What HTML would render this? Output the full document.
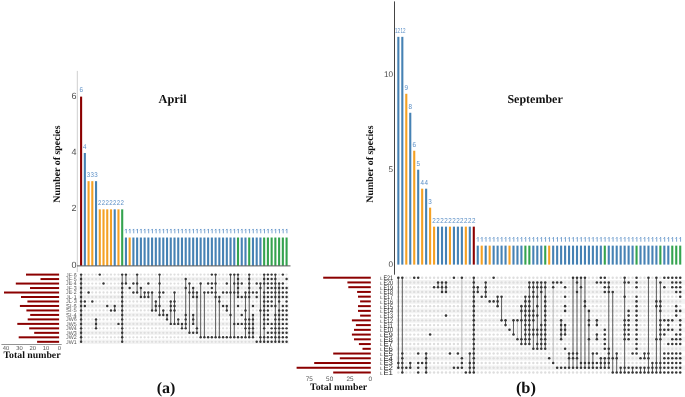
<!DOCTYPE html><html><head><meta charset="utf-8"><style>html,body{margin:0;padding:0;background:#fff;}svg{display:block;will-change:transform;} text{font-family:"Liberation Sans", sans-serif;text-rendering:geometricPrecision;} .sf{font-family:"Liberation Serif", serif;font-weight:bold;}</style></head><body>
<svg width="685" height="397" viewBox="0 0 685 397">
<rect width="685" height="397" fill="#fff"/>
<line x1="77.3" y1="70.9" x2="77.3" y2="272" stroke="#cfcfcf" stroke-width="1"/>
<text x="76.4" y="267.8" text-anchor="end" font-size="9" fill="#4d4d4d">0</text>
<text x="76.4" y="211.44" text-anchor="end" font-size="9" fill="#4d4d4d">2</text>
<text x="76.4" y="155.08" text-anchor="end" font-size="9" fill="#4d4d4d">4</text>
<text x="76.4" y="98.72" text-anchor="end" font-size="9" fill="#4d4d4d">6</text>
<rect x="80.05" y="96.62" width="2.1" height="169.08" fill="#8b0000"/>
<rect x="83.79" y="152.98" width="2.1" height="112.72" fill="#4682b4"/>
<rect x="87.52" y="181.16" width="2.1" height="84.54" fill="#f4a124"/>
<rect x="91.26" y="181.16" width="2.1" height="84.54" fill="#f4a124"/>
<rect x="94.99" y="181.16" width="2.1" height="84.54" fill="#4682b4"/>
<rect x="98.73" y="209.34" width="2.1" height="56.36" fill="#f4a124"/>
<rect x="102.47" y="209.34" width="2.1" height="56.36" fill="#f4a124"/>
<rect x="106.2" y="209.34" width="2.1" height="56.36" fill="#f4a124"/>
<rect x="109.94" y="209.34" width="2.1" height="56.36" fill="#f4a124"/>
<rect x="113.67" y="209.34" width="2.1" height="56.36" fill="#4682b4"/>
<rect x="117.41" y="209.34" width="2.1" height="56.36" fill="#f4a124"/>
<rect x="121.15" y="209.34" width="2.1" height="56.36" fill="#34a34f"/>
<rect x="124.88" y="237.52" width="2.1" height="28.18" fill="#4682b4"/>
<rect x="128.62" y="237.52" width="2.1" height="28.18" fill="#f4a124"/>
<rect x="132.35" y="237.52" width="2.1" height="28.18" fill="#4682b4"/>
<rect x="136.09" y="237.52" width="2.1" height="28.18" fill="#4682b4"/>
<rect x="139.83" y="237.52" width="2.1" height="28.18" fill="#4682b4"/>
<rect x="143.56" y="237.52" width="2.1" height="28.18" fill="#4682b4"/>
<rect x="147.3" y="237.52" width="2.1" height="28.18" fill="#4682b4"/>
<rect x="151.03" y="237.52" width="2.1" height="28.18" fill="#4682b4"/>
<rect x="154.77" y="237.52" width="2.1" height="28.18" fill="#4682b4"/>
<rect x="158.51" y="237.52" width="2.1" height="28.18" fill="#4682b4"/>
<rect x="162.24" y="237.52" width="2.1" height="28.18" fill="#4682b4"/>
<rect x="165.98" y="237.52" width="2.1" height="28.18" fill="#4682b4"/>
<rect x="169.71" y="237.52" width="2.1" height="28.18" fill="#4682b4"/>
<rect x="173.45" y="237.52" width="2.1" height="28.18" fill="#4682b4"/>
<rect x="177.19" y="237.52" width="2.1" height="28.18" fill="#4682b4"/>
<rect x="180.92" y="237.52" width="2.1" height="28.18" fill="#4682b4"/>
<rect x="184.66" y="237.52" width="2.1" height="28.18" fill="#4682b4"/>
<rect x="188.39" y="237.52" width="2.1" height="28.18" fill="#4682b4"/>
<rect x="192.13" y="237.52" width="2.1" height="28.18" fill="#4682b4"/>
<rect x="195.87" y="237.52" width="2.1" height="28.18" fill="#4682b4"/>
<rect x="199.6" y="237.52" width="2.1" height="28.18" fill="#4682b4"/>
<rect x="203.34" y="237.52" width="2.1" height="28.18" fill="#4682b4"/>
<rect x="207.07" y="237.52" width="2.1" height="28.18" fill="#4682b4"/>
<rect x="210.81" y="237.52" width="2.1" height="28.18" fill="#4682b4"/>
<rect x="214.55" y="237.52" width="2.1" height="28.18" fill="#4682b4"/>
<rect x="218.28" y="237.52" width="2.1" height="28.18" fill="#4682b4"/>
<rect x="222.02" y="237.52" width="2.1" height="28.18" fill="#4682b4"/>
<rect x="225.75" y="237.52" width="2.1" height="28.18" fill="#4682b4"/>
<rect x="229.49" y="237.52" width="2.1" height="28.18" fill="#4682b4"/>
<rect x="233.23" y="237.52" width="2.1" height="28.18" fill="#4682b4"/>
<rect x="236.96" y="237.52" width="2.1" height="28.18" fill="#34a34f"/>
<rect x="240.7" y="237.52" width="2.1" height="28.18" fill="#4682b4"/>
<rect x="244.43" y="237.52" width="2.1" height="28.18" fill="#4682b4"/>
<rect x="248.17" y="237.52" width="2.1" height="28.18" fill="#34a34f"/>
<rect x="251.91" y="237.52" width="2.1" height="28.18" fill="#4682b4"/>
<rect x="255.64" y="237.52" width="2.1" height="28.18" fill="#4682b4"/>
<rect x="259.38" y="237.52" width="2.1" height="28.18" fill="#4682b4"/>
<rect x="263.11" y="237.52" width="2.1" height="28.18" fill="#34a34f"/>
<rect x="266.85" y="237.52" width="2.1" height="28.18" fill="#34a34f"/>
<rect x="270.59" y="237.52" width="2.1" height="28.18" fill="#34a34f"/>
<rect x="274.32" y="237.52" width="2.1" height="28.18" fill="#34a34f"/>
<rect x="278.06" y="237.52" width="2.1" height="28.18" fill="#34a34f"/>
<rect x="281.79" y="237.52" width="2.1" height="28.18" fill="#34a34f"/>
<rect x="285.53" y="237.52" width="2.1" height="28.18" fill="#34a34f"/>
<text x="81.1" y="92.42" text-anchor="middle" font-size="7" fill="#5b8fc6" textLength="3.45" lengthAdjust="spacingAndGlyphs">6</text>
<text x="84.84" y="148.78" text-anchor="middle" font-size="7" fill="#5b8fc6" textLength="3.45" lengthAdjust="spacingAndGlyphs">4</text>
<text x="88.57" y="176.96" text-anchor="middle" font-size="7" fill="#5b8fc6" textLength="3.45" lengthAdjust="spacingAndGlyphs">3</text>
<text x="92.31" y="176.96" text-anchor="middle" font-size="7" fill="#5b8fc6" textLength="3.45" lengthAdjust="spacingAndGlyphs">3</text>
<text x="96.04" y="176.96" text-anchor="middle" font-size="7" fill="#5b8fc6" textLength="3.45" lengthAdjust="spacingAndGlyphs">3</text>
<text x="99.78" y="205.14" text-anchor="middle" font-size="7" fill="#5b8fc6" textLength="3.45" lengthAdjust="spacingAndGlyphs">2</text>
<text x="103.52" y="205.14" text-anchor="middle" font-size="7" fill="#5b8fc6" textLength="3.45" lengthAdjust="spacingAndGlyphs">2</text>
<text x="107.25" y="205.14" text-anchor="middle" font-size="7" fill="#5b8fc6" textLength="3.45" lengthAdjust="spacingAndGlyphs">2</text>
<text x="110.99" y="205.14" text-anchor="middle" font-size="7" fill="#5b8fc6" textLength="3.45" lengthAdjust="spacingAndGlyphs">2</text>
<text x="114.72" y="205.14" text-anchor="middle" font-size="7" fill="#5b8fc6" textLength="3.45" lengthAdjust="spacingAndGlyphs">2</text>
<text x="118.46" y="205.14" text-anchor="middle" font-size="7" fill="#5b8fc6" textLength="3.45" lengthAdjust="spacingAndGlyphs">2</text>
<text x="122.2" y="205.14" text-anchor="middle" font-size="7" fill="#5b8fc6" textLength="3.45" lengthAdjust="spacingAndGlyphs">2</text>
<path d="M125.08 230.28L126.28 228.98L126.28 233.32" fill="none" stroke="#5b8fc6" stroke-width="0.8"/>
<path d="M128.82 230.28L130.02 228.98L130.02 233.32" fill="none" stroke="#5b8fc6" stroke-width="0.8"/>
<path d="M132.55 230.28L133.75 228.98L133.75 233.32" fill="none" stroke="#5b8fc6" stroke-width="0.8"/>
<path d="M136.29 230.28L137.49 228.98L137.49 233.32" fill="none" stroke="#5b8fc6" stroke-width="0.8"/>
<path d="M140.03 230.28L141.23 228.98L141.23 233.32" fill="none" stroke="#5b8fc6" stroke-width="0.8"/>
<path d="M143.76 230.28L144.96 228.98L144.96 233.32" fill="none" stroke="#5b8fc6" stroke-width="0.8"/>
<path d="M147.5 230.28L148.7 228.98L148.7 233.32" fill="none" stroke="#5b8fc6" stroke-width="0.8"/>
<path d="M151.23 230.28L152.43 228.98L152.43 233.32" fill="none" stroke="#5b8fc6" stroke-width="0.8"/>
<path d="M154.97 230.28L156.17 228.98L156.17 233.32" fill="none" stroke="#5b8fc6" stroke-width="0.8"/>
<path d="M158.71 230.28L159.91 228.98L159.91 233.32" fill="none" stroke="#5b8fc6" stroke-width="0.8"/>
<path d="M162.44 230.28L163.64 228.98L163.64 233.32" fill="none" stroke="#5b8fc6" stroke-width="0.8"/>
<path d="M166.18 230.28L167.38 228.98L167.38 233.32" fill="none" stroke="#5b8fc6" stroke-width="0.8"/>
<path d="M169.91 230.28L171.11 228.98L171.11 233.32" fill="none" stroke="#5b8fc6" stroke-width="0.8"/>
<path d="M173.65 230.28L174.85 228.98L174.85 233.32" fill="none" stroke="#5b8fc6" stroke-width="0.8"/>
<path d="M177.39 230.28L178.59 228.98L178.59 233.32" fill="none" stroke="#5b8fc6" stroke-width="0.8"/>
<path d="M181.12 230.28L182.32 228.98L182.32 233.32" fill="none" stroke="#5b8fc6" stroke-width="0.8"/>
<path d="M184.86 230.28L186.06 228.98L186.06 233.32" fill="none" stroke="#5b8fc6" stroke-width="0.8"/>
<path d="M188.59 230.28L189.79 228.98L189.79 233.32" fill="none" stroke="#5b8fc6" stroke-width="0.8"/>
<path d="M192.33 230.28L193.53 228.98L193.53 233.32" fill="none" stroke="#5b8fc6" stroke-width="0.8"/>
<path d="M196.07 230.28L197.27 228.98L197.27 233.32" fill="none" stroke="#5b8fc6" stroke-width="0.8"/>
<path d="M199.8 230.28L201 228.98L201 233.32" fill="none" stroke="#5b8fc6" stroke-width="0.8"/>
<path d="M203.54 230.28L204.74 228.98L204.74 233.32" fill="none" stroke="#5b8fc6" stroke-width="0.8"/>
<path d="M207.27 230.28L208.47 228.98L208.47 233.32" fill="none" stroke="#5b8fc6" stroke-width="0.8"/>
<path d="M211.01 230.28L212.21 228.98L212.21 233.32" fill="none" stroke="#5b8fc6" stroke-width="0.8"/>
<path d="M214.75 230.28L215.95 228.98L215.95 233.32" fill="none" stroke="#5b8fc6" stroke-width="0.8"/>
<path d="M218.48 230.28L219.68 228.98L219.68 233.32" fill="none" stroke="#5b8fc6" stroke-width="0.8"/>
<path d="M222.22 230.28L223.42 228.98L223.42 233.32" fill="none" stroke="#5b8fc6" stroke-width="0.8"/>
<path d="M225.95 230.28L227.15 228.98L227.15 233.32" fill="none" stroke="#5b8fc6" stroke-width="0.8"/>
<path d="M229.69 230.28L230.89 228.98L230.89 233.32" fill="none" stroke="#5b8fc6" stroke-width="0.8"/>
<path d="M233.43 230.28L234.63 228.98L234.63 233.32" fill="none" stroke="#5b8fc6" stroke-width="0.8"/>
<path d="M237.16 230.28L238.36 228.98L238.36 233.32" fill="none" stroke="#5b8fc6" stroke-width="0.8"/>
<path d="M240.9 230.28L242.1 228.98L242.1 233.32" fill="none" stroke="#5b8fc6" stroke-width="0.8"/>
<path d="M244.63 230.28L245.83 228.98L245.83 233.32" fill="none" stroke="#5b8fc6" stroke-width="0.8"/>
<path d="M248.37 230.28L249.57 228.98L249.57 233.32" fill="none" stroke="#5b8fc6" stroke-width="0.8"/>
<path d="M252.11 230.28L253.31 228.98L253.31 233.32" fill="none" stroke="#5b8fc6" stroke-width="0.8"/>
<path d="M255.84 230.28L257.04 228.98L257.04 233.32" fill="none" stroke="#5b8fc6" stroke-width="0.8"/>
<path d="M259.58 230.28L260.78 228.98L260.78 233.32" fill="none" stroke="#5b8fc6" stroke-width="0.8"/>
<path d="M263.31 230.28L264.51 228.98L264.51 233.32" fill="none" stroke="#5b8fc6" stroke-width="0.8"/>
<path d="M267.05 230.28L268.25 228.98L268.25 233.32" fill="none" stroke="#5b8fc6" stroke-width="0.8"/>
<path d="M270.79 230.28L271.99 228.98L271.99 233.32" fill="none" stroke="#5b8fc6" stroke-width="0.8"/>
<path d="M274.52 230.28L275.72 228.98L275.72 233.32" fill="none" stroke="#5b8fc6" stroke-width="0.8"/>
<path d="M278.26 230.28L279.46 228.98L279.46 233.32" fill="none" stroke="#5b8fc6" stroke-width="0.8"/>
<path d="M281.99 230.28L283.19 228.98L283.19 233.32" fill="none" stroke="#5b8fc6" stroke-width="0.8"/>
<path d="M285.73 230.28L286.93 228.98L286.93 233.32" fill="none" stroke="#5b8fc6" stroke-width="0.8"/>
<line x1="77" y1="265.9" x2="290.5" y2="265.9" stroke="#444" stroke-width="0.9"/>
<rect x="78.5" y="276.84" width="210.5" height="4.48" fill="#f3f3f3"/>
<rect x="78.5" y="285.8" width="210.5" height="4.48" fill="#f3f3f3"/>
<rect x="78.5" y="294.76" width="210.5" height="4.48" fill="#f3f3f3"/>
<rect x="78.5" y="303.72" width="210.5" height="4.48" fill="#f3f3f3"/>
<rect x="78.5" y="312.68" width="210.5" height="4.48" fill="#f3f3f3"/>
<rect x="78.5" y="321.64" width="210.5" height="4.48" fill="#f3f3f3"/>
<rect x="78.5" y="330.6" width="210.5" height="4.48" fill="#f3f3f3"/>
<rect x="78.5" y="339.56" width="210.5" height="4.48" fill="#f3f3f3"/>
<circle cx="84.84" cy="274.6" r="1.15" fill="#dedede"/>
<circle cx="84.84" cy="279.08" r="1.15" fill="#dedede"/>
<circle cx="84.84" cy="283.56" r="1.15" fill="#dedede"/>
<circle cx="84.84" cy="288.04" r="1.15" fill="#dedede"/>
<circle cx="84.84" cy="292.52" r="1.15" fill="#dedede"/>
<circle cx="84.84" cy="297" r="1.15" fill="#dedede"/>
<circle cx="84.84" cy="310.44" r="1.15" fill="#dedede"/>
<circle cx="84.84" cy="314.92" r="1.15" fill="#dedede"/>
<circle cx="84.84" cy="319.4" r="1.15" fill="#dedede"/>
<circle cx="84.84" cy="323.88" r="1.15" fill="#dedede"/>
<circle cx="84.84" cy="328.36" r="1.15" fill="#dedede"/>
<circle cx="84.84" cy="332.84" r="1.15" fill="#dedede"/>
<circle cx="84.84" cy="337.32" r="1.15" fill="#dedede"/>
<circle cx="84.84" cy="341.8" r="1.15" fill="#dedede"/>
<circle cx="88.57" cy="274.6" r="1.15" fill="#dedede"/>
<circle cx="88.57" cy="279.08" r="1.15" fill="#dedede"/>
<circle cx="88.57" cy="283.56" r="1.15" fill="#dedede"/>
<circle cx="88.57" cy="288.04" r="1.15" fill="#dedede"/>
<circle cx="88.57" cy="297" r="1.15" fill="#dedede"/>
<circle cx="88.57" cy="301.48" r="1.15" fill="#dedede"/>
<circle cx="88.57" cy="305.96" r="1.15" fill="#dedede"/>
<circle cx="88.57" cy="310.44" r="1.15" fill="#dedede"/>
<circle cx="88.57" cy="314.92" r="1.15" fill="#dedede"/>
<circle cx="88.57" cy="319.4" r="1.15" fill="#dedede"/>
<circle cx="88.57" cy="323.88" r="1.15" fill="#dedede"/>
<circle cx="88.57" cy="328.36" r="1.15" fill="#dedede"/>
<circle cx="88.57" cy="332.84" r="1.15" fill="#dedede"/>
<circle cx="88.57" cy="337.32" r="1.15" fill="#dedede"/>
<circle cx="88.57" cy="341.8" r="1.15" fill="#dedede"/>
<circle cx="92.31" cy="274.6" r="1.15" fill="#dedede"/>
<circle cx="92.31" cy="279.08" r="1.15" fill="#dedede"/>
<circle cx="92.31" cy="283.56" r="1.15" fill="#dedede"/>
<circle cx="92.31" cy="288.04" r="1.15" fill="#dedede"/>
<circle cx="92.31" cy="292.52" r="1.15" fill="#dedede"/>
<circle cx="92.31" cy="297" r="1.15" fill="#dedede"/>
<circle cx="92.31" cy="305.96" r="1.15" fill="#dedede"/>
<circle cx="92.31" cy="310.44" r="1.15" fill="#dedede"/>
<circle cx="92.31" cy="314.92" r="1.15" fill="#dedede"/>
<circle cx="92.31" cy="319.4" r="1.15" fill="#dedede"/>
<circle cx="92.31" cy="323.88" r="1.15" fill="#dedede"/>
<circle cx="92.31" cy="328.36" r="1.15" fill="#dedede"/>
<circle cx="92.31" cy="332.84" r="1.15" fill="#dedede"/>
<circle cx="92.31" cy="337.32" r="1.15" fill="#dedede"/>
<circle cx="92.31" cy="341.8" r="1.15" fill="#dedede"/>
<circle cx="96.04" cy="274.6" r="1.15" fill="#dedede"/>
<circle cx="96.04" cy="279.08" r="1.15" fill="#dedede"/>
<circle cx="96.04" cy="283.56" r="1.15" fill="#dedede"/>
<circle cx="96.04" cy="288.04" r="1.15" fill="#dedede"/>
<circle cx="96.04" cy="292.52" r="1.15" fill="#dedede"/>
<circle cx="96.04" cy="297" r="1.15" fill="#dedede"/>
<circle cx="96.04" cy="301.48" r="1.15" fill="#dedede"/>
<circle cx="96.04" cy="305.96" r="1.15" fill="#dedede"/>
<circle cx="96.04" cy="310.44" r="1.15" fill="#dedede"/>
<circle cx="96.04" cy="314.92" r="1.15" fill="#dedede"/>
<circle cx="96.04" cy="332.84" r="1.15" fill="#dedede"/>
<circle cx="96.04" cy="337.32" r="1.15" fill="#dedede"/>
<circle cx="96.04" cy="341.8" r="1.15" fill="#dedede"/>
<circle cx="99.78" cy="279.08" r="1.15" fill="#dedede"/>
<circle cx="99.78" cy="283.56" r="1.15" fill="#dedede"/>
<circle cx="99.78" cy="288.04" r="1.15" fill="#dedede"/>
<circle cx="99.78" cy="292.52" r="1.15" fill="#dedede"/>
<circle cx="99.78" cy="297" r="1.15" fill="#dedede"/>
<circle cx="99.78" cy="301.48" r="1.15" fill="#dedede"/>
<circle cx="99.78" cy="305.96" r="1.15" fill="#dedede"/>
<circle cx="99.78" cy="310.44" r="1.15" fill="#dedede"/>
<circle cx="99.78" cy="314.92" r="1.15" fill="#dedede"/>
<circle cx="99.78" cy="319.4" r="1.15" fill="#dedede"/>
<circle cx="99.78" cy="323.88" r="1.15" fill="#dedede"/>
<circle cx="99.78" cy="328.36" r="1.15" fill="#dedede"/>
<circle cx="99.78" cy="332.84" r="1.15" fill="#dedede"/>
<circle cx="99.78" cy="337.32" r="1.15" fill="#dedede"/>
<circle cx="99.78" cy="341.8" r="1.15" fill="#dedede"/>
<circle cx="103.52" cy="274.6" r="1.15" fill="#dedede"/>
<circle cx="103.52" cy="279.08" r="1.15" fill="#dedede"/>
<circle cx="103.52" cy="288.04" r="1.15" fill="#dedede"/>
<circle cx="103.52" cy="292.52" r="1.15" fill="#dedede"/>
<circle cx="103.52" cy="297" r="1.15" fill="#dedede"/>
<circle cx="103.52" cy="301.48" r="1.15" fill="#dedede"/>
<circle cx="103.52" cy="305.96" r="1.15" fill="#dedede"/>
<circle cx="103.52" cy="310.44" r="1.15" fill="#dedede"/>
<circle cx="103.52" cy="314.92" r="1.15" fill="#dedede"/>
<circle cx="103.52" cy="319.4" r="1.15" fill="#dedede"/>
<circle cx="103.52" cy="323.88" r="1.15" fill="#dedede"/>
<circle cx="103.52" cy="328.36" r="1.15" fill="#dedede"/>
<circle cx="103.52" cy="332.84" r="1.15" fill="#dedede"/>
<circle cx="103.52" cy="337.32" r="1.15" fill="#dedede"/>
<circle cx="103.52" cy="341.8" r="1.15" fill="#dedede"/>
<circle cx="107.25" cy="274.6" r="1.15" fill="#dedede"/>
<circle cx="107.25" cy="279.08" r="1.15" fill="#dedede"/>
<circle cx="107.25" cy="283.56" r="1.15" fill="#dedede"/>
<circle cx="107.25" cy="288.04" r="1.15" fill="#dedede"/>
<circle cx="107.25" cy="292.52" r="1.15" fill="#dedede"/>
<circle cx="107.25" cy="297" r="1.15" fill="#dedede"/>
<circle cx="107.25" cy="301.48" r="1.15" fill="#dedede"/>
<circle cx="107.25" cy="310.44" r="1.15" fill="#dedede"/>
<circle cx="107.25" cy="314.92" r="1.15" fill="#dedede"/>
<circle cx="107.25" cy="319.4" r="1.15" fill="#dedede"/>
<circle cx="107.25" cy="323.88" r="1.15" fill="#dedede"/>
<circle cx="107.25" cy="328.36" r="1.15" fill="#dedede"/>
<circle cx="107.25" cy="332.84" r="1.15" fill="#dedede"/>
<circle cx="107.25" cy="337.32" r="1.15" fill="#dedede"/>
<circle cx="107.25" cy="341.8" r="1.15" fill="#dedede"/>
<circle cx="110.99" cy="274.6" r="1.15" fill="#dedede"/>
<circle cx="110.99" cy="279.08" r="1.15" fill="#dedede"/>
<circle cx="110.99" cy="283.56" r="1.15" fill="#dedede"/>
<circle cx="110.99" cy="288.04" r="1.15" fill="#dedede"/>
<circle cx="110.99" cy="292.52" r="1.15" fill="#dedede"/>
<circle cx="110.99" cy="297" r="1.15" fill="#dedede"/>
<circle cx="110.99" cy="301.48" r="1.15" fill="#dedede"/>
<circle cx="110.99" cy="305.96" r="1.15" fill="#dedede"/>
<circle cx="110.99" cy="314.92" r="1.15" fill="#dedede"/>
<circle cx="110.99" cy="319.4" r="1.15" fill="#dedede"/>
<circle cx="110.99" cy="323.88" r="1.15" fill="#dedede"/>
<circle cx="110.99" cy="328.36" r="1.15" fill="#dedede"/>
<circle cx="110.99" cy="332.84" r="1.15" fill="#dedede"/>
<circle cx="110.99" cy="337.32" r="1.15" fill="#dedede"/>
<circle cx="110.99" cy="341.8" r="1.15" fill="#dedede"/>
<circle cx="114.72" cy="274.6" r="1.15" fill="#dedede"/>
<circle cx="114.72" cy="279.08" r="1.15" fill="#dedede"/>
<circle cx="114.72" cy="283.56" r="1.15" fill="#dedede"/>
<circle cx="114.72" cy="288.04" r="1.15" fill="#dedede"/>
<circle cx="114.72" cy="292.52" r="1.15" fill="#dedede"/>
<circle cx="114.72" cy="297" r="1.15" fill="#dedede"/>
<circle cx="114.72" cy="301.48" r="1.15" fill="#dedede"/>
<circle cx="114.72" cy="314.92" r="1.15" fill="#dedede"/>
<circle cx="114.72" cy="319.4" r="1.15" fill="#dedede"/>
<circle cx="114.72" cy="323.88" r="1.15" fill="#dedede"/>
<circle cx="114.72" cy="328.36" r="1.15" fill="#dedede"/>
<circle cx="114.72" cy="332.84" r="1.15" fill="#dedede"/>
<circle cx="114.72" cy="337.32" r="1.15" fill="#dedede"/>
<circle cx="114.72" cy="341.8" r="1.15" fill="#dedede"/>
<circle cx="118.46" cy="274.6" r="1.15" fill="#dedede"/>
<circle cx="118.46" cy="279.08" r="1.15" fill="#dedede"/>
<circle cx="118.46" cy="283.56" r="1.15" fill="#dedede"/>
<circle cx="118.46" cy="288.04" r="1.15" fill="#dedede"/>
<circle cx="118.46" cy="292.52" r="1.15" fill="#dedede"/>
<circle cx="118.46" cy="297" r="1.15" fill="#dedede"/>
<circle cx="118.46" cy="301.48" r="1.15" fill="#dedede"/>
<circle cx="118.46" cy="305.96" r="1.15" fill="#dedede"/>
<circle cx="118.46" cy="310.44" r="1.15" fill="#dedede"/>
<circle cx="118.46" cy="314.92" r="1.15" fill="#dedede"/>
<circle cx="118.46" cy="319.4" r="1.15" fill="#dedede"/>
<circle cx="118.46" cy="328.36" r="1.15" fill="#dedede"/>
<circle cx="118.46" cy="332.84" r="1.15" fill="#dedede"/>
<circle cx="118.46" cy="337.32" r="1.15" fill="#dedede"/>
<circle cx="118.46" cy="341.8" r="1.15" fill="#dedede"/>
<circle cx="122.2" cy="279.08" r="1.15" fill="#dedede"/>
<circle cx="125.93" cy="279.08" r="1.15" fill="#dedede"/>
<circle cx="125.93" cy="288.04" r="1.15" fill="#dedede"/>
<circle cx="125.93" cy="292.52" r="1.15" fill="#dedede"/>
<circle cx="125.93" cy="297" r="1.15" fill="#dedede"/>
<circle cx="125.93" cy="301.48" r="1.15" fill="#dedede"/>
<circle cx="125.93" cy="305.96" r="1.15" fill="#dedede"/>
<circle cx="125.93" cy="310.44" r="1.15" fill="#dedede"/>
<circle cx="125.93" cy="314.92" r="1.15" fill="#dedede"/>
<circle cx="125.93" cy="319.4" r="1.15" fill="#dedede"/>
<circle cx="125.93" cy="323.88" r="1.15" fill="#dedede"/>
<circle cx="125.93" cy="328.36" r="1.15" fill="#dedede"/>
<circle cx="125.93" cy="332.84" r="1.15" fill="#dedede"/>
<circle cx="125.93" cy="337.32" r="1.15" fill="#dedede"/>
<circle cx="125.93" cy="341.8" r="1.15" fill="#dedede"/>
<circle cx="129.67" cy="274.6" r="1.15" fill="#dedede"/>
<circle cx="129.67" cy="279.08" r="1.15" fill="#dedede"/>
<circle cx="129.67" cy="283.56" r="1.15" fill="#dedede"/>
<circle cx="129.67" cy="292.52" r="1.15" fill="#dedede"/>
<circle cx="129.67" cy="297" r="1.15" fill="#dedede"/>
<circle cx="129.67" cy="301.48" r="1.15" fill="#dedede"/>
<circle cx="129.67" cy="305.96" r="1.15" fill="#dedede"/>
<circle cx="129.67" cy="310.44" r="1.15" fill="#dedede"/>
<circle cx="129.67" cy="314.92" r="1.15" fill="#dedede"/>
<circle cx="129.67" cy="319.4" r="1.15" fill="#dedede"/>
<circle cx="129.67" cy="323.88" r="1.15" fill="#dedede"/>
<circle cx="129.67" cy="328.36" r="1.15" fill="#dedede"/>
<circle cx="129.67" cy="332.84" r="1.15" fill="#dedede"/>
<circle cx="129.67" cy="337.32" r="1.15" fill="#dedede"/>
<circle cx="129.67" cy="341.8" r="1.15" fill="#dedede"/>
<circle cx="133.4" cy="274.6" r="1.15" fill="#dedede"/>
<circle cx="133.4" cy="279.08" r="1.15" fill="#dedede"/>
<circle cx="133.4" cy="288.04" r="1.15" fill="#dedede"/>
<circle cx="133.4" cy="297" r="1.15" fill="#dedede"/>
<circle cx="133.4" cy="301.48" r="1.15" fill="#dedede"/>
<circle cx="133.4" cy="305.96" r="1.15" fill="#dedede"/>
<circle cx="133.4" cy="310.44" r="1.15" fill="#dedede"/>
<circle cx="133.4" cy="314.92" r="1.15" fill="#dedede"/>
<circle cx="133.4" cy="319.4" r="1.15" fill="#dedede"/>
<circle cx="133.4" cy="323.88" r="1.15" fill="#dedede"/>
<circle cx="133.4" cy="328.36" r="1.15" fill="#dedede"/>
<circle cx="133.4" cy="332.84" r="1.15" fill="#dedede"/>
<circle cx="133.4" cy="337.32" r="1.15" fill="#dedede"/>
<circle cx="133.4" cy="341.8" r="1.15" fill="#dedede"/>
<circle cx="137.14" cy="279.08" r="1.15" fill="#dedede"/>
<circle cx="137.14" cy="288.04" r="1.15" fill="#dedede"/>
<circle cx="137.14" cy="297" r="1.15" fill="#dedede"/>
<circle cx="137.14" cy="301.48" r="1.15" fill="#dedede"/>
<circle cx="137.14" cy="305.96" r="1.15" fill="#dedede"/>
<circle cx="137.14" cy="310.44" r="1.15" fill="#dedede"/>
<circle cx="137.14" cy="314.92" r="1.15" fill="#dedede"/>
<circle cx="137.14" cy="319.4" r="1.15" fill="#dedede"/>
<circle cx="137.14" cy="323.88" r="1.15" fill="#dedede"/>
<circle cx="137.14" cy="328.36" r="1.15" fill="#dedede"/>
<circle cx="137.14" cy="332.84" r="1.15" fill="#dedede"/>
<circle cx="137.14" cy="337.32" r="1.15" fill="#dedede"/>
<circle cx="137.14" cy="341.8" r="1.15" fill="#dedede"/>
<circle cx="140.88" cy="274.6" r="1.15" fill="#dedede"/>
<circle cx="140.88" cy="279.08" r="1.15" fill="#dedede"/>
<circle cx="140.88" cy="283.56" r="1.15" fill="#dedede"/>
<circle cx="140.88" cy="292.52" r="1.15" fill="#dedede"/>
<circle cx="140.88" cy="301.48" r="1.15" fill="#dedede"/>
<circle cx="140.88" cy="305.96" r="1.15" fill="#dedede"/>
<circle cx="140.88" cy="310.44" r="1.15" fill="#dedede"/>
<circle cx="140.88" cy="314.92" r="1.15" fill="#dedede"/>
<circle cx="140.88" cy="319.4" r="1.15" fill="#dedede"/>
<circle cx="140.88" cy="323.88" r="1.15" fill="#dedede"/>
<circle cx="140.88" cy="328.36" r="1.15" fill="#dedede"/>
<circle cx="140.88" cy="332.84" r="1.15" fill="#dedede"/>
<circle cx="140.88" cy="337.32" r="1.15" fill="#dedede"/>
<circle cx="140.88" cy="341.8" r="1.15" fill="#dedede"/>
<circle cx="144.61" cy="274.6" r="1.15" fill="#dedede"/>
<circle cx="144.61" cy="279.08" r="1.15" fill="#dedede"/>
<circle cx="144.61" cy="283.56" r="1.15" fill="#dedede"/>
<circle cx="144.61" cy="288.04" r="1.15" fill="#dedede"/>
<circle cx="144.61" cy="301.48" r="1.15" fill="#dedede"/>
<circle cx="144.61" cy="305.96" r="1.15" fill="#dedede"/>
<circle cx="144.61" cy="310.44" r="1.15" fill="#dedede"/>
<circle cx="144.61" cy="314.92" r="1.15" fill="#dedede"/>
<circle cx="144.61" cy="319.4" r="1.15" fill="#dedede"/>
<circle cx="144.61" cy="323.88" r="1.15" fill="#dedede"/>
<circle cx="144.61" cy="328.36" r="1.15" fill="#dedede"/>
<circle cx="144.61" cy="332.84" r="1.15" fill="#dedede"/>
<circle cx="144.61" cy="337.32" r="1.15" fill="#dedede"/>
<circle cx="144.61" cy="341.8" r="1.15" fill="#dedede"/>
<circle cx="148.35" cy="274.6" r="1.15" fill="#dedede"/>
<circle cx="148.35" cy="279.08" r="1.15" fill="#dedede"/>
<circle cx="148.35" cy="288.04" r="1.15" fill="#dedede"/>
<circle cx="148.35" cy="301.48" r="1.15" fill="#dedede"/>
<circle cx="148.35" cy="305.96" r="1.15" fill="#dedede"/>
<circle cx="148.35" cy="310.44" r="1.15" fill="#dedede"/>
<circle cx="148.35" cy="314.92" r="1.15" fill="#dedede"/>
<circle cx="148.35" cy="319.4" r="1.15" fill="#dedede"/>
<circle cx="148.35" cy="323.88" r="1.15" fill="#dedede"/>
<circle cx="148.35" cy="328.36" r="1.15" fill="#dedede"/>
<circle cx="148.35" cy="332.84" r="1.15" fill="#dedede"/>
<circle cx="148.35" cy="337.32" r="1.15" fill="#dedede"/>
<circle cx="148.35" cy="341.8" r="1.15" fill="#dedede"/>
<circle cx="152.08" cy="274.6" r="1.15" fill="#dedede"/>
<circle cx="152.08" cy="279.08" r="1.15" fill="#dedede"/>
<circle cx="152.08" cy="283.56" r="1.15" fill="#dedede"/>
<circle cx="152.08" cy="288.04" r="1.15" fill="#dedede"/>
<circle cx="152.08" cy="297" r="1.15" fill="#dedede"/>
<circle cx="152.08" cy="301.48" r="1.15" fill="#dedede"/>
<circle cx="152.08" cy="305.96" r="1.15" fill="#dedede"/>
<circle cx="152.08" cy="314.92" r="1.15" fill="#dedede"/>
<circle cx="152.08" cy="319.4" r="1.15" fill="#dedede"/>
<circle cx="152.08" cy="323.88" r="1.15" fill="#dedede"/>
<circle cx="152.08" cy="328.36" r="1.15" fill="#dedede"/>
<circle cx="152.08" cy="332.84" r="1.15" fill="#dedede"/>
<circle cx="152.08" cy="337.32" r="1.15" fill="#dedede"/>
<circle cx="152.08" cy="341.8" r="1.15" fill="#dedede"/>
<circle cx="155.82" cy="274.6" r="1.15" fill="#dedede"/>
<circle cx="155.82" cy="279.08" r="1.15" fill="#dedede"/>
<circle cx="155.82" cy="283.56" r="1.15" fill="#dedede"/>
<circle cx="155.82" cy="288.04" r="1.15" fill="#dedede"/>
<circle cx="155.82" cy="292.52" r="1.15" fill="#dedede"/>
<circle cx="155.82" cy="297" r="1.15" fill="#dedede"/>
<circle cx="155.82" cy="314.92" r="1.15" fill="#dedede"/>
<circle cx="155.82" cy="319.4" r="1.15" fill="#dedede"/>
<circle cx="155.82" cy="323.88" r="1.15" fill="#dedede"/>
<circle cx="155.82" cy="328.36" r="1.15" fill="#dedede"/>
<circle cx="155.82" cy="332.84" r="1.15" fill="#dedede"/>
<circle cx="155.82" cy="337.32" r="1.15" fill="#dedede"/>
<circle cx="155.82" cy="341.8" r="1.15" fill="#dedede"/>
<circle cx="159.56" cy="279.08" r="1.15" fill="#dedede"/>
<circle cx="159.56" cy="288.04" r="1.15" fill="#dedede"/>
<circle cx="159.56" cy="301.48" r="1.15" fill="#dedede"/>
<circle cx="159.56" cy="310.44" r="1.15" fill="#dedede"/>
<circle cx="159.56" cy="319.4" r="1.15" fill="#dedede"/>
<circle cx="159.56" cy="323.88" r="1.15" fill="#dedede"/>
<circle cx="159.56" cy="328.36" r="1.15" fill="#dedede"/>
<circle cx="159.56" cy="332.84" r="1.15" fill="#dedede"/>
<circle cx="159.56" cy="337.32" r="1.15" fill="#dedede"/>
<circle cx="159.56" cy="341.8" r="1.15" fill="#dedede"/>
<circle cx="163.29" cy="274.6" r="1.15" fill="#dedede"/>
<circle cx="163.29" cy="279.08" r="1.15" fill="#dedede"/>
<circle cx="163.29" cy="283.56" r="1.15" fill="#dedede"/>
<circle cx="163.29" cy="288.04" r="1.15" fill="#dedede"/>
<circle cx="163.29" cy="297" r="1.15" fill="#dedede"/>
<circle cx="163.29" cy="301.48" r="1.15" fill="#dedede"/>
<circle cx="163.29" cy="305.96" r="1.15" fill="#dedede"/>
<circle cx="163.29" cy="319.4" r="1.15" fill="#dedede"/>
<circle cx="163.29" cy="323.88" r="1.15" fill="#dedede"/>
<circle cx="163.29" cy="328.36" r="1.15" fill="#dedede"/>
<circle cx="163.29" cy="332.84" r="1.15" fill="#dedede"/>
<circle cx="163.29" cy="337.32" r="1.15" fill="#dedede"/>
<circle cx="163.29" cy="341.8" r="1.15" fill="#dedede"/>
<circle cx="167.03" cy="274.6" r="1.15" fill="#dedede"/>
<circle cx="167.03" cy="279.08" r="1.15" fill="#dedede"/>
<circle cx="167.03" cy="283.56" r="1.15" fill="#dedede"/>
<circle cx="167.03" cy="288.04" r="1.15" fill="#dedede"/>
<circle cx="167.03" cy="292.52" r="1.15" fill="#dedede"/>
<circle cx="167.03" cy="297" r="1.15" fill="#dedede"/>
<circle cx="167.03" cy="301.48" r="1.15" fill="#dedede"/>
<circle cx="167.03" cy="305.96" r="1.15" fill="#dedede"/>
<circle cx="167.03" cy="310.44" r="1.15" fill="#dedede"/>
<circle cx="167.03" cy="323.88" r="1.15" fill="#dedede"/>
<circle cx="167.03" cy="328.36" r="1.15" fill="#dedede"/>
<circle cx="167.03" cy="332.84" r="1.15" fill="#dedede"/>
<circle cx="167.03" cy="337.32" r="1.15" fill="#dedede"/>
<circle cx="167.03" cy="341.8" r="1.15" fill="#dedede"/>
<circle cx="170.76" cy="274.6" r="1.15" fill="#dedede"/>
<circle cx="170.76" cy="279.08" r="1.15" fill="#dedede"/>
<circle cx="170.76" cy="283.56" r="1.15" fill="#dedede"/>
<circle cx="170.76" cy="288.04" r="1.15" fill="#dedede"/>
<circle cx="170.76" cy="292.52" r="1.15" fill="#dedede"/>
<circle cx="170.76" cy="297" r="1.15" fill="#dedede"/>
<circle cx="170.76" cy="314.92" r="1.15" fill="#dedede"/>
<circle cx="170.76" cy="319.4" r="1.15" fill="#dedede"/>
<circle cx="170.76" cy="328.36" r="1.15" fill="#dedede"/>
<circle cx="170.76" cy="332.84" r="1.15" fill="#dedede"/>
<circle cx="170.76" cy="337.32" r="1.15" fill="#dedede"/>
<circle cx="170.76" cy="341.8" r="1.15" fill="#dedede"/>
<circle cx="174.5" cy="274.6" r="1.15" fill="#dedede"/>
<circle cx="174.5" cy="279.08" r="1.15" fill="#dedede"/>
<circle cx="174.5" cy="283.56" r="1.15" fill="#dedede"/>
<circle cx="174.5" cy="288.04" r="1.15" fill="#dedede"/>
<circle cx="174.5" cy="297" r="1.15" fill="#dedede"/>
<circle cx="174.5" cy="314.92" r="1.15" fill="#dedede"/>
<circle cx="174.5" cy="319.4" r="1.15" fill="#dedede"/>
<circle cx="174.5" cy="328.36" r="1.15" fill="#dedede"/>
<circle cx="174.5" cy="332.84" r="1.15" fill="#dedede"/>
<circle cx="174.5" cy="337.32" r="1.15" fill="#dedede"/>
<circle cx="174.5" cy="341.8" r="1.15" fill="#dedede"/>
<circle cx="178.24" cy="274.6" r="1.15" fill="#dedede"/>
<circle cx="178.24" cy="279.08" r="1.15" fill="#dedede"/>
<circle cx="178.24" cy="283.56" r="1.15" fill="#dedede"/>
<circle cx="178.24" cy="288.04" r="1.15" fill="#dedede"/>
<circle cx="178.24" cy="292.52" r="1.15" fill="#dedede"/>
<circle cx="178.24" cy="297" r="1.15" fill="#dedede"/>
<circle cx="178.24" cy="301.48" r="1.15" fill="#dedede"/>
<circle cx="178.24" cy="305.96" r="1.15" fill="#dedede"/>
<circle cx="178.24" cy="310.44" r="1.15" fill="#dedede"/>
<circle cx="178.24" cy="314.92" r="1.15" fill="#dedede"/>
<circle cx="178.24" cy="328.36" r="1.15" fill="#dedede"/>
<circle cx="178.24" cy="332.84" r="1.15" fill="#dedede"/>
<circle cx="178.24" cy="337.32" r="1.15" fill="#dedede"/>
<circle cx="178.24" cy="341.8" r="1.15" fill="#dedede"/>
<circle cx="181.97" cy="274.6" r="1.15" fill="#dedede"/>
<circle cx="181.97" cy="279.08" r="1.15" fill="#dedede"/>
<circle cx="181.97" cy="283.56" r="1.15" fill="#dedede"/>
<circle cx="181.97" cy="288.04" r="1.15" fill="#dedede"/>
<circle cx="181.97" cy="292.52" r="1.15" fill="#dedede"/>
<circle cx="181.97" cy="297" r="1.15" fill="#dedede"/>
<circle cx="181.97" cy="301.48" r="1.15" fill="#dedede"/>
<circle cx="181.97" cy="305.96" r="1.15" fill="#dedede"/>
<circle cx="181.97" cy="310.44" r="1.15" fill="#dedede"/>
<circle cx="181.97" cy="314.92" r="1.15" fill="#dedede"/>
<circle cx="181.97" cy="319.4" r="1.15" fill="#dedede"/>
<circle cx="181.97" cy="332.84" r="1.15" fill="#dedede"/>
<circle cx="181.97" cy="337.32" r="1.15" fill="#dedede"/>
<circle cx="181.97" cy="341.8" r="1.15" fill="#dedede"/>
<circle cx="185.71" cy="274.6" r="1.15" fill="#dedede"/>
<circle cx="185.71" cy="283.56" r="1.15" fill="#dedede"/>
<circle cx="185.71" cy="292.52" r="1.15" fill="#dedede"/>
<circle cx="185.71" cy="297" r="1.15" fill="#dedede"/>
<circle cx="185.71" cy="301.48" r="1.15" fill="#dedede"/>
<circle cx="185.71" cy="305.96" r="1.15" fill="#dedede"/>
<circle cx="185.71" cy="310.44" r="1.15" fill="#dedede"/>
<circle cx="185.71" cy="332.84" r="1.15" fill="#dedede"/>
<circle cx="185.71" cy="337.32" r="1.15" fill="#dedede"/>
<circle cx="185.71" cy="341.8" r="1.15" fill="#dedede"/>
<circle cx="189.44" cy="274.6" r="1.15" fill="#dedede"/>
<circle cx="189.44" cy="279.08" r="1.15" fill="#dedede"/>
<circle cx="189.44" cy="288.04" r="1.15" fill="#dedede"/>
<circle cx="189.44" cy="297" r="1.15" fill="#dedede"/>
<circle cx="189.44" cy="301.48" r="1.15" fill="#dedede"/>
<circle cx="189.44" cy="305.96" r="1.15" fill="#dedede"/>
<circle cx="189.44" cy="310.44" r="1.15" fill="#dedede"/>
<circle cx="189.44" cy="314.92" r="1.15" fill="#dedede"/>
<circle cx="189.44" cy="319.4" r="1.15" fill="#dedede"/>
<circle cx="189.44" cy="323.88" r="1.15" fill="#dedede"/>
<circle cx="189.44" cy="328.36" r="1.15" fill="#dedede"/>
<circle cx="189.44" cy="337.32" r="1.15" fill="#dedede"/>
<circle cx="189.44" cy="341.8" r="1.15" fill="#dedede"/>
<circle cx="193.18" cy="274.6" r="1.15" fill="#dedede"/>
<circle cx="193.18" cy="279.08" r="1.15" fill="#dedede"/>
<circle cx="193.18" cy="283.56" r="1.15" fill="#dedede"/>
<circle cx="193.18" cy="301.48" r="1.15" fill="#dedede"/>
<circle cx="193.18" cy="305.96" r="1.15" fill="#dedede"/>
<circle cx="193.18" cy="310.44" r="1.15" fill="#dedede"/>
<circle cx="193.18" cy="328.36" r="1.15" fill="#dedede"/>
<circle cx="193.18" cy="337.32" r="1.15" fill="#dedede"/>
<circle cx="193.18" cy="341.8" r="1.15" fill="#dedede"/>
<circle cx="196.92" cy="274.6" r="1.15" fill="#dedede"/>
<circle cx="196.92" cy="279.08" r="1.15" fill="#dedede"/>
<circle cx="196.92" cy="283.56" r="1.15" fill="#dedede"/>
<circle cx="196.92" cy="288.04" r="1.15" fill="#dedede"/>
<circle cx="196.92" cy="301.48" r="1.15" fill="#dedede"/>
<circle cx="196.92" cy="305.96" r="1.15" fill="#dedede"/>
<circle cx="196.92" cy="310.44" r="1.15" fill="#dedede"/>
<circle cx="196.92" cy="314.92" r="1.15" fill="#dedede"/>
<circle cx="196.92" cy="319.4" r="1.15" fill="#dedede"/>
<circle cx="196.92" cy="323.88" r="1.15" fill="#dedede"/>
<circle cx="196.92" cy="337.32" r="1.15" fill="#dedede"/>
<circle cx="196.92" cy="341.8" r="1.15" fill="#dedede"/>
<circle cx="200.65" cy="274.6" r="1.15" fill="#dedede"/>
<circle cx="200.65" cy="279.08" r="1.15" fill="#dedede"/>
<circle cx="200.65" cy="288.04" r="1.15" fill="#dedede"/>
<circle cx="200.65" cy="292.52" r="1.15" fill="#dedede"/>
<circle cx="200.65" cy="297" r="1.15" fill="#dedede"/>
<circle cx="200.65" cy="301.48" r="1.15" fill="#dedede"/>
<circle cx="200.65" cy="305.96" r="1.15" fill="#dedede"/>
<circle cx="200.65" cy="310.44" r="1.15" fill="#dedede"/>
<circle cx="200.65" cy="314.92" r="1.15" fill="#dedede"/>
<circle cx="200.65" cy="319.4" r="1.15" fill="#dedede"/>
<circle cx="200.65" cy="323.88" r="1.15" fill="#dedede"/>
<circle cx="200.65" cy="328.36" r="1.15" fill="#dedede"/>
<circle cx="200.65" cy="332.84" r="1.15" fill="#dedede"/>
<circle cx="200.65" cy="341.8" r="1.15" fill="#dedede"/>
<circle cx="204.39" cy="274.6" r="1.15" fill="#dedede"/>
<circle cx="204.39" cy="279.08" r="1.15" fill="#dedede"/>
<circle cx="204.39" cy="283.56" r="1.15" fill="#dedede"/>
<circle cx="204.39" cy="288.04" r="1.15" fill="#dedede"/>
<circle cx="204.39" cy="297" r="1.15" fill="#dedede"/>
<circle cx="204.39" cy="301.48" r="1.15" fill="#dedede"/>
<circle cx="204.39" cy="305.96" r="1.15" fill="#dedede"/>
<circle cx="204.39" cy="310.44" r="1.15" fill="#dedede"/>
<circle cx="204.39" cy="314.92" r="1.15" fill="#dedede"/>
<circle cx="204.39" cy="319.4" r="1.15" fill="#dedede"/>
<circle cx="204.39" cy="323.88" r="1.15" fill="#dedede"/>
<circle cx="204.39" cy="328.36" r="1.15" fill="#dedede"/>
<circle cx="204.39" cy="332.84" r="1.15" fill="#dedede"/>
<circle cx="204.39" cy="341.8" r="1.15" fill="#dedede"/>
<circle cx="208.12" cy="274.6" r="1.15" fill="#dedede"/>
<circle cx="208.12" cy="279.08" r="1.15" fill="#dedede"/>
<circle cx="208.12" cy="288.04" r="1.15" fill="#dedede"/>
<circle cx="208.12" cy="297" r="1.15" fill="#dedede"/>
<circle cx="208.12" cy="301.48" r="1.15" fill="#dedede"/>
<circle cx="208.12" cy="305.96" r="1.15" fill="#dedede"/>
<circle cx="208.12" cy="310.44" r="1.15" fill="#dedede"/>
<circle cx="208.12" cy="314.92" r="1.15" fill="#dedede"/>
<circle cx="208.12" cy="319.4" r="1.15" fill="#dedede"/>
<circle cx="208.12" cy="323.88" r="1.15" fill="#dedede"/>
<circle cx="208.12" cy="328.36" r="1.15" fill="#dedede"/>
<circle cx="208.12" cy="332.84" r="1.15" fill="#dedede"/>
<circle cx="208.12" cy="341.8" r="1.15" fill="#dedede"/>
<circle cx="211.86" cy="279.08" r="1.15" fill="#dedede"/>
<circle cx="211.86" cy="297" r="1.15" fill="#dedede"/>
<circle cx="211.86" cy="301.48" r="1.15" fill="#dedede"/>
<circle cx="211.86" cy="305.96" r="1.15" fill="#dedede"/>
<circle cx="211.86" cy="310.44" r="1.15" fill="#dedede"/>
<circle cx="211.86" cy="314.92" r="1.15" fill="#dedede"/>
<circle cx="211.86" cy="319.4" r="1.15" fill="#dedede"/>
<circle cx="211.86" cy="323.88" r="1.15" fill="#dedede"/>
<circle cx="211.86" cy="328.36" r="1.15" fill="#dedede"/>
<circle cx="211.86" cy="332.84" r="1.15" fill="#dedede"/>
<circle cx="211.86" cy="341.8" r="1.15" fill="#dedede"/>
<circle cx="215.6" cy="279.08" r="1.15" fill="#dedede"/>
<circle cx="215.6" cy="288.04" r="1.15" fill="#dedede"/>
<circle cx="215.6" cy="301.48" r="1.15" fill="#dedede"/>
<circle cx="215.6" cy="305.96" r="1.15" fill="#dedede"/>
<circle cx="215.6" cy="310.44" r="1.15" fill="#dedede"/>
<circle cx="215.6" cy="314.92" r="1.15" fill="#dedede"/>
<circle cx="215.6" cy="319.4" r="1.15" fill="#dedede"/>
<circle cx="215.6" cy="323.88" r="1.15" fill="#dedede"/>
<circle cx="215.6" cy="328.36" r="1.15" fill="#dedede"/>
<circle cx="215.6" cy="332.84" r="1.15" fill="#dedede"/>
<circle cx="215.6" cy="341.8" r="1.15" fill="#dedede"/>
<circle cx="219.33" cy="274.6" r="1.15" fill="#dedede"/>
<circle cx="219.33" cy="279.08" r="1.15" fill="#dedede"/>
<circle cx="219.33" cy="283.56" r="1.15" fill="#dedede"/>
<circle cx="219.33" cy="288.04" r="1.15" fill="#dedede"/>
<circle cx="219.33" cy="292.52" r="1.15" fill="#dedede"/>
<circle cx="219.33" cy="305.96" r="1.15" fill="#dedede"/>
<circle cx="219.33" cy="310.44" r="1.15" fill="#dedede"/>
<circle cx="219.33" cy="314.92" r="1.15" fill="#dedede"/>
<circle cx="219.33" cy="319.4" r="1.15" fill="#dedede"/>
<circle cx="219.33" cy="323.88" r="1.15" fill="#dedede"/>
<circle cx="219.33" cy="328.36" r="1.15" fill="#dedede"/>
<circle cx="219.33" cy="332.84" r="1.15" fill="#dedede"/>
<circle cx="219.33" cy="341.8" r="1.15" fill="#dedede"/>
<circle cx="223.07" cy="274.6" r="1.15" fill="#dedede"/>
<circle cx="223.07" cy="279.08" r="1.15" fill="#dedede"/>
<circle cx="223.07" cy="283.56" r="1.15" fill="#dedede"/>
<circle cx="223.07" cy="288.04" r="1.15" fill="#dedede"/>
<circle cx="223.07" cy="297" r="1.15" fill="#dedede"/>
<circle cx="223.07" cy="301.48" r="1.15" fill="#dedede"/>
<circle cx="223.07" cy="310.44" r="1.15" fill="#dedede"/>
<circle cx="223.07" cy="314.92" r="1.15" fill="#dedede"/>
<circle cx="223.07" cy="319.4" r="1.15" fill="#dedede"/>
<circle cx="223.07" cy="323.88" r="1.15" fill="#dedede"/>
<circle cx="223.07" cy="328.36" r="1.15" fill="#dedede"/>
<circle cx="223.07" cy="332.84" r="1.15" fill="#dedede"/>
<circle cx="223.07" cy="341.8" r="1.15" fill="#dedede"/>
<circle cx="226.8" cy="274.6" r="1.15" fill="#dedede"/>
<circle cx="226.8" cy="279.08" r="1.15" fill="#dedede"/>
<circle cx="226.8" cy="288.04" r="1.15" fill="#dedede"/>
<circle cx="226.8" cy="297" r="1.15" fill="#dedede"/>
<circle cx="226.8" cy="301.48" r="1.15" fill="#dedede"/>
<circle cx="226.8" cy="314.92" r="1.15" fill="#dedede"/>
<circle cx="226.8" cy="319.4" r="1.15" fill="#dedede"/>
<circle cx="226.8" cy="323.88" r="1.15" fill="#dedede"/>
<circle cx="226.8" cy="328.36" r="1.15" fill="#dedede"/>
<circle cx="226.8" cy="332.84" r="1.15" fill="#dedede"/>
<circle cx="226.8" cy="341.8" r="1.15" fill="#dedede"/>
<circle cx="230.54" cy="279.08" r="1.15" fill="#dedede"/>
<circle cx="230.54" cy="283.56" r="1.15" fill="#dedede"/>
<circle cx="230.54" cy="288.04" r="1.15" fill="#dedede"/>
<circle cx="230.54" cy="297" r="1.15" fill="#dedede"/>
<circle cx="230.54" cy="301.48" r="1.15" fill="#dedede"/>
<circle cx="230.54" cy="305.96" r="1.15" fill="#dedede"/>
<circle cx="230.54" cy="310.44" r="1.15" fill="#dedede"/>
<circle cx="230.54" cy="319.4" r="1.15" fill="#dedede"/>
<circle cx="230.54" cy="323.88" r="1.15" fill="#dedede"/>
<circle cx="230.54" cy="328.36" r="1.15" fill="#dedede"/>
<circle cx="230.54" cy="332.84" r="1.15" fill="#dedede"/>
<circle cx="230.54" cy="341.8" r="1.15" fill="#dedede"/>
<circle cx="234.28" cy="279.08" r="1.15" fill="#dedede"/>
<circle cx="234.28" cy="288.04" r="1.15" fill="#dedede"/>
<circle cx="234.28" cy="297" r="1.15" fill="#dedede"/>
<circle cx="234.28" cy="301.48" r="1.15" fill="#dedede"/>
<circle cx="234.28" cy="305.96" r="1.15" fill="#dedede"/>
<circle cx="234.28" cy="310.44" r="1.15" fill="#dedede"/>
<circle cx="234.28" cy="314.92" r="1.15" fill="#dedede"/>
<circle cx="234.28" cy="319.4" r="1.15" fill="#dedede"/>
<circle cx="234.28" cy="328.36" r="1.15" fill="#dedede"/>
<circle cx="234.28" cy="332.84" r="1.15" fill="#dedede"/>
<circle cx="234.28" cy="341.8" r="1.15" fill="#dedede"/>
<circle cx="238.01" cy="301.48" r="1.15" fill="#dedede"/>
<circle cx="238.01" cy="310.44" r="1.15" fill="#dedede"/>
<circle cx="238.01" cy="314.92" r="1.15" fill="#dedede"/>
<circle cx="238.01" cy="319.4" r="1.15" fill="#dedede"/>
<circle cx="238.01" cy="328.36" r="1.15" fill="#dedede"/>
<circle cx="238.01" cy="332.84" r="1.15" fill="#dedede"/>
<circle cx="238.01" cy="341.8" r="1.15" fill="#dedede"/>
<circle cx="241.75" cy="274.6" r="1.15" fill="#dedede"/>
<circle cx="241.75" cy="279.08" r="1.15" fill="#dedede"/>
<circle cx="241.75" cy="288.04" r="1.15" fill="#dedede"/>
<circle cx="241.75" cy="292.52" r="1.15" fill="#dedede"/>
<circle cx="241.75" cy="301.48" r="1.15" fill="#dedede"/>
<circle cx="241.75" cy="305.96" r="1.15" fill="#dedede"/>
<circle cx="241.75" cy="310.44" r="1.15" fill="#dedede"/>
<circle cx="241.75" cy="319.4" r="1.15" fill="#dedede"/>
<circle cx="241.75" cy="328.36" r="1.15" fill="#dedede"/>
<circle cx="241.75" cy="332.84" r="1.15" fill="#dedede"/>
<circle cx="241.75" cy="341.8" r="1.15" fill="#dedede"/>
<circle cx="245.48" cy="274.6" r="1.15" fill="#dedede"/>
<circle cx="245.48" cy="279.08" r="1.15" fill="#dedede"/>
<circle cx="245.48" cy="283.56" r="1.15" fill="#dedede"/>
<circle cx="245.48" cy="288.04" r="1.15" fill="#dedede"/>
<circle cx="245.48" cy="301.48" r="1.15" fill="#dedede"/>
<circle cx="245.48" cy="305.96" r="1.15" fill="#dedede"/>
<circle cx="245.48" cy="314.92" r="1.15" fill="#dedede"/>
<circle cx="245.48" cy="332.84" r="1.15" fill="#dedede"/>
<circle cx="245.48" cy="341.8" r="1.15" fill="#dedede"/>
<circle cx="249.22" cy="301.48" r="1.15" fill="#dedede"/>
<circle cx="249.22" cy="305.96" r="1.15" fill="#dedede"/>
<circle cx="249.22" cy="310.44" r="1.15" fill="#dedede"/>
<circle cx="249.22" cy="314.92" r="1.15" fill="#dedede"/>
<circle cx="249.22" cy="341.8" r="1.15" fill="#dedede"/>
<circle cx="252.96" cy="274.6" r="1.15" fill="#dedede"/>
<circle cx="252.96" cy="279.08" r="1.15" fill="#dedede"/>
<circle cx="252.96" cy="283.56" r="1.15" fill="#dedede"/>
<circle cx="252.96" cy="288.04" r="1.15" fill="#dedede"/>
<circle cx="252.96" cy="297" r="1.15" fill="#dedede"/>
<circle cx="252.96" cy="301.48" r="1.15" fill="#dedede"/>
<circle cx="252.96" cy="310.44" r="1.15" fill="#dedede"/>
<circle cx="252.96" cy="341.8" r="1.15" fill="#dedede"/>
<circle cx="256.69" cy="274.6" r="1.15" fill="#dedede"/>
<circle cx="256.69" cy="279.08" r="1.15" fill="#dedede"/>
<circle cx="256.69" cy="288.04" r="1.15" fill="#dedede"/>
<circle cx="256.69" cy="301.48" r="1.15" fill="#dedede"/>
<circle cx="256.69" cy="305.96" r="1.15" fill="#dedede"/>
<circle cx="256.69" cy="310.44" r="1.15" fill="#dedede"/>
<circle cx="256.69" cy="314.92" r="1.15" fill="#dedede"/>
<circle cx="256.69" cy="319.4" r="1.15" fill="#dedede"/>
<circle cx="256.69" cy="323.88" r="1.15" fill="#dedede"/>
<circle cx="256.69" cy="328.36" r="1.15" fill="#dedede"/>
<circle cx="256.69" cy="332.84" r="1.15" fill="#dedede"/>
<circle cx="256.69" cy="337.32" r="1.15" fill="#dedede"/>
<circle cx="260.43" cy="274.6" r="1.15" fill="#dedede"/>
<circle cx="260.43" cy="279.08" r="1.15" fill="#dedede"/>
<circle cx="260.43" cy="292.52" r="1.15" fill="#dedede"/>
<circle cx="260.43" cy="297" r="1.15" fill="#dedede"/>
<circle cx="260.43" cy="301.48" r="1.15" fill="#dedede"/>
<circle cx="260.43" cy="305.96" r="1.15" fill="#dedede"/>
<circle cx="260.43" cy="314.92" r="1.15" fill="#dedede"/>
<circle cx="260.43" cy="319.4" r="1.15" fill="#dedede"/>
<circle cx="260.43" cy="323.88" r="1.15" fill="#dedede"/>
<circle cx="260.43" cy="328.36" r="1.15" fill="#dedede"/>
<circle cx="260.43" cy="332.84" r="1.15" fill="#dedede"/>
<circle cx="264.16" cy="288.04" r="1.15" fill="#dedede"/>
<circle cx="264.16" cy="332.84" r="1.15" fill="#dedede"/>
<circle cx="267.9" cy="328.36" r="1.15" fill="#dedede"/>
<circle cx="271.64" cy="310.44" r="1.15" fill="#dedede"/>
<circle cx="271.64" cy="314.92" r="1.15" fill="#dedede"/>
<circle cx="271.64" cy="319.4" r="1.15" fill="#dedede"/>
<circle cx="275.37" cy="301.48" r="1.15" fill="#dedede"/>
<circle cx="275.37" cy="310.44" r="1.15" fill="#dedede"/>
<circle cx="279.11" cy="274.6" r="1.15" fill="#dedede"/>
<circle cx="279.11" cy="279.08" r="1.15" fill="#dedede"/>
<circle cx="279.11" cy="305.96" r="1.15" fill="#dedede"/>
<circle cx="282.84" cy="279.08" r="1.15" fill="#dedede"/>
<circle cx="282.84" cy="301.48" r="1.15" fill="#dedede"/>
<circle cx="286.58" cy="274.6" r="1.15" fill="#dedede"/>
<circle cx="286.58" cy="283.56" r="1.15" fill="#dedede"/>
<line x1="81.1" y1="274.6" x2="81.1" y2="341.8" stroke="#555555" stroke-width="0.95"/>
<circle cx="81.1" cy="274.6" r="1.22" fill="#353535"/>
<circle cx="81.1" cy="279.08" r="1.22" fill="#353535"/>
<circle cx="81.1" cy="283.56" r="1.22" fill="#353535"/>
<circle cx="81.1" cy="288.04" r="1.22" fill="#353535"/>
<circle cx="81.1" cy="292.52" r="1.22" fill="#353535"/>
<circle cx="81.1" cy="297" r="1.22" fill="#353535"/>
<circle cx="81.1" cy="301.48" r="1.22" fill="#353535"/>
<circle cx="81.1" cy="305.96" r="1.22" fill="#353535"/>
<circle cx="81.1" cy="310.44" r="1.22" fill="#353535"/>
<circle cx="81.1" cy="314.92" r="1.22" fill="#353535"/>
<circle cx="81.1" cy="319.4" r="1.22" fill="#353535"/>
<circle cx="81.1" cy="323.88" r="1.22" fill="#353535"/>
<circle cx="81.1" cy="328.36" r="1.22" fill="#353535"/>
<circle cx="81.1" cy="332.84" r="1.22" fill="#353535"/>
<circle cx="81.1" cy="337.32" r="1.22" fill="#353535"/>
<circle cx="81.1" cy="341.8" r="1.22" fill="#353535"/>
<circle cx="84.84" cy="301.48" r="1.22" fill="#353535"/>
<circle cx="84.84" cy="305.96" r="1.22" fill="#353535"/>
<circle cx="88.57" cy="292.52" r="1.22" fill="#353535"/>
<circle cx="92.31" cy="301.48" r="1.22" fill="#353535"/>
<line x1="96.04" y1="319.4" x2="96.04" y2="328.36" stroke="#555555" stroke-width="0.95"/>
<circle cx="96.04" cy="319.4" r="1.22" fill="#353535"/>
<circle cx="96.04" cy="323.88" r="1.22" fill="#353535"/>
<circle cx="96.04" cy="328.36" r="1.22" fill="#353535"/>
<circle cx="99.78" cy="274.6" r="1.22" fill="#353535"/>
<circle cx="103.52" cy="283.56" r="1.22" fill="#353535"/>
<circle cx="107.25" cy="305.96" r="1.22" fill="#353535"/>
<circle cx="110.99" cy="310.44" r="1.22" fill="#353535"/>
<line x1="114.72" y1="305.96" x2="114.72" y2="310.44" stroke="#555555" stroke-width="0.95"/>
<circle cx="114.72" cy="305.96" r="1.22" fill="#353535"/>
<circle cx="114.72" cy="310.44" r="1.22" fill="#353535"/>
<circle cx="118.46" cy="323.88" r="1.22" fill="#353535"/>
<line x1="122.2" y1="274.6" x2="122.2" y2="341.8" stroke="#555555" stroke-width="0.95"/>
<circle cx="122.2" cy="274.6" r="1.22" fill="#353535"/>
<circle cx="122.2" cy="283.56" r="1.22" fill="#353535"/>
<circle cx="122.2" cy="288.04" r="1.22" fill="#353535"/>
<circle cx="122.2" cy="292.52" r="1.22" fill="#353535"/>
<circle cx="122.2" cy="297" r="1.22" fill="#353535"/>
<circle cx="122.2" cy="301.48" r="1.22" fill="#353535"/>
<circle cx="122.2" cy="305.96" r="1.22" fill="#353535"/>
<circle cx="122.2" cy="310.44" r="1.22" fill="#353535"/>
<circle cx="122.2" cy="314.92" r="1.22" fill="#353535"/>
<circle cx="122.2" cy="319.4" r="1.22" fill="#353535"/>
<circle cx="122.2" cy="323.88" r="1.22" fill="#353535"/>
<circle cx="122.2" cy="328.36" r="1.22" fill="#353535"/>
<circle cx="122.2" cy="332.84" r="1.22" fill="#353535"/>
<circle cx="122.2" cy="337.32" r="1.22" fill="#353535"/>
<circle cx="122.2" cy="341.8" r="1.22" fill="#353535"/>
<line x1="125.93" y1="274.6" x2="125.93" y2="283.56" stroke="#555555" stroke-width="0.95"/>
<circle cx="125.93" cy="274.6" r="1.22" fill="#353535"/>
<circle cx="125.93" cy="283.56" r="1.22" fill="#353535"/>
<circle cx="129.67" cy="288.04" r="1.22" fill="#353535"/>
<circle cx="133.4" cy="283.56" r="1.22" fill="#353535"/>
<circle cx="133.4" cy="292.52" r="1.22" fill="#353535"/>
<line x1="137.14" y1="274.6" x2="137.14" y2="292.52" stroke="#555555" stroke-width="0.95"/>
<circle cx="137.14" cy="274.6" r="1.22" fill="#353535"/>
<circle cx="137.14" cy="283.56" r="1.22" fill="#353535"/>
<circle cx="137.14" cy="292.52" r="1.22" fill="#353535"/>
<line x1="140.88" y1="288.04" x2="140.88" y2="297" stroke="#555555" stroke-width="0.95"/>
<circle cx="140.88" cy="288.04" r="1.22" fill="#353535"/>
<circle cx="140.88" cy="297" r="1.22" fill="#353535"/>
<line x1="144.61" y1="292.52" x2="144.61" y2="297" stroke="#555555" stroke-width="0.95"/>
<circle cx="144.61" cy="292.52" r="1.22" fill="#353535"/>
<circle cx="144.61" cy="297" r="1.22" fill="#353535"/>
<line x1="148.35" y1="292.52" x2="148.35" y2="297" stroke="#555555" stroke-width="0.95"/>
<circle cx="148.35" cy="283.56" r="1.22" fill="#353535"/>
<circle cx="148.35" cy="292.52" r="1.22" fill="#353535"/>
<circle cx="148.35" cy="297" r="1.22" fill="#353535"/>
<line x1="152.08" y1="292.52" x2="152.08" y2="310.44" stroke="#555555" stroke-width="0.95"/>
<circle cx="152.08" cy="292.52" r="1.22" fill="#353535"/>
<circle cx="152.08" cy="310.44" r="1.22" fill="#353535"/>
<line x1="155.82" y1="301.48" x2="155.82" y2="310.44" stroke="#555555" stroke-width="0.95"/>
<circle cx="155.82" cy="301.48" r="1.22" fill="#353535"/>
<circle cx="155.82" cy="305.96" r="1.22" fill="#353535"/>
<circle cx="155.82" cy="310.44" r="1.22" fill="#353535"/>
<line x1="159.56" y1="274.6" x2="159.56" y2="314.92" stroke="#555555" stroke-width="0.95"/>
<circle cx="159.56" cy="274.6" r="1.22" fill="#353535"/>
<circle cx="159.56" cy="283.56" r="1.22" fill="#353535"/>
<circle cx="159.56" cy="292.52" r="1.22" fill="#353535"/>
<circle cx="159.56" cy="297" r="1.22" fill="#353535"/>
<circle cx="159.56" cy="305.96" r="1.22" fill="#353535"/>
<circle cx="159.56" cy="314.92" r="1.22" fill="#353535"/>
<line x1="163.29" y1="310.44" x2="163.29" y2="314.92" stroke="#555555" stroke-width="0.95"/>
<circle cx="163.29" cy="292.52" r="1.22" fill="#353535"/>
<circle cx="163.29" cy="310.44" r="1.22" fill="#353535"/>
<circle cx="163.29" cy="314.92" r="1.22" fill="#353535"/>
<line x1="167.03" y1="314.92" x2="167.03" y2="319.4" stroke="#555555" stroke-width="0.95"/>
<circle cx="167.03" cy="314.92" r="1.22" fill="#353535"/>
<circle cx="167.03" cy="319.4" r="1.22" fill="#353535"/>
<line x1="170.76" y1="301.48" x2="170.76" y2="323.88" stroke="#555555" stroke-width="0.95"/>
<circle cx="170.76" cy="301.48" r="1.22" fill="#353535"/>
<circle cx="170.76" cy="305.96" r="1.22" fill="#353535"/>
<circle cx="170.76" cy="310.44" r="1.22" fill="#353535"/>
<circle cx="170.76" cy="323.88" r="1.22" fill="#353535"/>
<line x1="174.5" y1="292.52" x2="174.5" y2="323.88" stroke="#555555" stroke-width="0.95"/>
<circle cx="174.5" cy="292.52" r="1.22" fill="#353535"/>
<circle cx="174.5" cy="301.48" r="1.22" fill="#353535"/>
<circle cx="174.5" cy="305.96" r="1.22" fill="#353535"/>
<circle cx="174.5" cy="310.44" r="1.22" fill="#353535"/>
<circle cx="174.5" cy="323.88" r="1.22" fill="#353535"/>
<line x1="178.24" y1="319.4" x2="178.24" y2="323.88" stroke="#555555" stroke-width="0.95"/>
<circle cx="178.24" cy="319.4" r="1.22" fill="#353535"/>
<circle cx="178.24" cy="323.88" r="1.22" fill="#353535"/>
<line x1="181.97" y1="323.88" x2="181.97" y2="328.36" stroke="#555555" stroke-width="0.95"/>
<circle cx="181.97" cy="323.88" r="1.22" fill="#353535"/>
<circle cx="181.97" cy="328.36" r="1.22" fill="#353535"/>
<line x1="185.71" y1="279.08" x2="185.71" y2="328.36" stroke="#555555" stroke-width="0.95"/>
<circle cx="185.71" cy="279.08" r="1.22" fill="#353535"/>
<circle cx="185.71" cy="288.04" r="1.22" fill="#353535"/>
<circle cx="185.71" cy="314.92" r="1.22" fill="#353535"/>
<circle cx="185.71" cy="319.4" r="1.22" fill="#353535"/>
<circle cx="185.71" cy="323.88" r="1.22" fill="#353535"/>
<circle cx="185.71" cy="328.36" r="1.22" fill="#353535"/>
<line x1="189.44" y1="283.56" x2="189.44" y2="332.84" stroke="#555555" stroke-width="0.95"/>
<circle cx="189.44" cy="283.56" r="1.22" fill="#353535"/>
<circle cx="189.44" cy="292.52" r="1.22" fill="#353535"/>
<circle cx="189.44" cy="332.84" r="1.22" fill="#353535"/>
<line x1="193.18" y1="288.04" x2="193.18" y2="297" stroke="#555555" stroke-width="0.95"/>
<line x1="193.18" y1="314.92" x2="193.18" y2="323.88" stroke="#555555" stroke-width="0.95"/>
<circle cx="193.18" cy="288.04" r="1.22" fill="#353535"/>
<circle cx="193.18" cy="292.52" r="1.22" fill="#353535"/>
<circle cx="193.18" cy="297" r="1.22" fill="#353535"/>
<circle cx="193.18" cy="314.92" r="1.22" fill="#353535"/>
<circle cx="193.18" cy="319.4" r="1.22" fill="#353535"/>
<circle cx="193.18" cy="323.88" r="1.22" fill="#353535"/>
<circle cx="193.18" cy="332.84" r="1.22" fill="#353535"/>
<line x1="196.92" y1="292.52" x2="196.92" y2="332.84" stroke="#555555" stroke-width="0.95"/>
<circle cx="196.92" cy="292.52" r="1.22" fill="#353535"/>
<circle cx="196.92" cy="297" r="1.22" fill="#353535"/>
<circle cx="196.92" cy="328.36" r="1.22" fill="#353535"/>
<circle cx="196.92" cy="332.84" r="1.22" fill="#353535"/>
<line x1="200.65" y1="283.56" x2="200.65" y2="337.32" stroke="#555555" stroke-width="0.95"/>
<circle cx="200.65" cy="283.56" r="1.22" fill="#353535"/>
<circle cx="200.65" cy="337.32" r="1.22" fill="#353535"/>
<line x1="204.39" y1="292.52" x2="204.39" y2="337.32" stroke="#555555" stroke-width="0.95"/>
<circle cx="204.39" cy="292.52" r="1.22" fill="#353535"/>
<circle cx="204.39" cy="337.32" r="1.22" fill="#353535"/>
<circle cx="208.12" cy="283.56" r="1.22" fill="#353535"/>
<circle cx="208.12" cy="292.52" r="1.22" fill="#353535"/>
<circle cx="208.12" cy="337.32" r="1.22" fill="#353535"/>
<circle cx="211.86" cy="274.6" r="1.22" fill="#353535"/>
<circle cx="211.86" cy="283.56" r="1.22" fill="#353535"/>
<circle cx="211.86" cy="288.04" r="1.22" fill="#353535"/>
<circle cx="211.86" cy="292.52" r="1.22" fill="#353535"/>
<circle cx="211.86" cy="337.32" r="1.22" fill="#353535"/>
<line x1="215.6" y1="274.6" x2="215.6" y2="337.32" stroke="#555555" stroke-width="0.95"/>
<circle cx="215.6" cy="274.6" r="1.22" fill="#353535"/>
<circle cx="215.6" cy="283.56" r="1.22" fill="#353535"/>
<circle cx="215.6" cy="292.52" r="1.22" fill="#353535"/>
<circle cx="215.6" cy="297" r="1.22" fill="#353535"/>
<circle cx="215.6" cy="337.32" r="1.22" fill="#353535"/>
<line x1="219.33" y1="297" x2="219.33" y2="337.32" stroke="#555555" stroke-width="0.95"/>
<circle cx="219.33" cy="297" r="1.22" fill="#353535"/>
<circle cx="219.33" cy="301.48" r="1.22" fill="#353535"/>
<circle cx="219.33" cy="337.32" r="1.22" fill="#353535"/>
<circle cx="223.07" cy="292.52" r="1.22" fill="#353535"/>
<circle cx="223.07" cy="305.96" r="1.22" fill="#353535"/>
<circle cx="223.07" cy="337.32" r="1.22" fill="#353535"/>
<line x1="226.8" y1="305.96" x2="226.8" y2="310.44" stroke="#555555" stroke-width="0.95"/>
<circle cx="226.8" cy="283.56" r="1.22" fill="#353535"/>
<circle cx="226.8" cy="292.52" r="1.22" fill="#353535"/>
<circle cx="226.8" cy="305.96" r="1.22" fill="#353535"/>
<circle cx="226.8" cy="310.44" r="1.22" fill="#353535"/>
<circle cx="226.8" cy="337.32" r="1.22" fill="#353535"/>
<line x1="230.54" y1="274.6" x2="230.54" y2="337.32" stroke="#555555" stroke-width="0.95"/>
<circle cx="230.54" cy="274.6" r="1.22" fill="#353535"/>
<circle cx="230.54" cy="292.52" r="1.22" fill="#353535"/>
<circle cx="230.54" cy="314.92" r="1.22" fill="#353535"/>
<circle cx="230.54" cy="337.32" r="1.22" fill="#353535"/>
<line x1="234.28" y1="274.6" x2="234.28" y2="337.32" stroke="#555555" stroke-width="0.95"/>
<circle cx="234.28" cy="274.6" r="1.22" fill="#353535"/>
<circle cx="234.28" cy="283.56" r="1.22" fill="#353535"/>
<circle cx="234.28" cy="292.52" r="1.22" fill="#353535"/>
<circle cx="234.28" cy="323.88" r="1.22" fill="#353535"/>
<circle cx="234.28" cy="337.32" r="1.22" fill="#353535"/>
<line x1="238.01" y1="274.6" x2="238.01" y2="297" stroke="#555555" stroke-width="0.95"/>
<circle cx="238.01" cy="274.6" r="1.22" fill="#353535"/>
<circle cx="238.01" cy="279.08" r="1.22" fill="#353535"/>
<circle cx="238.01" cy="283.56" r="1.22" fill="#353535"/>
<circle cx="238.01" cy="288.04" r="1.22" fill="#353535"/>
<circle cx="238.01" cy="292.52" r="1.22" fill="#353535"/>
<circle cx="238.01" cy="297" r="1.22" fill="#353535"/>
<circle cx="238.01" cy="305.96" r="1.22" fill="#353535"/>
<circle cx="238.01" cy="323.88" r="1.22" fill="#353535"/>
<circle cx="238.01" cy="337.32" r="1.22" fill="#353535"/>
<circle cx="241.75" cy="283.56" r="1.22" fill="#353535"/>
<circle cx="241.75" cy="297" r="1.22" fill="#353535"/>
<circle cx="241.75" cy="314.92" r="1.22" fill="#353535"/>
<circle cx="241.75" cy="323.88" r="1.22" fill="#353535"/>
<circle cx="241.75" cy="337.32" r="1.22" fill="#353535"/>
<line x1="245.48" y1="292.52" x2="245.48" y2="337.32" stroke="#555555" stroke-width="0.95"/>
<circle cx="245.48" cy="292.52" r="1.22" fill="#353535"/>
<circle cx="245.48" cy="297" r="1.22" fill="#353535"/>
<circle cx="245.48" cy="310.44" r="1.22" fill="#353535"/>
<circle cx="245.48" cy="319.4" r="1.22" fill="#353535"/>
<circle cx="245.48" cy="323.88" r="1.22" fill="#353535"/>
<circle cx="245.48" cy="328.36" r="1.22" fill="#353535"/>
<circle cx="245.48" cy="337.32" r="1.22" fill="#353535"/>
<line x1="249.22" y1="274.6" x2="249.22" y2="337.32" stroke="#555555" stroke-width="0.95"/>
<circle cx="249.22" cy="274.6" r="1.22" fill="#353535"/>
<circle cx="249.22" cy="279.08" r="1.22" fill="#353535"/>
<circle cx="249.22" cy="283.56" r="1.22" fill="#353535"/>
<circle cx="249.22" cy="288.04" r="1.22" fill="#353535"/>
<circle cx="249.22" cy="292.52" r="1.22" fill="#353535"/>
<circle cx="249.22" cy="297" r="1.22" fill="#353535"/>
<circle cx="249.22" cy="319.4" r="1.22" fill="#353535"/>
<circle cx="249.22" cy="323.88" r="1.22" fill="#353535"/>
<circle cx="249.22" cy="328.36" r="1.22" fill="#353535"/>
<circle cx="249.22" cy="332.84" r="1.22" fill="#353535"/>
<circle cx="249.22" cy="337.32" r="1.22" fill="#353535"/>
<line x1="252.96" y1="314.92" x2="252.96" y2="337.32" stroke="#555555" stroke-width="0.95"/>
<circle cx="252.96" cy="292.52" r="1.22" fill="#353535"/>
<circle cx="252.96" cy="305.96" r="1.22" fill="#353535"/>
<circle cx="252.96" cy="314.92" r="1.22" fill="#353535"/>
<circle cx="252.96" cy="319.4" r="1.22" fill="#353535"/>
<circle cx="252.96" cy="323.88" r="1.22" fill="#353535"/>
<circle cx="252.96" cy="328.36" r="1.22" fill="#353535"/>
<circle cx="252.96" cy="332.84" r="1.22" fill="#353535"/>
<circle cx="252.96" cy="337.32" r="1.22" fill="#353535"/>
<circle cx="256.69" cy="283.56" r="1.22" fill="#353535"/>
<circle cx="256.69" cy="292.52" r="1.22" fill="#353535"/>
<circle cx="256.69" cy="297" r="1.22" fill="#353535"/>
<circle cx="256.69" cy="341.8" r="1.22" fill="#353535"/>
<line x1="260.43" y1="283.56" x2="260.43" y2="341.8" stroke="#555555" stroke-width="0.95"/>
<circle cx="260.43" cy="283.56" r="1.22" fill="#353535"/>
<circle cx="260.43" cy="288.04" r="1.22" fill="#353535"/>
<circle cx="260.43" cy="310.44" r="1.22" fill="#353535"/>
<circle cx="260.43" cy="337.32" r="1.22" fill="#353535"/>
<circle cx="260.43" cy="341.8" r="1.22" fill="#353535"/>
<line x1="264.16" y1="274.6" x2="264.16" y2="341.8" stroke="#555555" stroke-width="0.95"/>
<circle cx="264.16" cy="274.6" r="1.22" fill="#353535"/>
<circle cx="264.16" cy="279.08" r="1.22" fill="#353535"/>
<circle cx="264.16" cy="283.56" r="1.22" fill="#353535"/>
<circle cx="264.16" cy="292.52" r="1.22" fill="#353535"/>
<circle cx="264.16" cy="297" r="1.22" fill="#353535"/>
<circle cx="264.16" cy="301.48" r="1.22" fill="#353535"/>
<circle cx="264.16" cy="305.96" r="1.22" fill="#353535"/>
<circle cx="264.16" cy="310.44" r="1.22" fill="#353535"/>
<circle cx="264.16" cy="314.92" r="1.22" fill="#353535"/>
<circle cx="264.16" cy="319.4" r="1.22" fill="#353535"/>
<circle cx="264.16" cy="323.88" r="1.22" fill="#353535"/>
<circle cx="264.16" cy="328.36" r="1.22" fill="#353535"/>
<circle cx="264.16" cy="337.32" r="1.22" fill="#353535"/>
<circle cx="264.16" cy="341.8" r="1.22" fill="#353535"/>
<circle cx="267.9" cy="274.6" r="1.22" fill="#353535"/>
<circle cx="267.9" cy="279.08" r="1.22" fill="#353535"/>
<circle cx="267.9" cy="283.56" r="1.22" fill="#353535"/>
<circle cx="267.9" cy="288.04" r="1.22" fill="#353535"/>
<circle cx="267.9" cy="292.52" r="1.22" fill="#353535"/>
<circle cx="267.9" cy="297" r="1.22" fill="#353535"/>
<circle cx="267.9" cy="301.48" r="1.22" fill="#353535"/>
<circle cx="267.9" cy="305.96" r="1.22" fill="#353535"/>
<circle cx="267.9" cy="310.44" r="1.22" fill="#353535"/>
<circle cx="267.9" cy="314.92" r="1.22" fill="#353535"/>
<circle cx="267.9" cy="319.4" r="1.22" fill="#353535"/>
<circle cx="267.9" cy="323.88" r="1.22" fill="#353535"/>
<circle cx="267.9" cy="332.84" r="1.22" fill="#353535"/>
<circle cx="267.9" cy="337.32" r="1.22" fill="#353535"/>
<circle cx="267.9" cy="341.8" r="1.22" fill="#353535"/>
<circle cx="271.64" cy="274.6" r="1.22" fill="#353535"/>
<circle cx="271.64" cy="279.08" r="1.22" fill="#353535"/>
<circle cx="271.64" cy="283.56" r="1.22" fill="#353535"/>
<circle cx="271.64" cy="288.04" r="1.22" fill="#353535"/>
<circle cx="271.64" cy="292.52" r="1.22" fill="#353535"/>
<circle cx="271.64" cy="297" r="1.22" fill="#353535"/>
<circle cx="271.64" cy="301.48" r="1.22" fill="#353535"/>
<circle cx="271.64" cy="305.96" r="1.22" fill="#353535"/>
<circle cx="271.64" cy="323.88" r="1.22" fill="#353535"/>
<circle cx="271.64" cy="328.36" r="1.22" fill="#353535"/>
<circle cx="271.64" cy="332.84" r="1.22" fill="#353535"/>
<circle cx="271.64" cy="337.32" r="1.22" fill="#353535"/>
<circle cx="271.64" cy="341.8" r="1.22" fill="#353535"/>
<line x1="275.37" y1="274.6" x2="275.37" y2="341.8" stroke="#555555" stroke-width="0.95"/>
<circle cx="275.37" cy="274.6" r="1.22" fill="#353535"/>
<circle cx="275.37" cy="279.08" r="1.22" fill="#353535"/>
<circle cx="275.37" cy="283.56" r="1.22" fill="#353535"/>
<circle cx="275.37" cy="288.04" r="1.22" fill="#353535"/>
<circle cx="275.37" cy="292.52" r="1.22" fill="#353535"/>
<circle cx="275.37" cy="297" r="1.22" fill="#353535"/>
<circle cx="275.37" cy="305.96" r="1.22" fill="#353535"/>
<circle cx="275.37" cy="314.92" r="1.22" fill="#353535"/>
<circle cx="275.37" cy="319.4" r="1.22" fill="#353535"/>
<circle cx="275.37" cy="323.88" r="1.22" fill="#353535"/>
<circle cx="275.37" cy="328.36" r="1.22" fill="#353535"/>
<circle cx="275.37" cy="332.84" r="1.22" fill="#353535"/>
<circle cx="275.37" cy="337.32" r="1.22" fill="#353535"/>
<circle cx="275.37" cy="341.8" r="1.22" fill="#353535"/>
<line x1="279.11" y1="283.56" x2="279.11" y2="341.8" stroke="#555555" stroke-width="0.95"/>
<circle cx="279.11" cy="283.56" r="1.22" fill="#353535"/>
<circle cx="279.11" cy="288.04" r="1.22" fill="#353535"/>
<circle cx="279.11" cy="292.52" r="1.22" fill="#353535"/>
<circle cx="279.11" cy="297" r="1.22" fill="#353535"/>
<circle cx="279.11" cy="301.48" r="1.22" fill="#353535"/>
<circle cx="279.11" cy="310.44" r="1.22" fill="#353535"/>
<circle cx="279.11" cy="314.92" r="1.22" fill="#353535"/>
<circle cx="279.11" cy="319.4" r="1.22" fill="#353535"/>
<circle cx="279.11" cy="323.88" r="1.22" fill="#353535"/>
<circle cx="279.11" cy="328.36" r="1.22" fill="#353535"/>
<circle cx="279.11" cy="332.84" r="1.22" fill="#353535"/>
<circle cx="279.11" cy="337.32" r="1.22" fill="#353535"/>
<circle cx="279.11" cy="341.8" r="1.22" fill="#353535"/>
<circle cx="282.84" cy="274.6" r="1.22" fill="#353535"/>
<circle cx="282.84" cy="283.56" r="1.22" fill="#353535"/>
<circle cx="282.84" cy="288.04" r="1.22" fill="#353535"/>
<circle cx="282.84" cy="292.52" r="1.22" fill="#353535"/>
<circle cx="282.84" cy="297" r="1.22" fill="#353535"/>
<circle cx="282.84" cy="305.96" r="1.22" fill="#353535"/>
<circle cx="282.84" cy="310.44" r="1.22" fill="#353535"/>
<circle cx="282.84" cy="314.92" r="1.22" fill="#353535"/>
<circle cx="282.84" cy="319.4" r="1.22" fill="#353535"/>
<circle cx="282.84" cy="323.88" r="1.22" fill="#353535"/>
<circle cx="282.84" cy="328.36" r="1.22" fill="#353535"/>
<circle cx="282.84" cy="332.84" r="1.22" fill="#353535"/>
<circle cx="282.84" cy="337.32" r="1.22" fill="#353535"/>
<circle cx="282.84" cy="341.8" r="1.22" fill="#353535"/>
<circle cx="286.58" cy="279.08" r="1.22" fill="#353535"/>
<circle cx="286.58" cy="288.04" r="1.22" fill="#353535"/>
<circle cx="286.58" cy="292.52" r="1.22" fill="#353535"/>
<circle cx="286.58" cy="297" r="1.22" fill="#353535"/>
<circle cx="286.58" cy="301.48" r="1.22" fill="#353535"/>
<circle cx="286.58" cy="305.96" r="1.22" fill="#353535"/>
<circle cx="286.58" cy="310.44" r="1.22" fill="#353535"/>
<circle cx="286.58" cy="314.92" r="1.22" fill="#353535"/>
<circle cx="286.58" cy="319.4" r="1.22" fill="#353535"/>
<circle cx="286.58" cy="323.88" r="1.22" fill="#353535"/>
<circle cx="286.58" cy="328.36" r="1.22" fill="#353535"/>
<circle cx="286.58" cy="332.84" r="1.22" fill="#353535"/>
<circle cx="286.58" cy="337.32" r="1.22" fill="#353535"/>
<circle cx="286.58" cy="341.8" r="1.22" fill="#353535"/>
<rect x="26" y="273.6" width="33.1" height="2" fill="#8b0000"/>
<rect x="40.5" y="278.08" width="18.6" height="2" fill="#8b0000"/>
<rect x="15.8" y="282.56" width="43.3" height="2" fill="#8b0000"/>
<rect x="30" y="287.04" width="29.1" height="2" fill="#8b0000"/>
<rect x="4" y="291.52" width="55.1" height="2" fill="#8b0000"/>
<rect x="21" y="296" width="38.1" height="2" fill="#8b0000"/>
<rect x="27.4" y="300.48" width="31.7" height="2" fill="#8b0000"/>
<rect x="19.9" y="304.96" width="39.2" height="2" fill="#8b0000"/>
<rect x="26.4" y="309.44" width="32.7" height="2" fill="#8b0000"/>
<rect x="30.2" y="313.92" width="28.9" height="2" fill="#8b0000"/>
<rect x="27.7" y="318.4" width="31.4" height="2" fill="#8b0000"/>
<rect x="17.3" y="322.88" width="41.8" height="2" fill="#8b0000"/>
<rect x="29.2" y="327.36" width="29.9" height="2" fill="#8b0000"/>
<rect x="34.2" y="331.84" width="24.9" height="2" fill="#8b0000"/>
<rect x="18.7" y="336.32" width="40.4" height="2" fill="#8b0000"/>
<rect x="37.1" y="340.8" width="22" height="2" fill="#8b0000"/>
<line x1="1.4" y1="344.5" x2="61.7" y2="344.5" stroke="#777" stroke-width="0.8"/>
<text x="6.1" y="349.6" text-anchor="middle" font-size="5.8" fill="#555">40</text>
<text x="19.4" y="349.6" text-anchor="middle" font-size="5.8" fill="#555">30</text>
<text x="32.7" y="349.6" text-anchor="middle" font-size="5.8" fill="#555">20</text>
<text x="46" y="349.6" text-anchor="middle" font-size="5.8" fill="#555">10</text>
<text x="59.3" y="349.6" text-anchor="middle" font-size="5.8" fill="#555">0</text>
<text x="76.7" y="276.5" text-anchor="end" font-size="5.6" fill="#555" textLength="10.6" lengthAdjust="spacingAndGlyphs">JF·6</text>
<text x="76.7" y="280.98" text-anchor="end" font-size="5.6" fill="#555" textLength="10.6" lengthAdjust="spacingAndGlyphs">JF·5</text>
<text x="76.7" y="285.46" text-anchor="end" font-size="5.6" fill="#555" textLength="10.6" lengthAdjust="spacingAndGlyphs">JE·4</text>
<text x="76.7" y="289.94" text-anchor="end" font-size="5.6" fill="#555" textLength="10.6" lengthAdjust="spacingAndGlyphs">JF·3</text>
<text x="76.7" y="294.42" text-anchor="end" font-size="5.6" fill="#555" textLength="10.6" lengthAdjust="spacingAndGlyphs">JE·2</text>
<text x="76.7" y="298.9" text-anchor="end" font-size="5.6" fill="#555" textLength="10.6" lengthAdjust="spacingAndGlyphs">JL·1</text>
<text x="76.7" y="303.38" text-anchor="end" font-size="5.6" fill="#555" textLength="10.6" lengthAdjust="spacingAndGlyphs">JL·3</text>
<text x="76.7" y="307.86" text-anchor="end" font-size="5.6" fill="#555" textLength="10.6" lengthAdjust="spacingAndGlyphs">SI·6</text>
<text x="76.7" y="312.34" text-anchor="end" font-size="5.6" fill="#555" textLength="10.6" lengthAdjust="spacingAndGlyphs">SI·5</text>
<text x="76.7" y="316.82" text-anchor="end" font-size="5.6" fill="#555" textLength="10.6" lengthAdjust="spacingAndGlyphs">SI·4</text>
<text x="76.7" y="321.3" text-anchor="end" font-size="5.6" fill="#555" textLength="10.6" lengthAdjust="spacingAndGlyphs">JW6</text>
<text x="76.7" y="325.78" text-anchor="end" font-size="5.6" fill="#555" textLength="10.6" lengthAdjust="spacingAndGlyphs">JW5</text>
<text x="76.7" y="330.26" text-anchor="end" font-size="5.6" fill="#555" textLength="10.6" lengthAdjust="spacingAndGlyphs">JW4</text>
<text x="76.7" y="334.74" text-anchor="end" font-size="5.6" fill="#555" textLength="10.6" lengthAdjust="spacingAndGlyphs">JW3</text>
<text x="76.7" y="339.22" text-anchor="end" font-size="5.6" fill="#555" textLength="10.6" lengthAdjust="spacingAndGlyphs">JW2</text>
<text x="76.7" y="343.7" text-anchor="end" font-size="5.6" fill="#555" textLength="10.6" lengthAdjust="spacingAndGlyphs">JW1</text>
<text x="32" y="357.9" text-anchor="middle" class="sf" font-size="9.8" fill="#111">Total number</text>
<text x="172.6" y="103.4" text-anchor="middle" class="sf" font-size="12.3" fill="#111">April</text>
<text transform="translate(60.1,164.1) rotate(-90)" text-anchor="middle" class="sf" font-size="9.9" fill="#111">Number of species</text>
<text x="166" y="392.6" text-anchor="middle" class="sf" font-size="16" fill="#111">(a)</text>
<line x1="394.5" y1="1.4" x2="394.5" y2="274.7" stroke="#444" stroke-width="1"/>
<text x="393" y="266.6" text-anchor="end" font-size="8.2" fill="#4d4d4d">0</text>
<text x="393" y="171.7" text-anchor="end" font-size="8.2" fill="#4d4d4d">5</text>
<text x="393" y="76.8" text-anchor="end" font-size="8.2" fill="#4d4d4d">10</text>
<rect x="397.3" y="36.84" width="2.1" height="227.76" fill="#4682b4"/>
<rect x="401.27" y="36.84" width="2.1" height="227.76" fill="#4682b4"/>
<rect x="405.24" y="93.78" width="2.1" height="170.82" fill="#f4a124"/>
<rect x="409.21" y="112.76" width="2.1" height="151.84" fill="#4682b4"/>
<rect x="413.18" y="150.72" width="2.1" height="113.88" fill="#f4a124"/>
<rect x="417.15" y="169.7" width="2.1" height="94.9" fill="#4682b4"/>
<rect x="421.12" y="188.68" width="2.1" height="75.92" fill="#f4a124"/>
<rect x="425.09" y="188.68" width="2.1" height="75.92" fill="#4682b4"/>
<rect x="429.06" y="207.66" width="2.1" height="56.94" fill="#f4a124"/>
<rect x="433.03" y="226.64" width="2.1" height="37.96" fill="#f4a124"/>
<rect x="437" y="226.64" width="2.1" height="37.96" fill="#4682b4"/>
<rect x="440.97" y="226.64" width="2.1" height="37.96" fill="#4682b4"/>
<rect x="444.94" y="226.64" width="2.1" height="37.96" fill="#4682b4"/>
<rect x="448.91" y="226.64" width="2.1" height="37.96" fill="#f4a124"/>
<rect x="452.88" y="226.64" width="2.1" height="37.96" fill="#4682b4"/>
<rect x="456.85" y="226.64" width="2.1" height="37.96" fill="#4682b4"/>
<rect x="460.82" y="226.64" width="2.1" height="37.96" fill="#4682b4"/>
<rect x="464.79" y="226.64" width="2.1" height="37.96" fill="#f4a124"/>
<rect x="468.76" y="226.64" width="2.1" height="37.96" fill="#4682b4"/>
<rect x="472.73" y="226.64" width="2.1" height="37.96" fill="#8b0000"/>
<rect x="476.7" y="245.62" width="2.1" height="18.98" fill="#4682b4"/>
<rect x="480.67" y="245.62" width="2.1" height="18.98" fill="#f4a124"/>
<rect x="484.64" y="245.62" width="2.1" height="18.98" fill="#4682b4"/>
<rect x="488.61" y="245.62" width="2.1" height="18.98" fill="#f4a124"/>
<rect x="492.58" y="245.62" width="2.1" height="18.98" fill="#4682b4"/>
<rect x="496.55" y="245.62" width="2.1" height="18.98" fill="#4682b4"/>
<rect x="500.52" y="245.62" width="2.1" height="18.98" fill="#4682b4"/>
<rect x="504.49" y="245.62" width="2.1" height="18.98" fill="#4682b4"/>
<rect x="508.46" y="245.62" width="2.1" height="18.98" fill="#f4a124"/>
<rect x="512.43" y="245.62" width="2.1" height="18.98" fill="#4682b4"/>
<rect x="516.4" y="245.62" width="2.1" height="18.98" fill="#4682b4"/>
<rect x="520.37" y="245.62" width="2.1" height="18.98" fill="#4682b4"/>
<rect x="524.34" y="245.62" width="2.1" height="18.98" fill="#34a34f"/>
<rect x="528.31" y="245.62" width="2.1" height="18.98" fill="#34a34f"/>
<rect x="532.28" y="245.62" width="2.1" height="18.98" fill="#4682b4"/>
<rect x="536.25" y="245.62" width="2.1" height="18.98" fill="#4682b4"/>
<rect x="540.22" y="245.62" width="2.1" height="18.98" fill="#4682b4"/>
<rect x="544.19" y="245.62" width="2.1" height="18.98" fill="#34a34f"/>
<rect x="548.16" y="245.62" width="2.1" height="18.98" fill="#f4a124"/>
<rect x="552.13" y="245.62" width="2.1" height="18.98" fill="#4682b4"/>
<rect x="556.1" y="245.62" width="2.1" height="18.98" fill="#4682b4"/>
<rect x="560.07" y="245.62" width="2.1" height="18.98" fill="#4682b4"/>
<rect x="564.04" y="245.62" width="2.1" height="18.98" fill="#4682b4"/>
<rect x="568.01" y="245.62" width="2.1" height="18.98" fill="#4682b4"/>
<rect x="571.98" y="245.62" width="2.1" height="18.98" fill="#4682b4"/>
<rect x="575.95" y="245.62" width="2.1" height="18.98" fill="#4682b4"/>
<rect x="579.92" y="245.62" width="2.1" height="18.98" fill="#4682b4"/>
<rect x="583.89" y="245.62" width="2.1" height="18.98" fill="#4682b4"/>
<rect x="587.86" y="245.62" width="2.1" height="18.98" fill="#4682b4"/>
<rect x="591.83" y="245.62" width="2.1" height="18.98" fill="#4682b4"/>
<rect x="595.8" y="245.62" width="2.1" height="18.98" fill="#4682b4"/>
<rect x="599.77" y="245.62" width="2.1" height="18.98" fill="#4682b4"/>
<rect x="603.74" y="245.62" width="2.1" height="18.98" fill="#34a34f"/>
<rect x="607.71" y="245.62" width="2.1" height="18.98" fill="#4682b4"/>
<rect x="611.68" y="245.62" width="2.1" height="18.98" fill="#4682b4"/>
<rect x="615.65" y="245.62" width="2.1" height="18.98" fill="#4682b4"/>
<rect x="619.62" y="245.62" width="2.1" height="18.98" fill="#4682b4"/>
<rect x="623.59" y="245.62" width="2.1" height="18.98" fill="#4682b4"/>
<rect x="627.56" y="245.62" width="2.1" height="18.98" fill="#4682b4"/>
<rect x="631.53" y="245.62" width="2.1" height="18.98" fill="#4682b4"/>
<rect x="635.5" y="245.62" width="2.1" height="18.98" fill="#34a34f"/>
<rect x="639.47" y="245.62" width="2.1" height="18.98" fill="#4682b4"/>
<rect x="643.44" y="245.62" width="2.1" height="18.98" fill="#4682b4"/>
<rect x="647.41" y="245.62" width="2.1" height="18.98" fill="#4682b4"/>
<rect x="651.38" y="245.62" width="2.1" height="18.98" fill="#4682b4"/>
<rect x="655.35" y="245.62" width="2.1" height="18.98" fill="#4682b4"/>
<rect x="659.32" y="245.62" width="2.1" height="18.98" fill="#34a34f"/>
<rect x="663.29" y="245.62" width="2.1" height="18.98" fill="#4682b4"/>
<rect x="667.26" y="245.62" width="2.1" height="18.98" fill="#4682b4"/>
<rect x="671.23" y="245.62" width="2.1" height="18.98" fill="#34a34f"/>
<rect x="675.2" y="245.62" width="2.1" height="18.98" fill="#34a34f"/>
<rect x="679.17" y="245.62" width="2.1" height="18.98" fill="#34a34f"/>
<text x="397.6" y="32.94" text-anchor="middle" font-size="7.2" fill="#5b8fc6" textLength="5" lengthAdjust="spacingAndGlyphs">12</text>
<text x="403" y="32.94" text-anchor="middle" font-size="7.2" fill="#5b8fc6" textLength="5" lengthAdjust="spacingAndGlyphs">12</text>
<text x="406.29" y="89.88" text-anchor="middle" font-size="7.2" fill="#5b8fc6" textLength="3.5" lengthAdjust="spacingAndGlyphs">9</text>
<text x="410.26" y="108.86" text-anchor="middle" font-size="7.2" fill="#5b8fc6" textLength="3.5" lengthAdjust="spacingAndGlyphs">8</text>
<text x="414.23" y="146.82" text-anchor="middle" font-size="7.2" fill="#5b8fc6" textLength="3.5" lengthAdjust="spacingAndGlyphs">6</text>
<text x="418.2" y="165.8" text-anchor="middle" font-size="7.2" fill="#5b8fc6" textLength="3.5" lengthAdjust="spacingAndGlyphs">5</text>
<text x="422.17" y="184.78" text-anchor="middle" font-size="7.2" fill="#5b8fc6" textLength="3.5" lengthAdjust="spacingAndGlyphs">4</text>
<text x="426.14" y="184.78" text-anchor="middle" font-size="7.2" fill="#5b8fc6" textLength="3.5" lengthAdjust="spacingAndGlyphs">4</text>
<text x="430.11" y="203.76" text-anchor="middle" font-size="7.2" fill="#5b8fc6" textLength="3.5" lengthAdjust="spacingAndGlyphs">3</text>
<text x="434.08" y="222.74" text-anchor="middle" font-size="7.2" fill="#5b8fc6" textLength="3.5" lengthAdjust="spacingAndGlyphs">2</text>
<text x="438.05" y="222.74" text-anchor="middle" font-size="7.2" fill="#5b8fc6" textLength="3.5" lengthAdjust="spacingAndGlyphs">2</text>
<text x="442.02" y="222.74" text-anchor="middle" font-size="7.2" fill="#5b8fc6" textLength="3.5" lengthAdjust="spacingAndGlyphs">2</text>
<text x="445.99" y="222.74" text-anchor="middle" font-size="7.2" fill="#5b8fc6" textLength="3.5" lengthAdjust="spacingAndGlyphs">2</text>
<text x="449.96" y="222.74" text-anchor="middle" font-size="7.2" fill="#5b8fc6" textLength="3.5" lengthAdjust="spacingAndGlyphs">2</text>
<text x="453.93" y="222.74" text-anchor="middle" font-size="7.2" fill="#5b8fc6" textLength="3.5" lengthAdjust="spacingAndGlyphs">2</text>
<text x="457.9" y="222.74" text-anchor="middle" font-size="7.2" fill="#5b8fc6" textLength="3.5" lengthAdjust="spacingAndGlyphs">2</text>
<text x="461.87" y="222.74" text-anchor="middle" font-size="7.2" fill="#5b8fc6" textLength="3.5" lengthAdjust="spacingAndGlyphs">2</text>
<text x="465.84" y="222.74" text-anchor="middle" font-size="7.2" fill="#5b8fc6" textLength="3.5" lengthAdjust="spacingAndGlyphs">2</text>
<text x="469.81" y="222.74" text-anchor="middle" font-size="7.2" fill="#5b8fc6" textLength="3.5" lengthAdjust="spacingAndGlyphs">2</text>
<text x="473.78" y="222.74" text-anchor="middle" font-size="7.2" fill="#5b8fc6" textLength="3.5" lengthAdjust="spacingAndGlyphs">2</text>
<path d="M476.9 238.56L478.1 237.26L478.1 241.72" fill="none" stroke="#5b8fc6" stroke-width="0.8"/>
<path d="M480.87 238.56L482.07 237.26L482.07 241.72" fill="none" stroke="#5b8fc6" stroke-width="0.8"/>
<path d="M484.84 238.56L486.04 237.26L486.04 241.72" fill="none" stroke="#5b8fc6" stroke-width="0.8"/>
<path d="M488.81 238.56L490.01 237.26L490.01 241.72" fill="none" stroke="#5b8fc6" stroke-width="0.8"/>
<path d="M492.78 238.56L493.98 237.26L493.98 241.72" fill="none" stroke="#5b8fc6" stroke-width="0.8"/>
<path d="M496.75 238.56L497.95 237.26L497.95 241.72" fill="none" stroke="#5b8fc6" stroke-width="0.8"/>
<path d="M500.72 238.56L501.92 237.26L501.92 241.72" fill="none" stroke="#5b8fc6" stroke-width="0.8"/>
<path d="M504.69 238.56L505.89 237.26L505.89 241.72" fill="none" stroke="#5b8fc6" stroke-width="0.8"/>
<path d="M508.66 238.56L509.86 237.26L509.86 241.72" fill="none" stroke="#5b8fc6" stroke-width="0.8"/>
<path d="M512.63 238.56L513.83 237.26L513.83 241.72" fill="none" stroke="#5b8fc6" stroke-width="0.8"/>
<path d="M516.6 238.56L517.8 237.26L517.8 241.72" fill="none" stroke="#5b8fc6" stroke-width="0.8"/>
<path d="M520.57 238.56L521.77 237.26L521.77 241.72" fill="none" stroke="#5b8fc6" stroke-width="0.8"/>
<path d="M524.54 238.56L525.74 237.26L525.74 241.72" fill="none" stroke="#5b8fc6" stroke-width="0.8"/>
<path d="M528.51 238.56L529.71 237.26L529.71 241.72" fill="none" stroke="#5b8fc6" stroke-width="0.8"/>
<path d="M532.48 238.56L533.68 237.26L533.68 241.72" fill="none" stroke="#5b8fc6" stroke-width="0.8"/>
<path d="M536.45 238.56L537.65 237.26L537.65 241.72" fill="none" stroke="#5b8fc6" stroke-width="0.8"/>
<path d="M540.42 238.56L541.62 237.26L541.62 241.72" fill="none" stroke="#5b8fc6" stroke-width="0.8"/>
<path d="M544.39 238.56L545.59 237.26L545.59 241.72" fill="none" stroke="#5b8fc6" stroke-width="0.8"/>
<path d="M548.36 238.56L549.56 237.26L549.56 241.72" fill="none" stroke="#5b8fc6" stroke-width="0.8"/>
<path d="M552.33 238.56L553.53 237.26L553.53 241.72" fill="none" stroke="#5b8fc6" stroke-width="0.8"/>
<path d="M556.3 238.56L557.5 237.26L557.5 241.72" fill="none" stroke="#5b8fc6" stroke-width="0.8"/>
<path d="M560.27 238.56L561.47 237.26L561.47 241.72" fill="none" stroke="#5b8fc6" stroke-width="0.8"/>
<path d="M564.24 238.56L565.44 237.26L565.44 241.72" fill="none" stroke="#5b8fc6" stroke-width="0.8"/>
<path d="M568.21 238.56L569.41 237.26L569.41 241.72" fill="none" stroke="#5b8fc6" stroke-width="0.8"/>
<path d="M572.18 238.56L573.38 237.26L573.38 241.72" fill="none" stroke="#5b8fc6" stroke-width="0.8"/>
<path d="M576.15 238.56L577.35 237.26L577.35 241.72" fill="none" stroke="#5b8fc6" stroke-width="0.8"/>
<path d="M580.12 238.56L581.32 237.26L581.32 241.72" fill="none" stroke="#5b8fc6" stroke-width="0.8"/>
<path d="M584.09 238.56L585.29 237.26L585.29 241.72" fill="none" stroke="#5b8fc6" stroke-width="0.8"/>
<path d="M588.06 238.56L589.26 237.26L589.26 241.72" fill="none" stroke="#5b8fc6" stroke-width="0.8"/>
<path d="M592.03 238.56L593.23 237.26L593.23 241.72" fill="none" stroke="#5b8fc6" stroke-width="0.8"/>
<path d="M596 238.56L597.2 237.26L597.2 241.72" fill="none" stroke="#5b8fc6" stroke-width="0.8"/>
<path d="M599.97 238.56L601.17 237.26L601.17 241.72" fill="none" stroke="#5b8fc6" stroke-width="0.8"/>
<path d="M603.94 238.56L605.14 237.26L605.14 241.72" fill="none" stroke="#5b8fc6" stroke-width="0.8"/>
<path d="M607.91 238.56L609.11 237.26L609.11 241.72" fill="none" stroke="#5b8fc6" stroke-width="0.8"/>
<path d="M611.88 238.56L613.08 237.26L613.08 241.72" fill="none" stroke="#5b8fc6" stroke-width="0.8"/>
<path d="M615.85 238.56L617.05 237.26L617.05 241.72" fill="none" stroke="#5b8fc6" stroke-width="0.8"/>
<path d="M619.82 238.56L621.02 237.26L621.02 241.72" fill="none" stroke="#5b8fc6" stroke-width="0.8"/>
<path d="M623.79 238.56L624.99 237.26L624.99 241.72" fill="none" stroke="#5b8fc6" stroke-width="0.8"/>
<path d="M627.76 238.56L628.96 237.26L628.96 241.72" fill="none" stroke="#5b8fc6" stroke-width="0.8"/>
<path d="M631.73 238.56L632.93 237.26L632.93 241.72" fill="none" stroke="#5b8fc6" stroke-width="0.8"/>
<path d="M635.7 238.56L636.9 237.26L636.9 241.72" fill="none" stroke="#5b8fc6" stroke-width="0.8"/>
<path d="M639.67 238.56L640.87 237.26L640.87 241.72" fill="none" stroke="#5b8fc6" stroke-width="0.8"/>
<path d="M643.64 238.56L644.84 237.26L644.84 241.72" fill="none" stroke="#5b8fc6" stroke-width="0.8"/>
<path d="M647.61 238.56L648.81 237.26L648.81 241.72" fill="none" stroke="#5b8fc6" stroke-width="0.8"/>
<path d="M651.58 238.56L652.78 237.26L652.78 241.72" fill="none" stroke="#5b8fc6" stroke-width="0.8"/>
<path d="M655.55 238.56L656.75 237.26L656.75 241.72" fill="none" stroke="#5b8fc6" stroke-width="0.8"/>
<path d="M659.52 238.56L660.72 237.26L660.72 241.72" fill="none" stroke="#5b8fc6" stroke-width="0.8"/>
<path d="M663.49 238.56L664.69 237.26L664.69 241.72" fill="none" stroke="#5b8fc6" stroke-width="0.8"/>
<path d="M667.46 238.56L668.66 237.26L668.66 241.72" fill="none" stroke="#5b8fc6" stroke-width="0.8"/>
<path d="M671.43 238.56L672.63 237.26L672.63 241.72" fill="none" stroke="#5b8fc6" stroke-width="0.8"/>
<path d="M675.4 238.56L676.6 237.26L676.6 241.72" fill="none" stroke="#5b8fc6" stroke-width="0.8"/>
<path d="M679.37 238.56L680.57 237.26L680.57 241.72" fill="none" stroke="#5b8fc6" stroke-width="0.8"/>
<rect x="396" y="280.07" width="289" height="4.74" fill="#f3f3f3"/>
<rect x="396" y="289.55" width="289" height="4.74" fill="#f3f3f3"/>
<rect x="396" y="299.03" width="289" height="4.74" fill="#f3f3f3"/>
<rect x="396" y="308.51" width="289" height="4.74" fill="#f3f3f3"/>
<rect x="396" y="317.99" width="289" height="4.74" fill="#f3f3f3"/>
<rect x="396" y="327.47" width="289" height="4.74" fill="#f3f3f3"/>
<rect x="396" y="336.95" width="289" height="4.74" fill="#f3f3f3"/>
<rect x="396" y="346.43" width="289" height="4.74" fill="#f3f3f3"/>
<rect x="396" y="355.91" width="289" height="4.74" fill="#f3f3f3"/>
<rect x="396" y="365.39" width="289" height="4.74" fill="#f3f3f3"/>
<circle cx="398.35" cy="282.44" r="1.2" fill="#dedede"/>
<circle cx="398.35" cy="287.18" r="1.2" fill="#dedede"/>
<circle cx="398.35" cy="291.92" r="1.2" fill="#dedede"/>
<circle cx="398.35" cy="296.66" r="1.2" fill="#dedede"/>
<circle cx="398.35" cy="301.4" r="1.2" fill="#dedede"/>
<circle cx="398.35" cy="306.14" r="1.2" fill="#dedede"/>
<circle cx="398.35" cy="310.88" r="1.2" fill="#dedede"/>
<circle cx="398.35" cy="315.62" r="1.2" fill="#dedede"/>
<circle cx="398.35" cy="320.36" r="1.2" fill="#dedede"/>
<circle cx="398.35" cy="325.1" r="1.2" fill="#dedede"/>
<circle cx="398.35" cy="329.84" r="1.2" fill="#dedede"/>
<circle cx="398.35" cy="334.58" r="1.2" fill="#dedede"/>
<circle cx="398.35" cy="339.32" r="1.2" fill="#dedede"/>
<circle cx="398.35" cy="344.06" r="1.2" fill="#dedede"/>
<circle cx="398.35" cy="348.8" r="1.2" fill="#dedede"/>
<circle cx="398.35" cy="353.54" r="1.2" fill="#dedede"/>
<circle cx="398.35" cy="358.28" r="1.2" fill="#dedede"/>
<circle cx="398.35" cy="372.5" r="1.2" fill="#dedede"/>
<circle cx="402.32" cy="282.44" r="1.2" fill="#dedede"/>
<circle cx="402.32" cy="287.18" r="1.2" fill="#dedede"/>
<circle cx="402.32" cy="291.92" r="1.2" fill="#dedede"/>
<circle cx="402.32" cy="296.66" r="1.2" fill="#dedede"/>
<circle cx="402.32" cy="301.4" r="1.2" fill="#dedede"/>
<circle cx="402.32" cy="306.14" r="1.2" fill="#dedede"/>
<circle cx="402.32" cy="310.88" r="1.2" fill="#dedede"/>
<circle cx="402.32" cy="315.62" r="1.2" fill="#dedede"/>
<circle cx="402.32" cy="320.36" r="1.2" fill="#dedede"/>
<circle cx="402.32" cy="325.1" r="1.2" fill="#dedede"/>
<circle cx="402.32" cy="329.84" r="1.2" fill="#dedede"/>
<circle cx="402.32" cy="334.58" r="1.2" fill="#dedede"/>
<circle cx="402.32" cy="339.32" r="1.2" fill="#dedede"/>
<circle cx="402.32" cy="344.06" r="1.2" fill="#dedede"/>
<circle cx="402.32" cy="348.8" r="1.2" fill="#dedede"/>
<circle cx="406.29" cy="277.7" r="1.2" fill="#dedede"/>
<circle cx="406.29" cy="282.44" r="1.2" fill="#dedede"/>
<circle cx="406.29" cy="287.18" r="1.2" fill="#dedede"/>
<circle cx="406.29" cy="291.92" r="1.2" fill="#dedede"/>
<circle cx="406.29" cy="296.66" r="1.2" fill="#dedede"/>
<circle cx="406.29" cy="301.4" r="1.2" fill="#dedede"/>
<circle cx="406.29" cy="306.14" r="1.2" fill="#dedede"/>
<circle cx="406.29" cy="310.88" r="1.2" fill="#dedede"/>
<circle cx="406.29" cy="315.62" r="1.2" fill="#dedede"/>
<circle cx="406.29" cy="320.36" r="1.2" fill="#dedede"/>
<circle cx="406.29" cy="325.1" r="1.2" fill="#dedede"/>
<circle cx="406.29" cy="329.84" r="1.2" fill="#dedede"/>
<circle cx="406.29" cy="334.58" r="1.2" fill="#dedede"/>
<circle cx="406.29" cy="339.32" r="1.2" fill="#dedede"/>
<circle cx="406.29" cy="344.06" r="1.2" fill="#dedede"/>
<circle cx="406.29" cy="348.8" r="1.2" fill="#dedede"/>
<circle cx="406.29" cy="353.54" r="1.2" fill="#dedede"/>
<circle cx="406.29" cy="358.28" r="1.2" fill="#dedede"/>
<circle cx="406.29" cy="363.02" r="1.2" fill="#dedede"/>
<circle cx="406.29" cy="372.5" r="1.2" fill="#dedede"/>
<circle cx="410.26" cy="277.7" r="1.2" fill="#dedede"/>
<circle cx="410.26" cy="282.44" r="1.2" fill="#dedede"/>
<circle cx="410.26" cy="287.18" r="1.2" fill="#dedede"/>
<circle cx="410.26" cy="291.92" r="1.2" fill="#dedede"/>
<circle cx="410.26" cy="296.66" r="1.2" fill="#dedede"/>
<circle cx="410.26" cy="301.4" r="1.2" fill="#dedede"/>
<circle cx="410.26" cy="306.14" r="1.2" fill="#dedede"/>
<circle cx="410.26" cy="310.88" r="1.2" fill="#dedede"/>
<circle cx="410.26" cy="315.62" r="1.2" fill="#dedede"/>
<circle cx="410.26" cy="320.36" r="1.2" fill="#dedede"/>
<circle cx="410.26" cy="325.1" r="1.2" fill="#dedede"/>
<circle cx="410.26" cy="329.84" r="1.2" fill="#dedede"/>
<circle cx="410.26" cy="334.58" r="1.2" fill="#dedede"/>
<circle cx="410.26" cy="339.32" r="1.2" fill="#dedede"/>
<circle cx="410.26" cy="344.06" r="1.2" fill="#dedede"/>
<circle cx="410.26" cy="348.8" r="1.2" fill="#dedede"/>
<circle cx="410.26" cy="353.54" r="1.2" fill="#dedede"/>
<circle cx="410.26" cy="358.28" r="1.2" fill="#dedede"/>
<circle cx="410.26" cy="372.5" r="1.2" fill="#dedede"/>
<circle cx="414.23" cy="282.44" r="1.2" fill="#dedede"/>
<circle cx="414.23" cy="287.18" r="1.2" fill="#dedede"/>
<circle cx="414.23" cy="291.92" r="1.2" fill="#dedede"/>
<circle cx="414.23" cy="296.66" r="1.2" fill="#dedede"/>
<circle cx="414.23" cy="301.4" r="1.2" fill="#dedede"/>
<circle cx="414.23" cy="306.14" r="1.2" fill="#dedede"/>
<circle cx="414.23" cy="310.88" r="1.2" fill="#dedede"/>
<circle cx="414.23" cy="315.62" r="1.2" fill="#dedede"/>
<circle cx="414.23" cy="320.36" r="1.2" fill="#dedede"/>
<circle cx="414.23" cy="325.1" r="1.2" fill="#dedede"/>
<circle cx="414.23" cy="329.84" r="1.2" fill="#dedede"/>
<circle cx="414.23" cy="334.58" r="1.2" fill="#dedede"/>
<circle cx="414.23" cy="339.32" r="1.2" fill="#dedede"/>
<circle cx="414.23" cy="344.06" r="1.2" fill="#dedede"/>
<circle cx="414.23" cy="348.8" r="1.2" fill="#dedede"/>
<circle cx="414.23" cy="353.54" r="1.2" fill="#dedede"/>
<circle cx="414.23" cy="358.28" r="1.2" fill="#dedede"/>
<circle cx="414.23" cy="363.02" r="1.2" fill="#dedede"/>
<circle cx="414.23" cy="367.76" r="1.2" fill="#dedede"/>
<circle cx="414.23" cy="372.5" r="1.2" fill="#dedede"/>
<circle cx="418.2" cy="282.44" r="1.2" fill="#dedede"/>
<circle cx="418.2" cy="287.18" r="1.2" fill="#dedede"/>
<circle cx="418.2" cy="291.92" r="1.2" fill="#dedede"/>
<circle cx="418.2" cy="296.66" r="1.2" fill="#dedede"/>
<circle cx="418.2" cy="301.4" r="1.2" fill="#dedede"/>
<circle cx="418.2" cy="306.14" r="1.2" fill="#dedede"/>
<circle cx="418.2" cy="310.88" r="1.2" fill="#dedede"/>
<circle cx="418.2" cy="315.62" r="1.2" fill="#dedede"/>
<circle cx="418.2" cy="320.36" r="1.2" fill="#dedede"/>
<circle cx="418.2" cy="325.1" r="1.2" fill="#dedede"/>
<circle cx="418.2" cy="329.84" r="1.2" fill="#dedede"/>
<circle cx="418.2" cy="334.58" r="1.2" fill="#dedede"/>
<circle cx="418.2" cy="339.32" r="1.2" fill="#dedede"/>
<circle cx="418.2" cy="344.06" r="1.2" fill="#dedede"/>
<circle cx="418.2" cy="348.8" r="1.2" fill="#dedede"/>
<circle cx="418.2" cy="358.28" r="1.2" fill="#dedede"/>
<circle cx="422.17" cy="277.7" r="1.2" fill="#dedede"/>
<circle cx="422.17" cy="282.44" r="1.2" fill="#dedede"/>
<circle cx="422.17" cy="287.18" r="1.2" fill="#dedede"/>
<circle cx="422.17" cy="291.92" r="1.2" fill="#dedede"/>
<circle cx="422.17" cy="296.66" r="1.2" fill="#dedede"/>
<circle cx="422.17" cy="301.4" r="1.2" fill="#dedede"/>
<circle cx="422.17" cy="306.14" r="1.2" fill="#dedede"/>
<circle cx="422.17" cy="310.88" r="1.2" fill="#dedede"/>
<circle cx="422.17" cy="315.62" r="1.2" fill="#dedede"/>
<circle cx="422.17" cy="320.36" r="1.2" fill="#dedede"/>
<circle cx="422.17" cy="325.1" r="1.2" fill="#dedede"/>
<circle cx="422.17" cy="329.84" r="1.2" fill="#dedede"/>
<circle cx="422.17" cy="334.58" r="1.2" fill="#dedede"/>
<circle cx="422.17" cy="339.32" r="1.2" fill="#dedede"/>
<circle cx="422.17" cy="344.06" r="1.2" fill="#dedede"/>
<circle cx="422.17" cy="348.8" r="1.2" fill="#dedede"/>
<circle cx="422.17" cy="353.54" r="1.2" fill="#dedede"/>
<circle cx="422.17" cy="358.28" r="1.2" fill="#dedede"/>
<circle cx="422.17" cy="367.76" r="1.2" fill="#dedede"/>
<circle cx="422.17" cy="372.5" r="1.2" fill="#dedede"/>
<circle cx="426.14" cy="277.7" r="1.2" fill="#dedede"/>
<circle cx="426.14" cy="282.44" r="1.2" fill="#dedede"/>
<circle cx="426.14" cy="287.18" r="1.2" fill="#dedede"/>
<circle cx="426.14" cy="291.92" r="1.2" fill="#dedede"/>
<circle cx="426.14" cy="296.66" r="1.2" fill="#dedede"/>
<circle cx="426.14" cy="301.4" r="1.2" fill="#dedede"/>
<circle cx="426.14" cy="306.14" r="1.2" fill="#dedede"/>
<circle cx="426.14" cy="310.88" r="1.2" fill="#dedede"/>
<circle cx="426.14" cy="315.62" r="1.2" fill="#dedede"/>
<circle cx="426.14" cy="320.36" r="1.2" fill="#dedede"/>
<circle cx="426.14" cy="325.1" r="1.2" fill="#dedede"/>
<circle cx="426.14" cy="329.84" r="1.2" fill="#dedede"/>
<circle cx="426.14" cy="334.58" r="1.2" fill="#dedede"/>
<circle cx="426.14" cy="339.32" r="1.2" fill="#dedede"/>
<circle cx="426.14" cy="344.06" r="1.2" fill="#dedede"/>
<circle cx="426.14" cy="348.8" r="1.2" fill="#dedede"/>
<circle cx="430.11" cy="277.7" r="1.2" fill="#dedede"/>
<circle cx="430.11" cy="282.44" r="1.2" fill="#dedede"/>
<circle cx="430.11" cy="287.18" r="1.2" fill="#dedede"/>
<circle cx="430.11" cy="291.92" r="1.2" fill="#dedede"/>
<circle cx="430.11" cy="296.66" r="1.2" fill="#dedede"/>
<circle cx="430.11" cy="301.4" r="1.2" fill="#dedede"/>
<circle cx="430.11" cy="306.14" r="1.2" fill="#dedede"/>
<circle cx="430.11" cy="310.88" r="1.2" fill="#dedede"/>
<circle cx="430.11" cy="315.62" r="1.2" fill="#dedede"/>
<circle cx="430.11" cy="320.36" r="1.2" fill="#dedede"/>
<circle cx="430.11" cy="325.1" r="1.2" fill="#dedede"/>
<circle cx="430.11" cy="329.84" r="1.2" fill="#dedede"/>
<circle cx="430.11" cy="339.32" r="1.2" fill="#dedede"/>
<circle cx="430.11" cy="344.06" r="1.2" fill="#dedede"/>
<circle cx="430.11" cy="348.8" r="1.2" fill="#dedede"/>
<circle cx="430.11" cy="353.54" r="1.2" fill="#dedede"/>
<circle cx="430.11" cy="358.28" r="1.2" fill="#dedede"/>
<circle cx="430.11" cy="363.02" r="1.2" fill="#dedede"/>
<circle cx="430.11" cy="367.76" r="1.2" fill="#dedede"/>
<circle cx="430.11" cy="372.5" r="1.2" fill="#dedede"/>
<circle cx="434.08" cy="277.7" r="1.2" fill="#dedede"/>
<circle cx="434.08" cy="282.44" r="1.2" fill="#dedede"/>
<circle cx="434.08" cy="291.92" r="1.2" fill="#dedede"/>
<circle cx="434.08" cy="296.66" r="1.2" fill="#dedede"/>
<circle cx="434.08" cy="301.4" r="1.2" fill="#dedede"/>
<circle cx="434.08" cy="306.14" r="1.2" fill="#dedede"/>
<circle cx="434.08" cy="310.88" r="1.2" fill="#dedede"/>
<circle cx="434.08" cy="315.62" r="1.2" fill="#dedede"/>
<circle cx="434.08" cy="320.36" r="1.2" fill="#dedede"/>
<circle cx="434.08" cy="325.1" r="1.2" fill="#dedede"/>
<circle cx="434.08" cy="329.84" r="1.2" fill="#dedede"/>
<circle cx="434.08" cy="334.58" r="1.2" fill="#dedede"/>
<circle cx="434.08" cy="339.32" r="1.2" fill="#dedede"/>
<circle cx="434.08" cy="344.06" r="1.2" fill="#dedede"/>
<circle cx="434.08" cy="348.8" r="1.2" fill="#dedede"/>
<circle cx="434.08" cy="353.54" r="1.2" fill="#dedede"/>
<circle cx="434.08" cy="358.28" r="1.2" fill="#dedede"/>
<circle cx="434.08" cy="363.02" r="1.2" fill="#dedede"/>
<circle cx="434.08" cy="367.76" r="1.2" fill="#dedede"/>
<circle cx="434.08" cy="372.5" r="1.2" fill="#dedede"/>
<circle cx="438.05" cy="277.7" r="1.2" fill="#dedede"/>
<circle cx="438.05" cy="291.92" r="1.2" fill="#dedede"/>
<circle cx="438.05" cy="296.66" r="1.2" fill="#dedede"/>
<circle cx="438.05" cy="301.4" r="1.2" fill="#dedede"/>
<circle cx="438.05" cy="306.14" r="1.2" fill="#dedede"/>
<circle cx="438.05" cy="310.88" r="1.2" fill="#dedede"/>
<circle cx="438.05" cy="315.62" r="1.2" fill="#dedede"/>
<circle cx="438.05" cy="320.36" r="1.2" fill="#dedede"/>
<circle cx="438.05" cy="325.1" r="1.2" fill="#dedede"/>
<circle cx="438.05" cy="329.84" r="1.2" fill="#dedede"/>
<circle cx="438.05" cy="334.58" r="1.2" fill="#dedede"/>
<circle cx="438.05" cy="339.32" r="1.2" fill="#dedede"/>
<circle cx="438.05" cy="344.06" r="1.2" fill="#dedede"/>
<circle cx="438.05" cy="348.8" r="1.2" fill="#dedede"/>
<circle cx="438.05" cy="353.54" r="1.2" fill="#dedede"/>
<circle cx="438.05" cy="358.28" r="1.2" fill="#dedede"/>
<circle cx="438.05" cy="363.02" r="1.2" fill="#dedede"/>
<circle cx="438.05" cy="367.76" r="1.2" fill="#dedede"/>
<circle cx="438.05" cy="372.5" r="1.2" fill="#dedede"/>
<circle cx="442.02" cy="277.7" r="1.2" fill="#dedede"/>
<circle cx="442.02" cy="296.66" r="1.2" fill="#dedede"/>
<circle cx="442.02" cy="301.4" r="1.2" fill="#dedede"/>
<circle cx="442.02" cy="306.14" r="1.2" fill="#dedede"/>
<circle cx="442.02" cy="310.88" r="1.2" fill="#dedede"/>
<circle cx="442.02" cy="315.62" r="1.2" fill="#dedede"/>
<circle cx="442.02" cy="320.36" r="1.2" fill="#dedede"/>
<circle cx="442.02" cy="325.1" r="1.2" fill="#dedede"/>
<circle cx="442.02" cy="329.84" r="1.2" fill="#dedede"/>
<circle cx="442.02" cy="334.58" r="1.2" fill="#dedede"/>
<circle cx="442.02" cy="339.32" r="1.2" fill="#dedede"/>
<circle cx="442.02" cy="344.06" r="1.2" fill="#dedede"/>
<circle cx="442.02" cy="348.8" r="1.2" fill="#dedede"/>
<circle cx="442.02" cy="353.54" r="1.2" fill="#dedede"/>
<circle cx="442.02" cy="358.28" r="1.2" fill="#dedede"/>
<circle cx="442.02" cy="363.02" r="1.2" fill="#dedede"/>
<circle cx="442.02" cy="367.76" r="1.2" fill="#dedede"/>
<circle cx="442.02" cy="372.5" r="1.2" fill="#dedede"/>
<circle cx="445.99" cy="277.7" r="1.2" fill="#dedede"/>
<circle cx="445.99" cy="296.66" r="1.2" fill="#dedede"/>
<circle cx="445.99" cy="301.4" r="1.2" fill="#dedede"/>
<circle cx="445.99" cy="306.14" r="1.2" fill="#dedede"/>
<circle cx="445.99" cy="310.88" r="1.2" fill="#dedede"/>
<circle cx="445.99" cy="320.36" r="1.2" fill="#dedede"/>
<circle cx="445.99" cy="325.1" r="1.2" fill="#dedede"/>
<circle cx="445.99" cy="329.84" r="1.2" fill="#dedede"/>
<circle cx="445.99" cy="334.58" r="1.2" fill="#dedede"/>
<circle cx="445.99" cy="339.32" r="1.2" fill="#dedede"/>
<circle cx="445.99" cy="344.06" r="1.2" fill="#dedede"/>
<circle cx="445.99" cy="348.8" r="1.2" fill="#dedede"/>
<circle cx="445.99" cy="353.54" r="1.2" fill="#dedede"/>
<circle cx="445.99" cy="358.28" r="1.2" fill="#dedede"/>
<circle cx="445.99" cy="363.02" r="1.2" fill="#dedede"/>
<circle cx="445.99" cy="367.76" r="1.2" fill="#dedede"/>
<circle cx="445.99" cy="372.5" r="1.2" fill="#dedede"/>
<circle cx="449.96" cy="277.7" r="1.2" fill="#dedede"/>
<circle cx="449.96" cy="282.44" r="1.2" fill="#dedede"/>
<circle cx="449.96" cy="287.18" r="1.2" fill="#dedede"/>
<circle cx="449.96" cy="291.92" r="1.2" fill="#dedede"/>
<circle cx="449.96" cy="296.66" r="1.2" fill="#dedede"/>
<circle cx="449.96" cy="301.4" r="1.2" fill="#dedede"/>
<circle cx="449.96" cy="306.14" r="1.2" fill="#dedede"/>
<circle cx="449.96" cy="310.88" r="1.2" fill="#dedede"/>
<circle cx="449.96" cy="315.62" r="1.2" fill="#dedede"/>
<circle cx="449.96" cy="320.36" r="1.2" fill="#dedede"/>
<circle cx="449.96" cy="325.1" r="1.2" fill="#dedede"/>
<circle cx="449.96" cy="329.84" r="1.2" fill="#dedede"/>
<circle cx="449.96" cy="334.58" r="1.2" fill="#dedede"/>
<circle cx="449.96" cy="339.32" r="1.2" fill="#dedede"/>
<circle cx="449.96" cy="344.06" r="1.2" fill="#dedede"/>
<circle cx="449.96" cy="348.8" r="1.2" fill="#dedede"/>
<circle cx="449.96" cy="358.28" r="1.2" fill="#dedede"/>
<circle cx="449.96" cy="363.02" r="1.2" fill="#dedede"/>
<circle cx="449.96" cy="367.76" r="1.2" fill="#dedede"/>
<circle cx="449.96" cy="372.5" r="1.2" fill="#dedede"/>
<circle cx="453.93" cy="282.44" r="1.2" fill="#dedede"/>
<circle cx="453.93" cy="287.18" r="1.2" fill="#dedede"/>
<circle cx="453.93" cy="291.92" r="1.2" fill="#dedede"/>
<circle cx="453.93" cy="296.66" r="1.2" fill="#dedede"/>
<circle cx="453.93" cy="301.4" r="1.2" fill="#dedede"/>
<circle cx="453.93" cy="306.14" r="1.2" fill="#dedede"/>
<circle cx="453.93" cy="310.88" r="1.2" fill="#dedede"/>
<circle cx="453.93" cy="315.62" r="1.2" fill="#dedede"/>
<circle cx="453.93" cy="320.36" r="1.2" fill="#dedede"/>
<circle cx="453.93" cy="325.1" r="1.2" fill="#dedede"/>
<circle cx="453.93" cy="329.84" r="1.2" fill="#dedede"/>
<circle cx="453.93" cy="334.58" r="1.2" fill="#dedede"/>
<circle cx="453.93" cy="339.32" r="1.2" fill="#dedede"/>
<circle cx="453.93" cy="344.06" r="1.2" fill="#dedede"/>
<circle cx="453.93" cy="348.8" r="1.2" fill="#dedede"/>
<circle cx="453.93" cy="353.54" r="1.2" fill="#dedede"/>
<circle cx="453.93" cy="358.28" r="1.2" fill="#dedede"/>
<circle cx="453.93" cy="363.02" r="1.2" fill="#dedede"/>
<circle cx="453.93" cy="372.5" r="1.2" fill="#dedede"/>
<circle cx="457.9" cy="277.7" r="1.2" fill="#dedede"/>
<circle cx="457.9" cy="282.44" r="1.2" fill="#dedede"/>
<circle cx="457.9" cy="287.18" r="1.2" fill="#dedede"/>
<circle cx="457.9" cy="291.92" r="1.2" fill="#dedede"/>
<circle cx="457.9" cy="296.66" r="1.2" fill="#dedede"/>
<circle cx="457.9" cy="301.4" r="1.2" fill="#dedede"/>
<circle cx="457.9" cy="306.14" r="1.2" fill="#dedede"/>
<circle cx="457.9" cy="310.88" r="1.2" fill="#dedede"/>
<circle cx="457.9" cy="315.62" r="1.2" fill="#dedede"/>
<circle cx="457.9" cy="320.36" r="1.2" fill="#dedede"/>
<circle cx="457.9" cy="325.1" r="1.2" fill="#dedede"/>
<circle cx="457.9" cy="329.84" r="1.2" fill="#dedede"/>
<circle cx="457.9" cy="334.58" r="1.2" fill="#dedede"/>
<circle cx="457.9" cy="339.32" r="1.2" fill="#dedede"/>
<circle cx="457.9" cy="344.06" r="1.2" fill="#dedede"/>
<circle cx="457.9" cy="348.8" r="1.2" fill="#dedede"/>
<circle cx="457.9" cy="358.28" r="1.2" fill="#dedede"/>
<circle cx="457.9" cy="363.02" r="1.2" fill="#dedede"/>
<circle cx="457.9" cy="372.5" r="1.2" fill="#dedede"/>
<circle cx="461.87" cy="282.44" r="1.2" fill="#dedede"/>
<circle cx="461.87" cy="287.18" r="1.2" fill="#dedede"/>
<circle cx="461.87" cy="291.92" r="1.2" fill="#dedede"/>
<circle cx="461.87" cy="296.66" r="1.2" fill="#dedede"/>
<circle cx="461.87" cy="301.4" r="1.2" fill="#dedede"/>
<circle cx="461.87" cy="306.14" r="1.2" fill="#dedede"/>
<circle cx="461.87" cy="310.88" r="1.2" fill="#dedede"/>
<circle cx="461.87" cy="315.62" r="1.2" fill="#dedede"/>
<circle cx="461.87" cy="320.36" r="1.2" fill="#dedede"/>
<circle cx="461.87" cy="325.1" r="1.2" fill="#dedede"/>
<circle cx="461.87" cy="329.84" r="1.2" fill="#dedede"/>
<circle cx="461.87" cy="334.58" r="1.2" fill="#dedede"/>
<circle cx="461.87" cy="339.32" r="1.2" fill="#dedede"/>
<circle cx="461.87" cy="344.06" r="1.2" fill="#dedede"/>
<circle cx="461.87" cy="348.8" r="1.2" fill="#dedede"/>
<circle cx="461.87" cy="353.54" r="1.2" fill="#dedede"/>
<circle cx="461.87" cy="372.5" r="1.2" fill="#dedede"/>
<circle cx="465.84" cy="277.7" r="1.2" fill="#dedede"/>
<circle cx="465.84" cy="282.44" r="1.2" fill="#dedede"/>
<circle cx="465.84" cy="287.18" r="1.2" fill="#dedede"/>
<circle cx="465.84" cy="291.92" r="1.2" fill="#dedede"/>
<circle cx="465.84" cy="296.66" r="1.2" fill="#dedede"/>
<circle cx="465.84" cy="301.4" r="1.2" fill="#dedede"/>
<circle cx="465.84" cy="306.14" r="1.2" fill="#dedede"/>
<circle cx="465.84" cy="310.88" r="1.2" fill="#dedede"/>
<circle cx="465.84" cy="315.62" r="1.2" fill="#dedede"/>
<circle cx="465.84" cy="320.36" r="1.2" fill="#dedede"/>
<circle cx="465.84" cy="325.1" r="1.2" fill="#dedede"/>
<circle cx="465.84" cy="329.84" r="1.2" fill="#dedede"/>
<circle cx="465.84" cy="334.58" r="1.2" fill="#dedede"/>
<circle cx="465.84" cy="339.32" r="1.2" fill="#dedede"/>
<circle cx="465.84" cy="344.06" r="1.2" fill="#dedede"/>
<circle cx="465.84" cy="348.8" r="1.2" fill="#dedede"/>
<circle cx="465.84" cy="353.54" r="1.2" fill="#dedede"/>
<circle cx="465.84" cy="358.28" r="1.2" fill="#dedede"/>
<circle cx="465.84" cy="363.02" r="1.2" fill="#dedede"/>
<circle cx="465.84" cy="367.76" r="1.2" fill="#dedede"/>
<circle cx="469.81" cy="277.7" r="1.2" fill="#dedede"/>
<circle cx="469.81" cy="282.44" r="1.2" fill="#dedede"/>
<circle cx="469.81" cy="287.18" r="1.2" fill="#dedede"/>
<circle cx="469.81" cy="291.92" r="1.2" fill="#dedede"/>
<circle cx="469.81" cy="296.66" r="1.2" fill="#dedede"/>
<circle cx="469.81" cy="301.4" r="1.2" fill="#dedede"/>
<circle cx="469.81" cy="306.14" r="1.2" fill="#dedede"/>
<circle cx="469.81" cy="310.88" r="1.2" fill="#dedede"/>
<circle cx="469.81" cy="315.62" r="1.2" fill="#dedede"/>
<circle cx="469.81" cy="320.36" r="1.2" fill="#dedede"/>
<circle cx="469.81" cy="325.1" r="1.2" fill="#dedede"/>
<circle cx="469.81" cy="329.84" r="1.2" fill="#dedede"/>
<circle cx="469.81" cy="334.58" r="1.2" fill="#dedede"/>
<circle cx="469.81" cy="339.32" r="1.2" fill="#dedede"/>
<circle cx="469.81" cy="344.06" r="1.2" fill="#dedede"/>
<circle cx="469.81" cy="348.8" r="1.2" fill="#dedede"/>
<circle cx="469.81" cy="358.28" r="1.2" fill="#dedede"/>
<circle cx="477.75" cy="277.7" r="1.2" fill="#dedede"/>
<circle cx="477.75" cy="282.44" r="1.2" fill="#dedede"/>
<circle cx="477.75" cy="296.66" r="1.2" fill="#dedede"/>
<circle cx="477.75" cy="301.4" r="1.2" fill="#dedede"/>
<circle cx="477.75" cy="306.14" r="1.2" fill="#dedede"/>
<circle cx="477.75" cy="310.88" r="1.2" fill="#dedede"/>
<circle cx="477.75" cy="315.62" r="1.2" fill="#dedede"/>
<circle cx="477.75" cy="320.36" r="1.2" fill="#dedede"/>
<circle cx="477.75" cy="325.1" r="1.2" fill="#dedede"/>
<circle cx="477.75" cy="329.84" r="1.2" fill="#dedede"/>
<circle cx="477.75" cy="334.58" r="1.2" fill="#dedede"/>
<circle cx="477.75" cy="339.32" r="1.2" fill="#dedede"/>
<circle cx="477.75" cy="344.06" r="1.2" fill="#dedede"/>
<circle cx="477.75" cy="348.8" r="1.2" fill="#dedede"/>
<circle cx="477.75" cy="353.54" r="1.2" fill="#dedede"/>
<circle cx="477.75" cy="358.28" r="1.2" fill="#dedede"/>
<circle cx="477.75" cy="363.02" r="1.2" fill="#dedede"/>
<circle cx="477.75" cy="367.76" r="1.2" fill="#dedede"/>
<circle cx="477.75" cy="372.5" r="1.2" fill="#dedede"/>
<circle cx="481.72" cy="277.7" r="1.2" fill="#dedede"/>
<circle cx="481.72" cy="282.44" r="1.2" fill="#dedede"/>
<circle cx="481.72" cy="287.18" r="1.2" fill="#dedede"/>
<circle cx="481.72" cy="291.92" r="1.2" fill="#dedede"/>
<circle cx="481.72" cy="301.4" r="1.2" fill="#dedede"/>
<circle cx="481.72" cy="306.14" r="1.2" fill="#dedede"/>
<circle cx="481.72" cy="310.88" r="1.2" fill="#dedede"/>
<circle cx="481.72" cy="315.62" r="1.2" fill="#dedede"/>
<circle cx="481.72" cy="320.36" r="1.2" fill="#dedede"/>
<circle cx="481.72" cy="325.1" r="1.2" fill="#dedede"/>
<circle cx="481.72" cy="329.84" r="1.2" fill="#dedede"/>
<circle cx="481.72" cy="334.58" r="1.2" fill="#dedede"/>
<circle cx="481.72" cy="339.32" r="1.2" fill="#dedede"/>
<circle cx="481.72" cy="344.06" r="1.2" fill="#dedede"/>
<circle cx="481.72" cy="348.8" r="1.2" fill="#dedede"/>
<circle cx="481.72" cy="353.54" r="1.2" fill="#dedede"/>
<circle cx="481.72" cy="358.28" r="1.2" fill="#dedede"/>
<circle cx="481.72" cy="363.02" r="1.2" fill="#dedede"/>
<circle cx="481.72" cy="367.76" r="1.2" fill="#dedede"/>
<circle cx="481.72" cy="372.5" r="1.2" fill="#dedede"/>
<circle cx="485.69" cy="277.7" r="1.2" fill="#dedede"/>
<circle cx="485.69" cy="301.4" r="1.2" fill="#dedede"/>
<circle cx="485.69" cy="306.14" r="1.2" fill="#dedede"/>
<circle cx="485.69" cy="310.88" r="1.2" fill="#dedede"/>
<circle cx="485.69" cy="315.62" r="1.2" fill="#dedede"/>
<circle cx="485.69" cy="320.36" r="1.2" fill="#dedede"/>
<circle cx="485.69" cy="325.1" r="1.2" fill="#dedede"/>
<circle cx="485.69" cy="329.84" r="1.2" fill="#dedede"/>
<circle cx="485.69" cy="334.58" r="1.2" fill="#dedede"/>
<circle cx="485.69" cy="339.32" r="1.2" fill="#dedede"/>
<circle cx="485.69" cy="344.06" r="1.2" fill="#dedede"/>
<circle cx="485.69" cy="348.8" r="1.2" fill="#dedede"/>
<circle cx="485.69" cy="353.54" r="1.2" fill="#dedede"/>
<circle cx="485.69" cy="358.28" r="1.2" fill="#dedede"/>
<circle cx="485.69" cy="363.02" r="1.2" fill="#dedede"/>
<circle cx="485.69" cy="367.76" r="1.2" fill="#dedede"/>
<circle cx="485.69" cy="372.5" r="1.2" fill="#dedede"/>
<circle cx="489.66" cy="277.7" r="1.2" fill="#dedede"/>
<circle cx="489.66" cy="282.44" r="1.2" fill="#dedede"/>
<circle cx="489.66" cy="287.18" r="1.2" fill="#dedede"/>
<circle cx="489.66" cy="291.92" r="1.2" fill="#dedede"/>
<circle cx="489.66" cy="296.66" r="1.2" fill="#dedede"/>
<circle cx="489.66" cy="306.14" r="1.2" fill="#dedede"/>
<circle cx="489.66" cy="310.88" r="1.2" fill="#dedede"/>
<circle cx="489.66" cy="315.62" r="1.2" fill="#dedede"/>
<circle cx="489.66" cy="320.36" r="1.2" fill="#dedede"/>
<circle cx="489.66" cy="325.1" r="1.2" fill="#dedede"/>
<circle cx="489.66" cy="329.84" r="1.2" fill="#dedede"/>
<circle cx="489.66" cy="334.58" r="1.2" fill="#dedede"/>
<circle cx="489.66" cy="339.32" r="1.2" fill="#dedede"/>
<circle cx="489.66" cy="344.06" r="1.2" fill="#dedede"/>
<circle cx="489.66" cy="348.8" r="1.2" fill="#dedede"/>
<circle cx="489.66" cy="353.54" r="1.2" fill="#dedede"/>
<circle cx="489.66" cy="358.28" r="1.2" fill="#dedede"/>
<circle cx="489.66" cy="363.02" r="1.2" fill="#dedede"/>
<circle cx="489.66" cy="367.76" r="1.2" fill="#dedede"/>
<circle cx="489.66" cy="372.5" r="1.2" fill="#dedede"/>
<circle cx="493.63" cy="282.44" r="1.2" fill="#dedede"/>
<circle cx="493.63" cy="287.18" r="1.2" fill="#dedede"/>
<circle cx="493.63" cy="291.92" r="1.2" fill="#dedede"/>
<circle cx="493.63" cy="296.66" r="1.2" fill="#dedede"/>
<circle cx="493.63" cy="306.14" r="1.2" fill="#dedede"/>
<circle cx="493.63" cy="310.88" r="1.2" fill="#dedede"/>
<circle cx="493.63" cy="315.62" r="1.2" fill="#dedede"/>
<circle cx="493.63" cy="320.36" r="1.2" fill="#dedede"/>
<circle cx="493.63" cy="325.1" r="1.2" fill="#dedede"/>
<circle cx="493.63" cy="329.84" r="1.2" fill="#dedede"/>
<circle cx="493.63" cy="334.58" r="1.2" fill="#dedede"/>
<circle cx="493.63" cy="339.32" r="1.2" fill="#dedede"/>
<circle cx="493.63" cy="344.06" r="1.2" fill="#dedede"/>
<circle cx="493.63" cy="348.8" r="1.2" fill="#dedede"/>
<circle cx="493.63" cy="353.54" r="1.2" fill="#dedede"/>
<circle cx="493.63" cy="358.28" r="1.2" fill="#dedede"/>
<circle cx="493.63" cy="363.02" r="1.2" fill="#dedede"/>
<circle cx="493.63" cy="367.76" r="1.2" fill="#dedede"/>
<circle cx="493.63" cy="372.5" r="1.2" fill="#dedede"/>
<circle cx="497.6" cy="277.7" r="1.2" fill="#dedede"/>
<circle cx="497.6" cy="282.44" r="1.2" fill="#dedede"/>
<circle cx="497.6" cy="287.18" r="1.2" fill="#dedede"/>
<circle cx="497.6" cy="291.92" r="1.2" fill="#dedede"/>
<circle cx="497.6" cy="310.88" r="1.2" fill="#dedede"/>
<circle cx="497.6" cy="315.62" r="1.2" fill="#dedede"/>
<circle cx="497.6" cy="320.36" r="1.2" fill="#dedede"/>
<circle cx="497.6" cy="325.1" r="1.2" fill="#dedede"/>
<circle cx="497.6" cy="329.84" r="1.2" fill="#dedede"/>
<circle cx="497.6" cy="334.58" r="1.2" fill="#dedede"/>
<circle cx="497.6" cy="339.32" r="1.2" fill="#dedede"/>
<circle cx="497.6" cy="344.06" r="1.2" fill="#dedede"/>
<circle cx="497.6" cy="348.8" r="1.2" fill="#dedede"/>
<circle cx="497.6" cy="353.54" r="1.2" fill="#dedede"/>
<circle cx="497.6" cy="358.28" r="1.2" fill="#dedede"/>
<circle cx="497.6" cy="363.02" r="1.2" fill="#dedede"/>
<circle cx="497.6" cy="367.76" r="1.2" fill="#dedede"/>
<circle cx="497.6" cy="372.5" r="1.2" fill="#dedede"/>
<circle cx="501.57" cy="277.7" r="1.2" fill="#dedede"/>
<circle cx="501.57" cy="282.44" r="1.2" fill="#dedede"/>
<circle cx="501.57" cy="287.18" r="1.2" fill="#dedede"/>
<circle cx="501.57" cy="291.92" r="1.2" fill="#dedede"/>
<circle cx="501.57" cy="301.4" r="1.2" fill="#dedede"/>
<circle cx="501.57" cy="306.14" r="1.2" fill="#dedede"/>
<circle cx="501.57" cy="310.88" r="1.2" fill="#dedede"/>
<circle cx="501.57" cy="315.62" r="1.2" fill="#dedede"/>
<circle cx="501.57" cy="325.1" r="1.2" fill="#dedede"/>
<circle cx="501.57" cy="329.84" r="1.2" fill="#dedede"/>
<circle cx="501.57" cy="334.58" r="1.2" fill="#dedede"/>
<circle cx="501.57" cy="339.32" r="1.2" fill="#dedede"/>
<circle cx="501.57" cy="344.06" r="1.2" fill="#dedede"/>
<circle cx="501.57" cy="348.8" r="1.2" fill="#dedede"/>
<circle cx="501.57" cy="353.54" r="1.2" fill="#dedede"/>
<circle cx="501.57" cy="358.28" r="1.2" fill="#dedede"/>
<circle cx="501.57" cy="363.02" r="1.2" fill="#dedede"/>
<circle cx="501.57" cy="367.76" r="1.2" fill="#dedede"/>
<circle cx="501.57" cy="372.5" r="1.2" fill="#dedede"/>
<circle cx="505.54" cy="277.7" r="1.2" fill="#dedede"/>
<circle cx="505.54" cy="282.44" r="1.2" fill="#dedede"/>
<circle cx="505.54" cy="287.18" r="1.2" fill="#dedede"/>
<circle cx="505.54" cy="291.92" r="1.2" fill="#dedede"/>
<circle cx="505.54" cy="296.66" r="1.2" fill="#dedede"/>
<circle cx="505.54" cy="301.4" r="1.2" fill="#dedede"/>
<circle cx="505.54" cy="306.14" r="1.2" fill="#dedede"/>
<circle cx="505.54" cy="310.88" r="1.2" fill="#dedede"/>
<circle cx="505.54" cy="315.62" r="1.2" fill="#dedede"/>
<circle cx="505.54" cy="329.84" r="1.2" fill="#dedede"/>
<circle cx="505.54" cy="334.58" r="1.2" fill="#dedede"/>
<circle cx="505.54" cy="339.32" r="1.2" fill="#dedede"/>
<circle cx="505.54" cy="344.06" r="1.2" fill="#dedede"/>
<circle cx="505.54" cy="348.8" r="1.2" fill="#dedede"/>
<circle cx="505.54" cy="353.54" r="1.2" fill="#dedede"/>
<circle cx="505.54" cy="358.28" r="1.2" fill="#dedede"/>
<circle cx="505.54" cy="363.02" r="1.2" fill="#dedede"/>
<circle cx="505.54" cy="367.76" r="1.2" fill="#dedede"/>
<circle cx="505.54" cy="372.5" r="1.2" fill="#dedede"/>
<circle cx="509.51" cy="277.7" r="1.2" fill="#dedede"/>
<circle cx="509.51" cy="282.44" r="1.2" fill="#dedede"/>
<circle cx="509.51" cy="287.18" r="1.2" fill="#dedede"/>
<circle cx="509.51" cy="291.92" r="1.2" fill="#dedede"/>
<circle cx="509.51" cy="296.66" r="1.2" fill="#dedede"/>
<circle cx="509.51" cy="301.4" r="1.2" fill="#dedede"/>
<circle cx="509.51" cy="306.14" r="1.2" fill="#dedede"/>
<circle cx="509.51" cy="310.88" r="1.2" fill="#dedede"/>
<circle cx="509.51" cy="315.62" r="1.2" fill="#dedede"/>
<circle cx="509.51" cy="320.36" r="1.2" fill="#dedede"/>
<circle cx="509.51" cy="325.1" r="1.2" fill="#dedede"/>
<circle cx="509.51" cy="334.58" r="1.2" fill="#dedede"/>
<circle cx="509.51" cy="339.32" r="1.2" fill="#dedede"/>
<circle cx="509.51" cy="344.06" r="1.2" fill="#dedede"/>
<circle cx="509.51" cy="348.8" r="1.2" fill="#dedede"/>
<circle cx="509.51" cy="353.54" r="1.2" fill="#dedede"/>
<circle cx="509.51" cy="358.28" r="1.2" fill="#dedede"/>
<circle cx="509.51" cy="363.02" r="1.2" fill="#dedede"/>
<circle cx="509.51" cy="367.76" r="1.2" fill="#dedede"/>
<circle cx="509.51" cy="372.5" r="1.2" fill="#dedede"/>
<circle cx="513.48" cy="277.7" r="1.2" fill="#dedede"/>
<circle cx="513.48" cy="282.44" r="1.2" fill="#dedede"/>
<circle cx="513.48" cy="287.18" r="1.2" fill="#dedede"/>
<circle cx="513.48" cy="291.92" r="1.2" fill="#dedede"/>
<circle cx="513.48" cy="296.66" r="1.2" fill="#dedede"/>
<circle cx="513.48" cy="301.4" r="1.2" fill="#dedede"/>
<circle cx="513.48" cy="306.14" r="1.2" fill="#dedede"/>
<circle cx="513.48" cy="310.88" r="1.2" fill="#dedede"/>
<circle cx="513.48" cy="315.62" r="1.2" fill="#dedede"/>
<circle cx="513.48" cy="325.1" r="1.2" fill="#dedede"/>
<circle cx="513.48" cy="329.84" r="1.2" fill="#dedede"/>
<circle cx="513.48" cy="339.32" r="1.2" fill="#dedede"/>
<circle cx="513.48" cy="344.06" r="1.2" fill="#dedede"/>
<circle cx="513.48" cy="348.8" r="1.2" fill="#dedede"/>
<circle cx="513.48" cy="353.54" r="1.2" fill="#dedede"/>
<circle cx="513.48" cy="358.28" r="1.2" fill="#dedede"/>
<circle cx="513.48" cy="363.02" r="1.2" fill="#dedede"/>
<circle cx="513.48" cy="367.76" r="1.2" fill="#dedede"/>
<circle cx="513.48" cy="372.5" r="1.2" fill="#dedede"/>
<circle cx="517.45" cy="277.7" r="1.2" fill="#dedede"/>
<circle cx="517.45" cy="282.44" r="1.2" fill="#dedede"/>
<circle cx="517.45" cy="287.18" r="1.2" fill="#dedede"/>
<circle cx="517.45" cy="291.92" r="1.2" fill="#dedede"/>
<circle cx="517.45" cy="296.66" r="1.2" fill="#dedede"/>
<circle cx="517.45" cy="301.4" r="1.2" fill="#dedede"/>
<circle cx="517.45" cy="306.14" r="1.2" fill="#dedede"/>
<circle cx="517.45" cy="310.88" r="1.2" fill="#dedede"/>
<circle cx="517.45" cy="315.62" r="1.2" fill="#dedede"/>
<circle cx="517.45" cy="325.1" r="1.2" fill="#dedede"/>
<circle cx="517.45" cy="329.84" r="1.2" fill="#dedede"/>
<circle cx="517.45" cy="334.58" r="1.2" fill="#dedede"/>
<circle cx="517.45" cy="344.06" r="1.2" fill="#dedede"/>
<circle cx="517.45" cy="348.8" r="1.2" fill="#dedede"/>
<circle cx="517.45" cy="353.54" r="1.2" fill="#dedede"/>
<circle cx="517.45" cy="358.28" r="1.2" fill="#dedede"/>
<circle cx="517.45" cy="363.02" r="1.2" fill="#dedede"/>
<circle cx="517.45" cy="367.76" r="1.2" fill="#dedede"/>
<circle cx="517.45" cy="372.5" r="1.2" fill="#dedede"/>
<circle cx="521.42" cy="277.7" r="1.2" fill="#dedede"/>
<circle cx="521.42" cy="282.44" r="1.2" fill="#dedede"/>
<circle cx="521.42" cy="287.18" r="1.2" fill="#dedede"/>
<circle cx="521.42" cy="291.92" r="1.2" fill="#dedede"/>
<circle cx="521.42" cy="296.66" r="1.2" fill="#dedede"/>
<circle cx="521.42" cy="301.4" r="1.2" fill="#dedede"/>
<circle cx="521.42" cy="315.62" r="1.2" fill="#dedede"/>
<circle cx="521.42" cy="325.1" r="1.2" fill="#dedede"/>
<circle cx="521.42" cy="329.84" r="1.2" fill="#dedede"/>
<circle cx="521.42" cy="334.58" r="1.2" fill="#dedede"/>
<circle cx="521.42" cy="348.8" r="1.2" fill="#dedede"/>
<circle cx="521.42" cy="353.54" r="1.2" fill="#dedede"/>
<circle cx="521.42" cy="358.28" r="1.2" fill="#dedede"/>
<circle cx="521.42" cy="363.02" r="1.2" fill="#dedede"/>
<circle cx="521.42" cy="367.76" r="1.2" fill="#dedede"/>
<circle cx="521.42" cy="372.5" r="1.2" fill="#dedede"/>
<circle cx="525.39" cy="277.7" r="1.2" fill="#dedede"/>
<circle cx="525.39" cy="282.44" r="1.2" fill="#dedede"/>
<circle cx="525.39" cy="287.18" r="1.2" fill="#dedede"/>
<circle cx="525.39" cy="291.92" r="1.2" fill="#dedede"/>
<circle cx="525.39" cy="348.8" r="1.2" fill="#dedede"/>
<circle cx="525.39" cy="353.54" r="1.2" fill="#dedede"/>
<circle cx="525.39" cy="358.28" r="1.2" fill="#dedede"/>
<circle cx="525.39" cy="363.02" r="1.2" fill="#dedede"/>
<circle cx="525.39" cy="367.76" r="1.2" fill="#dedede"/>
<circle cx="525.39" cy="372.5" r="1.2" fill="#dedede"/>
<circle cx="529.36" cy="277.7" r="1.2" fill="#dedede"/>
<circle cx="529.36" cy="291.92" r="1.2" fill="#dedede"/>
<circle cx="529.36" cy="348.8" r="1.2" fill="#dedede"/>
<circle cx="529.36" cy="353.54" r="1.2" fill="#dedede"/>
<circle cx="529.36" cy="358.28" r="1.2" fill="#dedede"/>
<circle cx="529.36" cy="363.02" r="1.2" fill="#dedede"/>
<circle cx="529.36" cy="367.76" r="1.2" fill="#dedede"/>
<circle cx="529.36" cy="372.5" r="1.2" fill="#dedede"/>
<circle cx="533.33" cy="277.7" r="1.2" fill="#dedede"/>
<circle cx="533.33" cy="301.4" r="1.2" fill="#dedede"/>
<circle cx="533.33" cy="306.14" r="1.2" fill="#dedede"/>
<circle cx="533.33" cy="325.1" r="1.2" fill="#dedede"/>
<circle cx="533.33" cy="339.32" r="1.2" fill="#dedede"/>
<circle cx="533.33" cy="344.06" r="1.2" fill="#dedede"/>
<circle cx="533.33" cy="353.54" r="1.2" fill="#dedede"/>
<circle cx="533.33" cy="358.28" r="1.2" fill="#dedede"/>
<circle cx="533.33" cy="363.02" r="1.2" fill="#dedede"/>
<circle cx="533.33" cy="367.76" r="1.2" fill="#dedede"/>
<circle cx="533.33" cy="372.5" r="1.2" fill="#dedede"/>
<circle cx="537.3" cy="277.7" r="1.2" fill="#dedede"/>
<circle cx="537.3" cy="291.92" r="1.2" fill="#dedede"/>
<circle cx="537.3" cy="301.4" r="1.2" fill="#dedede"/>
<circle cx="537.3" cy="310.88" r="1.2" fill="#dedede"/>
<circle cx="537.3" cy="320.36" r="1.2" fill="#dedede"/>
<circle cx="537.3" cy="325.1" r="1.2" fill="#dedede"/>
<circle cx="537.3" cy="339.32" r="1.2" fill="#dedede"/>
<circle cx="537.3" cy="353.54" r="1.2" fill="#dedede"/>
<circle cx="537.3" cy="358.28" r="1.2" fill="#dedede"/>
<circle cx="537.3" cy="363.02" r="1.2" fill="#dedede"/>
<circle cx="537.3" cy="367.76" r="1.2" fill="#dedede"/>
<circle cx="537.3" cy="372.5" r="1.2" fill="#dedede"/>
<circle cx="541.27" cy="277.7" r="1.2" fill="#dedede"/>
<circle cx="541.27" cy="296.66" r="1.2" fill="#dedede"/>
<circle cx="541.27" cy="301.4" r="1.2" fill="#dedede"/>
<circle cx="541.27" cy="306.14" r="1.2" fill="#dedede"/>
<circle cx="541.27" cy="310.88" r="1.2" fill="#dedede"/>
<circle cx="541.27" cy="315.62" r="1.2" fill="#dedede"/>
<circle cx="541.27" cy="320.36" r="1.2" fill="#dedede"/>
<circle cx="541.27" cy="353.54" r="1.2" fill="#dedede"/>
<circle cx="541.27" cy="358.28" r="1.2" fill="#dedede"/>
<circle cx="541.27" cy="363.02" r="1.2" fill="#dedede"/>
<circle cx="541.27" cy="367.76" r="1.2" fill="#dedede"/>
<circle cx="541.27" cy="372.5" r="1.2" fill="#dedede"/>
<circle cx="545.24" cy="277.7" r="1.2" fill="#dedede"/>
<circle cx="545.24" cy="291.92" r="1.2" fill="#dedede"/>
<circle cx="545.24" cy="353.54" r="1.2" fill="#dedede"/>
<circle cx="545.24" cy="358.28" r="1.2" fill="#dedede"/>
<circle cx="545.24" cy="363.02" r="1.2" fill="#dedede"/>
<circle cx="545.24" cy="367.76" r="1.2" fill="#dedede"/>
<circle cx="545.24" cy="372.5" r="1.2" fill="#dedede"/>
<circle cx="549.21" cy="277.7" r="1.2" fill="#dedede"/>
<circle cx="549.21" cy="282.44" r="1.2" fill="#dedede"/>
<circle cx="549.21" cy="287.18" r="1.2" fill="#dedede"/>
<circle cx="549.21" cy="291.92" r="1.2" fill="#dedede"/>
<circle cx="549.21" cy="296.66" r="1.2" fill="#dedede"/>
<circle cx="549.21" cy="301.4" r="1.2" fill="#dedede"/>
<circle cx="549.21" cy="306.14" r="1.2" fill="#dedede"/>
<circle cx="549.21" cy="310.88" r="1.2" fill="#dedede"/>
<circle cx="549.21" cy="315.62" r="1.2" fill="#dedede"/>
<circle cx="549.21" cy="320.36" r="1.2" fill="#dedede"/>
<circle cx="549.21" cy="325.1" r="1.2" fill="#dedede"/>
<circle cx="549.21" cy="329.84" r="1.2" fill="#dedede"/>
<circle cx="549.21" cy="334.58" r="1.2" fill="#dedede"/>
<circle cx="549.21" cy="339.32" r="1.2" fill="#dedede"/>
<circle cx="549.21" cy="344.06" r="1.2" fill="#dedede"/>
<circle cx="549.21" cy="348.8" r="1.2" fill="#dedede"/>
<circle cx="549.21" cy="353.54" r="1.2" fill="#dedede"/>
<circle cx="549.21" cy="363.02" r="1.2" fill="#dedede"/>
<circle cx="549.21" cy="367.76" r="1.2" fill="#dedede"/>
<circle cx="549.21" cy="372.5" r="1.2" fill="#dedede"/>
<circle cx="553.18" cy="277.7" r="1.2" fill="#dedede"/>
<circle cx="553.18" cy="291.92" r="1.2" fill="#dedede"/>
<circle cx="553.18" cy="296.66" r="1.2" fill="#dedede"/>
<circle cx="553.18" cy="301.4" r="1.2" fill="#dedede"/>
<circle cx="553.18" cy="306.14" r="1.2" fill="#dedede"/>
<circle cx="553.18" cy="310.88" r="1.2" fill="#dedede"/>
<circle cx="553.18" cy="315.62" r="1.2" fill="#dedede"/>
<circle cx="553.18" cy="320.36" r="1.2" fill="#dedede"/>
<circle cx="553.18" cy="325.1" r="1.2" fill="#dedede"/>
<circle cx="553.18" cy="329.84" r="1.2" fill="#dedede"/>
<circle cx="553.18" cy="334.58" r="1.2" fill="#dedede"/>
<circle cx="553.18" cy="339.32" r="1.2" fill="#dedede"/>
<circle cx="553.18" cy="344.06" r="1.2" fill="#dedede"/>
<circle cx="553.18" cy="348.8" r="1.2" fill="#dedede"/>
<circle cx="553.18" cy="353.54" r="1.2" fill="#dedede"/>
<circle cx="553.18" cy="358.28" r="1.2" fill="#dedede"/>
<circle cx="553.18" cy="367.76" r="1.2" fill="#dedede"/>
<circle cx="553.18" cy="372.5" r="1.2" fill="#dedede"/>
<circle cx="557.15" cy="277.7" r="1.2" fill="#dedede"/>
<circle cx="557.15" cy="287.18" r="1.2" fill="#dedede"/>
<circle cx="557.15" cy="291.92" r="1.2" fill="#dedede"/>
<circle cx="557.15" cy="296.66" r="1.2" fill="#dedede"/>
<circle cx="557.15" cy="301.4" r="1.2" fill="#dedede"/>
<circle cx="557.15" cy="306.14" r="1.2" fill="#dedede"/>
<circle cx="557.15" cy="310.88" r="1.2" fill="#dedede"/>
<circle cx="557.15" cy="315.62" r="1.2" fill="#dedede"/>
<circle cx="557.15" cy="320.36" r="1.2" fill="#dedede"/>
<circle cx="557.15" cy="325.1" r="1.2" fill="#dedede"/>
<circle cx="557.15" cy="329.84" r="1.2" fill="#dedede"/>
<circle cx="557.15" cy="334.58" r="1.2" fill="#dedede"/>
<circle cx="557.15" cy="339.32" r="1.2" fill="#dedede"/>
<circle cx="557.15" cy="344.06" r="1.2" fill="#dedede"/>
<circle cx="557.15" cy="348.8" r="1.2" fill="#dedede"/>
<circle cx="557.15" cy="353.54" r="1.2" fill="#dedede"/>
<circle cx="557.15" cy="358.28" r="1.2" fill="#dedede"/>
<circle cx="557.15" cy="363.02" r="1.2" fill="#dedede"/>
<circle cx="557.15" cy="372.5" r="1.2" fill="#dedede"/>
<circle cx="561.12" cy="277.7" r="1.2" fill="#dedede"/>
<circle cx="561.12" cy="287.18" r="1.2" fill="#dedede"/>
<circle cx="561.12" cy="291.92" r="1.2" fill="#dedede"/>
<circle cx="561.12" cy="296.66" r="1.2" fill="#dedede"/>
<circle cx="561.12" cy="301.4" r="1.2" fill="#dedede"/>
<circle cx="561.12" cy="306.14" r="1.2" fill="#dedede"/>
<circle cx="561.12" cy="310.88" r="1.2" fill="#dedede"/>
<circle cx="561.12" cy="315.62" r="1.2" fill="#dedede"/>
<circle cx="561.12" cy="344.06" r="1.2" fill="#dedede"/>
<circle cx="561.12" cy="348.8" r="1.2" fill="#dedede"/>
<circle cx="561.12" cy="353.54" r="1.2" fill="#dedede"/>
<circle cx="561.12" cy="358.28" r="1.2" fill="#dedede"/>
<circle cx="561.12" cy="363.02" r="1.2" fill="#dedede"/>
<circle cx="561.12" cy="372.5" r="1.2" fill="#dedede"/>
<circle cx="565.09" cy="277.7" r="1.2" fill="#dedede"/>
<circle cx="565.09" cy="282.44" r="1.2" fill="#dedede"/>
<circle cx="565.09" cy="291.92" r="1.2" fill="#dedede"/>
<circle cx="565.09" cy="301.4" r="1.2" fill="#dedede"/>
<circle cx="565.09" cy="315.62" r="1.2" fill="#dedede"/>
<circle cx="565.09" cy="320.36" r="1.2" fill="#dedede"/>
<circle cx="565.09" cy="339.32" r="1.2" fill="#dedede"/>
<circle cx="565.09" cy="344.06" r="1.2" fill="#dedede"/>
<circle cx="565.09" cy="353.54" r="1.2" fill="#dedede"/>
<circle cx="565.09" cy="358.28" r="1.2" fill="#dedede"/>
<circle cx="565.09" cy="363.02" r="1.2" fill="#dedede"/>
<circle cx="565.09" cy="372.5" r="1.2" fill="#dedede"/>
<circle cx="569.06" cy="277.7" r="1.2" fill="#dedede"/>
<circle cx="569.06" cy="282.44" r="1.2" fill="#dedede"/>
<circle cx="569.06" cy="287.18" r="1.2" fill="#dedede"/>
<circle cx="569.06" cy="291.92" r="1.2" fill="#dedede"/>
<circle cx="569.06" cy="296.66" r="1.2" fill="#dedede"/>
<circle cx="569.06" cy="301.4" r="1.2" fill="#dedede"/>
<circle cx="569.06" cy="306.14" r="1.2" fill="#dedede"/>
<circle cx="569.06" cy="310.88" r="1.2" fill="#dedede"/>
<circle cx="569.06" cy="315.62" r="1.2" fill="#dedede"/>
<circle cx="569.06" cy="320.36" r="1.2" fill="#dedede"/>
<circle cx="569.06" cy="325.1" r="1.2" fill="#dedede"/>
<circle cx="569.06" cy="329.84" r="1.2" fill="#dedede"/>
<circle cx="569.06" cy="334.58" r="1.2" fill="#dedede"/>
<circle cx="569.06" cy="339.32" r="1.2" fill="#dedede"/>
<circle cx="569.06" cy="344.06" r="1.2" fill="#dedede"/>
<circle cx="569.06" cy="348.8" r="1.2" fill="#dedede"/>
<circle cx="569.06" cy="363.02" r="1.2" fill="#dedede"/>
<circle cx="569.06" cy="372.5" r="1.2" fill="#dedede"/>
<circle cx="573.03" cy="282.44" r="1.2" fill="#dedede"/>
<circle cx="573.03" cy="287.18" r="1.2" fill="#dedede"/>
<circle cx="573.03" cy="291.92" r="1.2" fill="#dedede"/>
<circle cx="573.03" cy="296.66" r="1.2" fill="#dedede"/>
<circle cx="573.03" cy="301.4" r="1.2" fill="#dedede"/>
<circle cx="573.03" cy="306.14" r="1.2" fill="#dedede"/>
<circle cx="573.03" cy="310.88" r="1.2" fill="#dedede"/>
<circle cx="573.03" cy="315.62" r="1.2" fill="#dedede"/>
<circle cx="573.03" cy="320.36" r="1.2" fill="#dedede"/>
<circle cx="573.03" cy="325.1" r="1.2" fill="#dedede"/>
<circle cx="573.03" cy="329.84" r="1.2" fill="#dedede"/>
<circle cx="573.03" cy="334.58" r="1.2" fill="#dedede"/>
<circle cx="573.03" cy="339.32" r="1.2" fill="#dedede"/>
<circle cx="573.03" cy="344.06" r="1.2" fill="#dedede"/>
<circle cx="573.03" cy="348.8" r="1.2" fill="#dedede"/>
<circle cx="573.03" cy="363.02" r="1.2" fill="#dedede"/>
<circle cx="573.03" cy="372.5" r="1.2" fill="#dedede"/>
<circle cx="577" cy="287.18" r="1.2" fill="#dedede"/>
<circle cx="577" cy="296.66" r="1.2" fill="#dedede"/>
<circle cx="577" cy="301.4" r="1.2" fill="#dedede"/>
<circle cx="577" cy="306.14" r="1.2" fill="#dedede"/>
<circle cx="577" cy="310.88" r="1.2" fill="#dedede"/>
<circle cx="577" cy="315.62" r="1.2" fill="#dedede"/>
<circle cx="577" cy="320.36" r="1.2" fill="#dedede"/>
<circle cx="577" cy="325.1" r="1.2" fill="#dedede"/>
<circle cx="577" cy="329.84" r="1.2" fill="#dedede"/>
<circle cx="577" cy="334.58" r="1.2" fill="#dedede"/>
<circle cx="577" cy="339.32" r="1.2" fill="#dedede"/>
<circle cx="577" cy="344.06" r="1.2" fill="#dedede"/>
<circle cx="577" cy="348.8" r="1.2" fill="#dedede"/>
<circle cx="577" cy="363.02" r="1.2" fill="#dedede"/>
<circle cx="577" cy="372.5" r="1.2" fill="#dedede"/>
<circle cx="580.97" cy="282.44" r="1.2" fill="#dedede"/>
<circle cx="580.97" cy="291.92" r="1.2" fill="#dedede"/>
<circle cx="580.97" cy="296.66" r="1.2" fill="#dedede"/>
<circle cx="580.97" cy="301.4" r="1.2" fill="#dedede"/>
<circle cx="580.97" cy="306.14" r="1.2" fill="#dedede"/>
<circle cx="580.97" cy="310.88" r="1.2" fill="#dedede"/>
<circle cx="580.97" cy="315.62" r="1.2" fill="#dedede"/>
<circle cx="580.97" cy="320.36" r="1.2" fill="#dedede"/>
<circle cx="580.97" cy="325.1" r="1.2" fill="#dedede"/>
<circle cx="580.97" cy="329.84" r="1.2" fill="#dedede"/>
<circle cx="580.97" cy="334.58" r="1.2" fill="#dedede"/>
<circle cx="580.97" cy="339.32" r="1.2" fill="#dedede"/>
<circle cx="580.97" cy="344.06" r="1.2" fill="#dedede"/>
<circle cx="580.97" cy="348.8" r="1.2" fill="#dedede"/>
<circle cx="580.97" cy="353.54" r="1.2" fill="#dedede"/>
<circle cx="580.97" cy="358.28" r="1.2" fill="#dedede"/>
<circle cx="580.97" cy="372.5" r="1.2" fill="#dedede"/>
<circle cx="584.94" cy="282.44" r="1.2" fill="#dedede"/>
<circle cx="584.94" cy="287.18" r="1.2" fill="#dedede"/>
<circle cx="584.94" cy="291.92" r="1.2" fill="#dedede"/>
<circle cx="584.94" cy="296.66" r="1.2" fill="#dedede"/>
<circle cx="584.94" cy="310.88" r="1.2" fill="#dedede"/>
<circle cx="584.94" cy="315.62" r="1.2" fill="#dedede"/>
<circle cx="584.94" cy="320.36" r="1.2" fill="#dedede"/>
<circle cx="584.94" cy="325.1" r="1.2" fill="#dedede"/>
<circle cx="584.94" cy="329.84" r="1.2" fill="#dedede"/>
<circle cx="584.94" cy="334.58" r="1.2" fill="#dedede"/>
<circle cx="584.94" cy="339.32" r="1.2" fill="#dedede"/>
<circle cx="584.94" cy="344.06" r="1.2" fill="#dedede"/>
<circle cx="584.94" cy="348.8" r="1.2" fill="#dedede"/>
<circle cx="584.94" cy="353.54" r="1.2" fill="#dedede"/>
<circle cx="584.94" cy="358.28" r="1.2" fill="#dedede"/>
<circle cx="584.94" cy="372.5" r="1.2" fill="#dedede"/>
<circle cx="588.91" cy="277.7" r="1.2" fill="#dedede"/>
<circle cx="588.91" cy="282.44" r="1.2" fill="#dedede"/>
<circle cx="588.91" cy="287.18" r="1.2" fill="#dedede"/>
<circle cx="588.91" cy="291.92" r="1.2" fill="#dedede"/>
<circle cx="588.91" cy="296.66" r="1.2" fill="#dedede"/>
<circle cx="588.91" cy="301.4" r="1.2" fill="#dedede"/>
<circle cx="588.91" cy="306.14" r="1.2" fill="#dedede"/>
<circle cx="588.91" cy="315.62" r="1.2" fill="#dedede"/>
<circle cx="588.91" cy="329.84" r="1.2" fill="#dedede"/>
<circle cx="588.91" cy="334.58" r="1.2" fill="#dedede"/>
<circle cx="588.91" cy="344.06" r="1.2" fill="#dedede"/>
<circle cx="588.91" cy="348.8" r="1.2" fill="#dedede"/>
<circle cx="588.91" cy="353.54" r="1.2" fill="#dedede"/>
<circle cx="588.91" cy="358.28" r="1.2" fill="#dedede"/>
<circle cx="588.91" cy="372.5" r="1.2" fill="#dedede"/>
<circle cx="592.88" cy="277.7" r="1.2" fill="#dedede"/>
<circle cx="592.88" cy="282.44" r="1.2" fill="#dedede"/>
<circle cx="592.88" cy="287.18" r="1.2" fill="#dedede"/>
<circle cx="592.88" cy="291.92" r="1.2" fill="#dedede"/>
<circle cx="592.88" cy="296.66" r="1.2" fill="#dedede"/>
<circle cx="592.88" cy="301.4" r="1.2" fill="#dedede"/>
<circle cx="592.88" cy="306.14" r="1.2" fill="#dedede"/>
<circle cx="592.88" cy="310.88" r="1.2" fill="#dedede"/>
<circle cx="592.88" cy="315.62" r="1.2" fill="#dedede"/>
<circle cx="592.88" cy="320.36" r="1.2" fill="#dedede"/>
<circle cx="592.88" cy="325.1" r="1.2" fill="#dedede"/>
<circle cx="592.88" cy="329.84" r="1.2" fill="#dedede"/>
<circle cx="592.88" cy="334.58" r="1.2" fill="#dedede"/>
<circle cx="592.88" cy="339.32" r="1.2" fill="#dedede"/>
<circle cx="592.88" cy="344.06" r="1.2" fill="#dedede"/>
<circle cx="592.88" cy="348.8" r="1.2" fill="#dedede"/>
<circle cx="592.88" cy="358.28" r="1.2" fill="#dedede"/>
<circle cx="592.88" cy="372.5" r="1.2" fill="#dedede"/>
<circle cx="596.85" cy="277.7" r="1.2" fill="#dedede"/>
<circle cx="596.85" cy="287.18" r="1.2" fill="#dedede"/>
<circle cx="596.85" cy="291.92" r="1.2" fill="#dedede"/>
<circle cx="596.85" cy="296.66" r="1.2" fill="#dedede"/>
<circle cx="596.85" cy="301.4" r="1.2" fill="#dedede"/>
<circle cx="596.85" cy="306.14" r="1.2" fill="#dedede"/>
<circle cx="596.85" cy="310.88" r="1.2" fill="#dedede"/>
<circle cx="596.85" cy="315.62" r="1.2" fill="#dedede"/>
<circle cx="596.85" cy="329.84" r="1.2" fill="#dedede"/>
<circle cx="596.85" cy="344.06" r="1.2" fill="#dedede"/>
<circle cx="596.85" cy="348.8" r="1.2" fill="#dedede"/>
<circle cx="596.85" cy="358.28" r="1.2" fill="#dedede"/>
<circle cx="596.85" cy="372.5" r="1.2" fill="#dedede"/>
<circle cx="600.82" cy="287.18" r="1.2" fill="#dedede"/>
<circle cx="600.82" cy="291.92" r="1.2" fill="#dedede"/>
<circle cx="600.82" cy="296.66" r="1.2" fill="#dedede"/>
<circle cx="600.82" cy="301.4" r="1.2" fill="#dedede"/>
<circle cx="600.82" cy="306.14" r="1.2" fill="#dedede"/>
<circle cx="600.82" cy="310.88" r="1.2" fill="#dedede"/>
<circle cx="600.82" cy="315.62" r="1.2" fill="#dedede"/>
<circle cx="600.82" cy="320.36" r="1.2" fill="#dedede"/>
<circle cx="600.82" cy="325.1" r="1.2" fill="#dedede"/>
<circle cx="600.82" cy="329.84" r="1.2" fill="#dedede"/>
<circle cx="600.82" cy="334.58" r="1.2" fill="#dedede"/>
<circle cx="600.82" cy="339.32" r="1.2" fill="#dedede"/>
<circle cx="600.82" cy="344.06" r="1.2" fill="#dedede"/>
<circle cx="600.82" cy="348.8" r="1.2" fill="#dedede"/>
<circle cx="600.82" cy="353.54" r="1.2" fill="#dedede"/>
<circle cx="600.82" cy="372.5" r="1.2" fill="#dedede"/>
<circle cx="604.79" cy="296.66" r="1.2" fill="#dedede"/>
<circle cx="604.79" cy="301.4" r="1.2" fill="#dedede"/>
<circle cx="604.79" cy="306.14" r="1.2" fill="#dedede"/>
<circle cx="604.79" cy="310.88" r="1.2" fill="#dedede"/>
<circle cx="604.79" cy="315.62" r="1.2" fill="#dedede"/>
<circle cx="604.79" cy="320.36" r="1.2" fill="#dedede"/>
<circle cx="604.79" cy="325.1" r="1.2" fill="#dedede"/>
<circle cx="604.79" cy="353.54" r="1.2" fill="#dedede"/>
<circle cx="604.79" cy="372.5" r="1.2" fill="#dedede"/>
<circle cx="608.76" cy="277.7" r="1.2" fill="#dedede"/>
<circle cx="608.76" cy="296.66" r="1.2" fill="#dedede"/>
<circle cx="608.76" cy="301.4" r="1.2" fill="#dedede"/>
<circle cx="608.76" cy="306.14" r="1.2" fill="#dedede"/>
<circle cx="608.76" cy="310.88" r="1.2" fill="#dedede"/>
<circle cx="608.76" cy="315.62" r="1.2" fill="#dedede"/>
<circle cx="608.76" cy="320.36" r="1.2" fill="#dedede"/>
<circle cx="608.76" cy="325.1" r="1.2" fill="#dedede"/>
<circle cx="608.76" cy="329.84" r="1.2" fill="#dedede"/>
<circle cx="608.76" cy="334.58" r="1.2" fill="#dedede"/>
<circle cx="608.76" cy="339.32" r="1.2" fill="#dedede"/>
<circle cx="608.76" cy="344.06" r="1.2" fill="#dedede"/>
<circle cx="608.76" cy="372.5" r="1.2" fill="#dedede"/>
<circle cx="612.73" cy="277.7" r="1.2" fill="#dedede"/>
<circle cx="612.73" cy="282.44" r="1.2" fill="#dedede"/>
<circle cx="612.73" cy="287.18" r="1.2" fill="#dedede"/>
<circle cx="612.73" cy="296.66" r="1.2" fill="#dedede"/>
<circle cx="612.73" cy="301.4" r="1.2" fill="#dedede"/>
<circle cx="612.73" cy="306.14" r="1.2" fill="#dedede"/>
<circle cx="612.73" cy="310.88" r="1.2" fill="#dedede"/>
<circle cx="612.73" cy="315.62" r="1.2" fill="#dedede"/>
<circle cx="612.73" cy="320.36" r="1.2" fill="#dedede"/>
<circle cx="612.73" cy="325.1" r="1.2" fill="#dedede"/>
<circle cx="612.73" cy="329.84" r="1.2" fill="#dedede"/>
<circle cx="612.73" cy="334.58" r="1.2" fill="#dedede"/>
<circle cx="612.73" cy="339.32" r="1.2" fill="#dedede"/>
<circle cx="612.73" cy="344.06" r="1.2" fill="#dedede"/>
<circle cx="612.73" cy="348.8" r="1.2" fill="#dedede"/>
<circle cx="612.73" cy="353.54" r="1.2" fill="#dedede"/>
<circle cx="612.73" cy="363.02" r="1.2" fill="#dedede"/>
<circle cx="612.73" cy="367.76" r="1.2" fill="#dedede"/>
<circle cx="616.7" cy="277.7" r="1.2" fill="#dedede"/>
<circle cx="616.7" cy="282.44" r="1.2" fill="#dedede"/>
<circle cx="616.7" cy="287.18" r="1.2" fill="#dedede"/>
<circle cx="616.7" cy="291.92" r="1.2" fill="#dedede"/>
<circle cx="616.7" cy="296.66" r="1.2" fill="#dedede"/>
<circle cx="616.7" cy="301.4" r="1.2" fill="#dedede"/>
<circle cx="616.7" cy="306.14" r="1.2" fill="#dedede"/>
<circle cx="616.7" cy="310.88" r="1.2" fill="#dedede"/>
<circle cx="616.7" cy="315.62" r="1.2" fill="#dedede"/>
<circle cx="616.7" cy="320.36" r="1.2" fill="#dedede"/>
<circle cx="616.7" cy="325.1" r="1.2" fill="#dedede"/>
<circle cx="616.7" cy="329.84" r="1.2" fill="#dedede"/>
<circle cx="616.7" cy="334.58" r="1.2" fill="#dedede"/>
<circle cx="616.7" cy="339.32" r="1.2" fill="#dedede"/>
<circle cx="616.7" cy="344.06" r="1.2" fill="#dedede"/>
<circle cx="616.7" cy="348.8" r="1.2" fill="#dedede"/>
<circle cx="616.7" cy="363.02" r="1.2" fill="#dedede"/>
<circle cx="616.7" cy="367.76" r="1.2" fill="#dedede"/>
<circle cx="620.67" cy="277.7" r="1.2" fill="#dedede"/>
<circle cx="620.67" cy="282.44" r="1.2" fill="#dedede"/>
<circle cx="620.67" cy="287.18" r="1.2" fill="#dedede"/>
<circle cx="620.67" cy="291.92" r="1.2" fill="#dedede"/>
<circle cx="620.67" cy="296.66" r="1.2" fill="#dedede"/>
<circle cx="620.67" cy="301.4" r="1.2" fill="#dedede"/>
<circle cx="620.67" cy="306.14" r="1.2" fill="#dedede"/>
<circle cx="620.67" cy="310.88" r="1.2" fill="#dedede"/>
<circle cx="620.67" cy="315.62" r="1.2" fill="#dedede"/>
<circle cx="620.67" cy="320.36" r="1.2" fill="#dedede"/>
<circle cx="620.67" cy="325.1" r="1.2" fill="#dedede"/>
<circle cx="620.67" cy="329.84" r="1.2" fill="#dedede"/>
<circle cx="620.67" cy="334.58" r="1.2" fill="#dedede"/>
<circle cx="620.67" cy="339.32" r="1.2" fill="#dedede"/>
<circle cx="620.67" cy="344.06" r="1.2" fill="#dedede"/>
<circle cx="620.67" cy="348.8" r="1.2" fill="#dedede"/>
<circle cx="620.67" cy="353.54" r="1.2" fill="#dedede"/>
<circle cx="620.67" cy="358.28" r="1.2" fill="#dedede"/>
<circle cx="620.67" cy="363.02" r="1.2" fill="#dedede"/>
<circle cx="624.64" cy="287.18" r="1.2" fill="#dedede"/>
<circle cx="624.64" cy="291.92" r="1.2" fill="#dedede"/>
<circle cx="624.64" cy="301.4" r="1.2" fill="#dedede"/>
<circle cx="624.64" cy="306.14" r="1.2" fill="#dedede"/>
<circle cx="624.64" cy="310.88" r="1.2" fill="#dedede"/>
<circle cx="624.64" cy="315.62" r="1.2" fill="#dedede"/>
<circle cx="624.64" cy="344.06" r="1.2" fill="#dedede"/>
<circle cx="624.64" cy="348.8" r="1.2" fill="#dedede"/>
<circle cx="624.64" cy="353.54" r="1.2" fill="#dedede"/>
<circle cx="624.64" cy="358.28" r="1.2" fill="#dedede"/>
<circle cx="624.64" cy="363.02" r="1.2" fill="#dedede"/>
<circle cx="628.61" cy="277.7" r="1.2" fill="#dedede"/>
<circle cx="628.61" cy="287.18" r="1.2" fill="#dedede"/>
<circle cx="628.61" cy="291.92" r="1.2" fill="#dedede"/>
<circle cx="628.61" cy="296.66" r="1.2" fill="#dedede"/>
<circle cx="628.61" cy="301.4" r="1.2" fill="#dedede"/>
<circle cx="628.61" cy="306.14" r="1.2" fill="#dedede"/>
<circle cx="628.61" cy="344.06" r="1.2" fill="#dedede"/>
<circle cx="628.61" cy="348.8" r="1.2" fill="#dedede"/>
<circle cx="628.61" cy="353.54" r="1.2" fill="#dedede"/>
<circle cx="628.61" cy="358.28" r="1.2" fill="#dedede"/>
<circle cx="628.61" cy="363.02" r="1.2" fill="#dedede"/>
<circle cx="632.58" cy="277.7" r="1.2" fill="#dedede"/>
<circle cx="632.58" cy="282.44" r="1.2" fill="#dedede"/>
<circle cx="632.58" cy="287.18" r="1.2" fill="#dedede"/>
<circle cx="632.58" cy="291.92" r="1.2" fill="#dedede"/>
<circle cx="632.58" cy="296.66" r="1.2" fill="#dedede"/>
<circle cx="632.58" cy="301.4" r="1.2" fill="#dedede"/>
<circle cx="632.58" cy="306.14" r="1.2" fill="#dedede"/>
<circle cx="632.58" cy="310.88" r="1.2" fill="#dedede"/>
<circle cx="632.58" cy="315.62" r="1.2" fill="#dedede"/>
<circle cx="632.58" cy="320.36" r="1.2" fill="#dedede"/>
<circle cx="632.58" cy="325.1" r="1.2" fill="#dedede"/>
<circle cx="632.58" cy="329.84" r="1.2" fill="#dedede"/>
<circle cx="632.58" cy="334.58" r="1.2" fill="#dedede"/>
<circle cx="632.58" cy="339.32" r="1.2" fill="#dedede"/>
<circle cx="632.58" cy="344.06" r="1.2" fill="#dedede"/>
<circle cx="632.58" cy="348.8" r="1.2" fill="#dedede"/>
<circle cx="632.58" cy="358.28" r="1.2" fill="#dedede"/>
<circle cx="632.58" cy="363.02" r="1.2" fill="#dedede"/>
<circle cx="636.55" cy="291.92" r="1.2" fill="#dedede"/>
<circle cx="636.55" cy="358.28" r="1.2" fill="#dedede"/>
<circle cx="636.55" cy="363.02" r="1.2" fill="#dedede"/>
<circle cx="640.52" cy="277.7" r="1.2" fill="#dedede"/>
<circle cx="640.52" cy="282.44" r="1.2" fill="#dedede"/>
<circle cx="640.52" cy="287.18" r="1.2" fill="#dedede"/>
<circle cx="640.52" cy="291.92" r="1.2" fill="#dedede"/>
<circle cx="640.52" cy="296.66" r="1.2" fill="#dedede"/>
<circle cx="640.52" cy="301.4" r="1.2" fill="#dedede"/>
<circle cx="640.52" cy="306.14" r="1.2" fill="#dedede"/>
<circle cx="640.52" cy="310.88" r="1.2" fill="#dedede"/>
<circle cx="640.52" cy="315.62" r="1.2" fill="#dedede"/>
<circle cx="640.52" cy="320.36" r="1.2" fill="#dedede"/>
<circle cx="640.52" cy="325.1" r="1.2" fill="#dedede"/>
<circle cx="640.52" cy="329.84" r="1.2" fill="#dedede"/>
<circle cx="640.52" cy="334.58" r="1.2" fill="#dedede"/>
<circle cx="640.52" cy="339.32" r="1.2" fill="#dedede"/>
<circle cx="640.52" cy="344.06" r="1.2" fill="#dedede"/>
<circle cx="640.52" cy="348.8" r="1.2" fill="#dedede"/>
<circle cx="640.52" cy="353.54" r="1.2" fill="#dedede"/>
<circle cx="640.52" cy="363.02" r="1.2" fill="#dedede"/>
<circle cx="644.49" cy="277.7" r="1.2" fill="#dedede"/>
<circle cx="644.49" cy="282.44" r="1.2" fill="#dedede"/>
<circle cx="644.49" cy="287.18" r="1.2" fill="#dedede"/>
<circle cx="644.49" cy="291.92" r="1.2" fill="#dedede"/>
<circle cx="644.49" cy="296.66" r="1.2" fill="#dedede"/>
<circle cx="644.49" cy="301.4" r="1.2" fill="#dedede"/>
<circle cx="644.49" cy="306.14" r="1.2" fill="#dedede"/>
<circle cx="644.49" cy="310.88" r="1.2" fill="#dedede"/>
<circle cx="644.49" cy="315.62" r="1.2" fill="#dedede"/>
<circle cx="644.49" cy="320.36" r="1.2" fill="#dedede"/>
<circle cx="644.49" cy="325.1" r="1.2" fill="#dedede"/>
<circle cx="644.49" cy="329.84" r="1.2" fill="#dedede"/>
<circle cx="644.49" cy="334.58" r="1.2" fill="#dedede"/>
<circle cx="644.49" cy="339.32" r="1.2" fill="#dedede"/>
<circle cx="644.49" cy="344.06" r="1.2" fill="#dedede"/>
<circle cx="644.49" cy="348.8" r="1.2" fill="#dedede"/>
<circle cx="644.49" cy="363.02" r="1.2" fill="#dedede"/>
<circle cx="648.46" cy="282.44" r="1.2" fill="#dedede"/>
<circle cx="648.46" cy="287.18" r="1.2" fill="#dedede"/>
<circle cx="648.46" cy="291.92" r="1.2" fill="#dedede"/>
<circle cx="648.46" cy="296.66" r="1.2" fill="#dedede"/>
<circle cx="648.46" cy="301.4" r="1.2" fill="#dedede"/>
<circle cx="648.46" cy="306.14" r="1.2" fill="#dedede"/>
<circle cx="648.46" cy="310.88" r="1.2" fill="#dedede"/>
<circle cx="648.46" cy="315.62" r="1.2" fill="#dedede"/>
<circle cx="648.46" cy="320.36" r="1.2" fill="#dedede"/>
<circle cx="648.46" cy="325.1" r="1.2" fill="#dedede"/>
<circle cx="648.46" cy="329.84" r="1.2" fill="#dedede"/>
<circle cx="648.46" cy="334.58" r="1.2" fill="#dedede"/>
<circle cx="648.46" cy="339.32" r="1.2" fill="#dedede"/>
<circle cx="648.46" cy="344.06" r="1.2" fill="#dedede"/>
<circle cx="648.46" cy="348.8" r="1.2" fill="#dedede"/>
<circle cx="648.46" cy="363.02" r="1.2" fill="#dedede"/>
<circle cx="652.43" cy="277.7" r="1.2" fill="#dedede"/>
<circle cx="652.43" cy="282.44" r="1.2" fill="#dedede"/>
<circle cx="652.43" cy="287.18" r="1.2" fill="#dedede"/>
<circle cx="652.43" cy="291.92" r="1.2" fill="#dedede"/>
<circle cx="652.43" cy="296.66" r="1.2" fill="#dedede"/>
<circle cx="652.43" cy="301.4" r="1.2" fill="#dedede"/>
<circle cx="652.43" cy="306.14" r="1.2" fill="#dedede"/>
<circle cx="652.43" cy="310.88" r="1.2" fill="#dedede"/>
<circle cx="652.43" cy="315.62" r="1.2" fill="#dedede"/>
<circle cx="652.43" cy="320.36" r="1.2" fill="#dedede"/>
<circle cx="652.43" cy="325.1" r="1.2" fill="#dedede"/>
<circle cx="652.43" cy="329.84" r="1.2" fill="#dedede"/>
<circle cx="652.43" cy="334.58" r="1.2" fill="#dedede"/>
<circle cx="652.43" cy="339.32" r="1.2" fill="#dedede"/>
<circle cx="652.43" cy="344.06" r="1.2" fill="#dedede"/>
<circle cx="652.43" cy="348.8" r="1.2" fill="#dedede"/>
<circle cx="652.43" cy="353.54" r="1.2" fill="#dedede"/>
<circle cx="652.43" cy="358.28" r="1.2" fill="#dedede"/>
<circle cx="656.4" cy="282.44" r="1.2" fill="#dedede"/>
<circle cx="656.4" cy="287.18" r="1.2" fill="#dedede"/>
<circle cx="656.4" cy="291.92" r="1.2" fill="#dedede"/>
<circle cx="656.4" cy="296.66" r="1.2" fill="#dedede"/>
<circle cx="656.4" cy="310.88" r="1.2" fill="#dedede"/>
<circle cx="656.4" cy="315.62" r="1.2" fill="#dedede"/>
<circle cx="656.4" cy="320.36" r="1.2" fill="#dedede"/>
<circle cx="656.4" cy="325.1" r="1.2" fill="#dedede"/>
<circle cx="656.4" cy="329.84" r="1.2" fill="#dedede"/>
<circle cx="656.4" cy="334.58" r="1.2" fill="#dedede"/>
<circle cx="656.4" cy="344.06" r="1.2" fill="#dedede"/>
<circle cx="656.4" cy="348.8" r="1.2" fill="#dedede"/>
<circle cx="656.4" cy="353.54" r="1.2" fill="#dedede"/>
<circle cx="656.4" cy="358.28" r="1.2" fill="#dedede"/>
<circle cx="660.37" cy="277.7" r="1.2" fill="#dedede"/>
<circle cx="660.37" cy="287.18" r="1.2" fill="#dedede"/>
<circle cx="660.37" cy="291.92" r="1.2" fill="#dedede"/>
<circle cx="660.37" cy="296.66" r="1.2" fill="#dedede"/>
<circle cx="660.37" cy="315.62" r="1.2" fill="#dedede"/>
<circle cx="660.37" cy="344.06" r="1.2" fill="#dedede"/>
<circle cx="660.37" cy="348.8" r="1.2" fill="#dedede"/>
<circle cx="660.37" cy="353.54" r="1.2" fill="#dedede"/>
<circle cx="660.37" cy="358.28" r="1.2" fill="#dedede"/>
<circle cx="664.34" cy="282.44" r="1.2" fill="#dedede"/>
<circle cx="664.34" cy="291.92" r="1.2" fill="#dedede"/>
<circle cx="664.34" cy="296.66" r="1.2" fill="#dedede"/>
<circle cx="664.34" cy="301.4" r="1.2" fill="#dedede"/>
<circle cx="664.34" cy="306.14" r="1.2" fill="#dedede"/>
<circle cx="664.34" cy="310.88" r="1.2" fill="#dedede"/>
<circle cx="664.34" cy="315.62" r="1.2" fill="#dedede"/>
<circle cx="664.34" cy="325.1" r="1.2" fill="#dedede"/>
<circle cx="664.34" cy="339.32" r="1.2" fill="#dedede"/>
<circle cx="664.34" cy="344.06" r="1.2" fill="#dedede"/>
<circle cx="664.34" cy="348.8" r="1.2" fill="#dedede"/>
<circle cx="668.31" cy="282.44" r="1.2" fill="#dedede"/>
<circle cx="668.31" cy="287.18" r="1.2" fill="#dedede"/>
<circle cx="668.31" cy="291.92" r="1.2" fill="#dedede"/>
<circle cx="668.31" cy="296.66" r="1.2" fill="#dedede"/>
<circle cx="668.31" cy="301.4" r="1.2" fill="#dedede"/>
<circle cx="668.31" cy="306.14" r="1.2" fill="#dedede"/>
<circle cx="668.31" cy="310.88" r="1.2" fill="#dedede"/>
<circle cx="668.31" cy="315.62" r="1.2" fill="#dedede"/>
<circle cx="668.31" cy="334.58" r="1.2" fill="#dedede"/>
<circle cx="668.31" cy="339.32" r="1.2" fill="#dedede"/>
<circle cx="668.31" cy="348.8" r="1.2" fill="#dedede"/>
<circle cx="672.28" cy="291.92" r="1.2" fill="#dedede"/>
<circle cx="672.28" cy="296.66" r="1.2" fill="#dedede"/>
<circle cx="672.28" cy="301.4" r="1.2" fill="#dedede"/>
<circle cx="672.28" cy="306.14" r="1.2" fill="#dedede"/>
<circle cx="672.28" cy="310.88" r="1.2" fill="#dedede"/>
<circle cx="672.28" cy="315.62" r="1.2" fill="#dedede"/>
<circle cx="672.28" cy="325.1" r="1.2" fill="#dedede"/>
<circle cx="672.28" cy="334.58" r="1.2" fill="#dedede"/>
<circle cx="672.28" cy="348.8" r="1.2" fill="#dedede"/>
<circle cx="676.25" cy="296.66" r="1.2" fill="#dedede"/>
<circle cx="676.25" cy="301.4" r="1.2" fill="#dedede"/>
<circle cx="676.25" cy="320.36" r="1.2" fill="#dedede"/>
<circle cx="676.25" cy="325.1" r="1.2" fill="#dedede"/>
<circle cx="676.25" cy="329.84" r="1.2" fill="#dedede"/>
<circle cx="676.25" cy="348.8" r="1.2" fill="#dedede"/>
<circle cx="680.22" cy="301.4" r="1.2" fill="#dedede"/>
<circle cx="680.22" cy="306.14" r="1.2" fill="#dedede"/>
<circle cx="680.22" cy="315.62" r="1.2" fill="#dedede"/>
<circle cx="680.22" cy="348.8" r="1.2" fill="#dedede"/>
<line x1="398.35" y1="277.7" x2="398.35" y2="367.76" stroke="#555555" stroke-width="0.95"/>
<circle cx="398.35" cy="277.7" r="1.28" fill="#353535"/>
<circle cx="398.35" cy="363.02" r="1.28" fill="#353535"/>
<circle cx="398.35" cy="367.76" r="1.28" fill="#353535"/>
<line x1="402.32" y1="277.7" x2="402.32" y2="372.5" stroke="#555555" stroke-width="0.95"/>
<circle cx="402.32" cy="277.7" r="1.28" fill="#353535"/>
<circle cx="402.32" cy="353.54" r="1.28" fill="#353535"/>
<circle cx="402.32" cy="358.28" r="1.28" fill="#353535"/>
<circle cx="402.32" cy="363.02" r="1.28" fill="#353535"/>
<circle cx="402.32" cy="367.76" r="1.28" fill="#353535"/>
<circle cx="402.32" cy="372.5" r="1.28" fill="#353535"/>
<circle cx="406.29" cy="367.76" r="1.28" fill="#353535"/>
<line x1="410.26" y1="363.02" x2="410.26" y2="367.76" stroke="#555555" stroke-width="0.95"/>
<circle cx="410.26" cy="363.02" r="1.28" fill="#353535"/>
<circle cx="410.26" cy="367.76" r="1.28" fill="#353535"/>
<circle cx="414.23" cy="277.7" r="1.28" fill="#353535"/>
<circle cx="418.2" cy="277.7" r="1.28" fill="#353535"/>
<circle cx="418.2" cy="353.54" r="1.28" fill="#353535"/>
<circle cx="418.2" cy="363.02" r="1.28" fill="#353535"/>
<circle cx="418.2" cy="367.76" r="1.28" fill="#353535"/>
<circle cx="418.2" cy="372.5" r="1.28" fill="#353535"/>
<circle cx="422.17" cy="363.02" r="1.28" fill="#353535"/>
<line x1="426.14" y1="353.54" x2="426.14" y2="372.5" stroke="#555555" stroke-width="0.95"/>
<circle cx="426.14" cy="353.54" r="1.28" fill="#353535"/>
<circle cx="426.14" cy="358.28" r="1.28" fill="#353535"/>
<circle cx="426.14" cy="363.02" r="1.28" fill="#353535"/>
<circle cx="426.14" cy="367.76" r="1.28" fill="#353535"/>
<circle cx="426.14" cy="372.5" r="1.28" fill="#353535"/>
<circle cx="430.11" cy="334.58" r="1.28" fill="#353535"/>
<circle cx="434.08" cy="287.18" r="1.28" fill="#353535"/>
<line x1="438.05" y1="282.44" x2="438.05" y2="287.18" stroke="#555555" stroke-width="0.95"/>
<circle cx="438.05" cy="282.44" r="1.28" fill="#353535"/>
<circle cx="438.05" cy="287.18" r="1.28" fill="#353535"/>
<line x1="442.02" y1="282.44" x2="442.02" y2="291.92" stroke="#555555" stroke-width="0.95"/>
<circle cx="442.02" cy="282.44" r="1.28" fill="#353535"/>
<circle cx="442.02" cy="287.18" r="1.28" fill="#353535"/>
<circle cx="442.02" cy="291.92" r="1.28" fill="#353535"/>
<line x1="445.99" y1="282.44" x2="445.99" y2="291.92" stroke="#555555" stroke-width="0.95"/>
<circle cx="445.99" cy="282.44" r="1.28" fill="#353535"/>
<circle cx="445.99" cy="287.18" r="1.28" fill="#353535"/>
<circle cx="445.99" cy="291.92" r="1.28" fill="#353535"/>
<circle cx="445.99" cy="315.62" r="1.28" fill="#353535"/>
<circle cx="449.96" cy="353.54" r="1.28" fill="#353535"/>
<circle cx="453.93" cy="277.7" r="1.28" fill="#353535"/>
<circle cx="453.93" cy="367.76" r="1.28" fill="#353535"/>
<circle cx="457.9" cy="353.54" r="1.28" fill="#353535"/>
<circle cx="457.9" cy="367.76" r="1.28" fill="#353535"/>
<line x1="461.87" y1="277.7" x2="461.87" y2="367.76" stroke="#b8b8b8" stroke-width="0.95"/>
<circle cx="461.87" cy="277.7" r="1.28" fill="#353535"/>
<circle cx="461.87" cy="358.28" r="1.28" fill="#353535"/>
<circle cx="461.87" cy="363.02" r="1.28" fill="#353535"/>
<circle cx="461.87" cy="367.76" r="1.28" fill="#353535"/>
<circle cx="465.84" cy="372.5" r="1.28" fill="#353535"/>
<line x1="469.81" y1="353.54" x2="469.81" y2="372.5" stroke="#555555" stroke-width="0.95"/>
<circle cx="469.81" cy="353.54" r="1.28" fill="#353535"/>
<circle cx="469.81" cy="363.02" r="1.28" fill="#353535"/>
<circle cx="469.81" cy="367.76" r="1.28" fill="#353535"/>
<circle cx="469.81" cy="372.5" r="1.28" fill="#353535"/>
<line x1="473.78" y1="277.7" x2="473.78" y2="372.5" stroke="#555555" stroke-width="0.95"/>
<circle cx="473.78" cy="277.7" r="1.28" fill="#353535"/>
<circle cx="473.78" cy="282.44" r="1.28" fill="#353535"/>
<circle cx="473.78" cy="287.18" r="1.28" fill="#353535"/>
<circle cx="473.78" cy="291.92" r="1.28" fill="#353535"/>
<circle cx="473.78" cy="296.66" r="1.28" fill="#353535"/>
<circle cx="473.78" cy="301.4" r="1.28" fill="#353535"/>
<circle cx="473.78" cy="306.14" r="1.28" fill="#353535"/>
<circle cx="473.78" cy="310.88" r="1.28" fill="#353535"/>
<circle cx="473.78" cy="315.62" r="1.28" fill="#353535"/>
<circle cx="473.78" cy="320.36" r="1.28" fill="#353535"/>
<circle cx="473.78" cy="325.1" r="1.28" fill="#353535"/>
<circle cx="473.78" cy="329.84" r="1.28" fill="#353535"/>
<circle cx="473.78" cy="334.58" r="1.28" fill="#353535"/>
<circle cx="473.78" cy="339.32" r="1.28" fill="#353535"/>
<circle cx="473.78" cy="344.06" r="1.28" fill="#353535"/>
<circle cx="473.78" cy="348.8" r="1.28" fill="#353535"/>
<circle cx="473.78" cy="353.54" r="1.28" fill="#353535"/>
<circle cx="473.78" cy="358.28" r="1.28" fill="#353535"/>
<circle cx="473.78" cy="363.02" r="1.28" fill="#353535"/>
<circle cx="473.78" cy="367.76" r="1.28" fill="#353535"/>
<circle cx="473.78" cy="372.5" r="1.28" fill="#353535"/>
<line x1="477.75" y1="287.18" x2="477.75" y2="291.92" stroke="#555555" stroke-width="0.95"/>
<circle cx="477.75" cy="287.18" r="1.28" fill="#353535"/>
<circle cx="477.75" cy="291.92" r="1.28" fill="#353535"/>
<circle cx="481.72" cy="296.66" r="1.28" fill="#353535"/>
<line x1="485.69" y1="282.44" x2="485.69" y2="296.66" stroke="#555555" stroke-width="0.95"/>
<circle cx="485.69" cy="282.44" r="1.28" fill="#353535"/>
<circle cx="485.69" cy="287.18" r="1.28" fill="#353535"/>
<circle cx="485.69" cy="291.92" r="1.28" fill="#353535"/>
<circle cx="485.69" cy="296.66" r="1.28" fill="#353535"/>
<circle cx="489.66" cy="301.4" r="1.28" fill="#353535"/>
<circle cx="493.63" cy="277.7" r="1.28" fill="#353535"/>
<circle cx="493.63" cy="301.4" r="1.28" fill="#353535"/>
<line x1="497.6" y1="296.66" x2="497.6" y2="306.14" stroke="#555555" stroke-width="0.95"/>
<circle cx="497.6" cy="296.66" r="1.28" fill="#353535"/>
<circle cx="497.6" cy="301.4" r="1.28" fill="#353535"/>
<circle cx="497.6" cy="306.14" r="1.28" fill="#353535"/>
<line x1="501.57" y1="296.66" x2="501.57" y2="320.36" stroke="#555555" stroke-width="0.95"/>
<circle cx="501.57" cy="296.66" r="1.28" fill="#353535"/>
<circle cx="501.57" cy="320.36" r="1.28" fill="#353535"/>
<line x1="505.54" y1="320.36" x2="505.54" y2="325.1" stroke="#555555" stroke-width="0.95"/>
<circle cx="505.54" cy="320.36" r="1.28" fill="#353535"/>
<circle cx="505.54" cy="325.1" r="1.28" fill="#353535"/>
<circle cx="509.51" cy="329.84" r="1.28" fill="#353535"/>
<line x1="513.48" y1="320.36" x2="513.48" y2="334.58" stroke="#555555" stroke-width="0.95"/>
<circle cx="513.48" cy="320.36" r="1.28" fill="#353535"/>
<circle cx="513.48" cy="334.58" r="1.28" fill="#353535"/>
<line x1="517.45" y1="320.36" x2="517.45" y2="339.32" stroke="#b8b8b8" stroke-width="0.95"/>
<circle cx="517.45" cy="320.36" r="1.28" fill="#353535"/>
<circle cx="517.45" cy="339.32" r="1.28" fill="#353535"/>
<line x1="521.42" y1="306.14" x2="521.42" y2="344.06" stroke="#555555" stroke-width="0.95"/>
<circle cx="521.42" cy="306.14" r="1.28" fill="#353535"/>
<circle cx="521.42" cy="310.88" r="1.28" fill="#353535"/>
<circle cx="521.42" cy="320.36" r="1.28" fill="#353535"/>
<circle cx="521.42" cy="339.32" r="1.28" fill="#353535"/>
<circle cx="521.42" cy="344.06" r="1.28" fill="#353535"/>
<line x1="525.39" y1="296.66" x2="525.39" y2="344.06" stroke="#555555" stroke-width="0.95"/>
<circle cx="525.39" cy="296.66" r="1.28" fill="#353535"/>
<circle cx="525.39" cy="301.4" r="1.28" fill="#353535"/>
<circle cx="525.39" cy="306.14" r="1.28" fill="#353535"/>
<circle cx="525.39" cy="310.88" r="1.28" fill="#353535"/>
<circle cx="525.39" cy="315.62" r="1.28" fill="#353535"/>
<circle cx="525.39" cy="320.36" r="1.28" fill="#353535"/>
<circle cx="525.39" cy="325.1" r="1.28" fill="#353535"/>
<circle cx="525.39" cy="329.84" r="1.28" fill="#353535"/>
<circle cx="525.39" cy="334.58" r="1.28" fill="#353535"/>
<circle cx="525.39" cy="339.32" r="1.28" fill="#353535"/>
<circle cx="525.39" cy="344.06" r="1.28" fill="#353535"/>
<line x1="529.36" y1="282.44" x2="529.36" y2="344.06" stroke="#555555" stroke-width="0.95"/>
<circle cx="529.36" cy="282.44" r="1.28" fill="#353535"/>
<circle cx="529.36" cy="287.18" r="1.28" fill="#353535"/>
<circle cx="529.36" cy="296.66" r="1.28" fill="#353535"/>
<circle cx="529.36" cy="301.4" r="1.28" fill="#353535"/>
<circle cx="529.36" cy="306.14" r="1.28" fill="#353535"/>
<circle cx="529.36" cy="310.88" r="1.28" fill="#353535"/>
<circle cx="529.36" cy="315.62" r="1.28" fill="#353535"/>
<circle cx="529.36" cy="320.36" r="1.28" fill="#353535"/>
<circle cx="529.36" cy="325.1" r="1.28" fill="#353535"/>
<circle cx="529.36" cy="329.84" r="1.28" fill="#353535"/>
<circle cx="529.36" cy="334.58" r="1.28" fill="#353535"/>
<circle cx="529.36" cy="339.32" r="1.28" fill="#353535"/>
<circle cx="529.36" cy="344.06" r="1.28" fill="#353535"/>
<line x1="533.33" y1="282.44" x2="533.33" y2="348.8" stroke="#555555" stroke-width="0.95"/>
<circle cx="533.33" cy="282.44" r="1.28" fill="#353535"/>
<circle cx="533.33" cy="287.18" r="1.28" fill="#353535"/>
<circle cx="533.33" cy="291.92" r="1.28" fill="#353535"/>
<circle cx="533.33" cy="296.66" r="1.28" fill="#353535"/>
<circle cx="533.33" cy="310.88" r="1.28" fill="#353535"/>
<circle cx="533.33" cy="315.62" r="1.28" fill="#353535"/>
<circle cx="533.33" cy="320.36" r="1.28" fill="#353535"/>
<circle cx="533.33" cy="329.84" r="1.28" fill="#353535"/>
<circle cx="533.33" cy="334.58" r="1.28" fill="#353535"/>
<circle cx="533.33" cy="348.8" r="1.28" fill="#353535"/>
<line x1="537.3" y1="282.44" x2="537.3" y2="348.8" stroke="#555555" stroke-width="0.95"/>
<circle cx="537.3" cy="282.44" r="1.28" fill="#353535"/>
<circle cx="537.3" cy="287.18" r="1.28" fill="#353535"/>
<circle cx="537.3" cy="296.66" r="1.28" fill="#353535"/>
<circle cx="537.3" cy="306.14" r="1.28" fill="#353535"/>
<circle cx="537.3" cy="315.62" r="1.28" fill="#353535"/>
<circle cx="537.3" cy="329.84" r="1.28" fill="#353535"/>
<circle cx="537.3" cy="334.58" r="1.28" fill="#353535"/>
<circle cx="537.3" cy="344.06" r="1.28" fill="#353535"/>
<circle cx="537.3" cy="348.8" r="1.28" fill="#353535"/>
<line x1="541.27" y1="282.44" x2="541.27" y2="348.8" stroke="#555555" stroke-width="0.95"/>
<circle cx="541.27" cy="282.44" r="1.28" fill="#353535"/>
<circle cx="541.27" cy="287.18" r="1.28" fill="#353535"/>
<circle cx="541.27" cy="291.92" r="1.28" fill="#353535"/>
<circle cx="541.27" cy="325.1" r="1.28" fill="#353535"/>
<circle cx="541.27" cy="329.84" r="1.28" fill="#353535"/>
<circle cx="541.27" cy="334.58" r="1.28" fill="#353535"/>
<circle cx="541.27" cy="339.32" r="1.28" fill="#353535"/>
<circle cx="541.27" cy="344.06" r="1.28" fill="#353535"/>
<circle cx="541.27" cy="348.8" r="1.28" fill="#353535"/>
<line x1="545.24" y1="282.44" x2="545.24" y2="348.8" stroke="#555555" stroke-width="0.95"/>
<circle cx="545.24" cy="282.44" r="1.28" fill="#353535"/>
<circle cx="545.24" cy="287.18" r="1.28" fill="#353535"/>
<circle cx="545.24" cy="296.66" r="1.28" fill="#353535"/>
<circle cx="545.24" cy="301.4" r="1.28" fill="#353535"/>
<circle cx="545.24" cy="306.14" r="1.28" fill="#353535"/>
<circle cx="545.24" cy="310.88" r="1.28" fill="#353535"/>
<circle cx="545.24" cy="315.62" r="1.28" fill="#353535"/>
<circle cx="545.24" cy="320.36" r="1.28" fill="#353535"/>
<circle cx="545.24" cy="325.1" r="1.28" fill="#353535"/>
<circle cx="545.24" cy="329.84" r="1.28" fill="#353535"/>
<circle cx="545.24" cy="334.58" r="1.28" fill="#353535"/>
<circle cx="545.24" cy="339.32" r="1.28" fill="#353535"/>
<circle cx="545.24" cy="344.06" r="1.28" fill="#353535"/>
<circle cx="545.24" cy="348.8" r="1.28" fill="#353535"/>
<circle cx="549.21" cy="358.28" r="1.28" fill="#353535"/>
<line x1="553.18" y1="282.44" x2="553.18" y2="363.02" stroke="#b8b8b8" stroke-width="0.95"/>
<circle cx="553.18" cy="282.44" r="1.28" fill="#353535"/>
<circle cx="553.18" cy="287.18" r="1.28" fill="#353535"/>
<circle cx="553.18" cy="363.02" r="1.28" fill="#353535"/>
<circle cx="557.15" cy="282.44" r="1.28" fill="#353535"/>
<circle cx="557.15" cy="367.76" r="1.28" fill="#353535"/>
<line x1="561.12" y1="320.36" x2="561.12" y2="339.32" stroke="#555555" stroke-width="0.95"/>
<circle cx="561.12" cy="282.44" r="1.28" fill="#353535"/>
<circle cx="561.12" cy="320.36" r="1.28" fill="#353535"/>
<circle cx="561.12" cy="325.1" r="1.28" fill="#353535"/>
<circle cx="561.12" cy="329.84" r="1.28" fill="#353535"/>
<circle cx="561.12" cy="334.58" r="1.28" fill="#353535"/>
<circle cx="561.12" cy="339.32" r="1.28" fill="#353535"/>
<circle cx="561.12" cy="367.76" r="1.28" fill="#353535"/>
<line x1="565.09" y1="325.1" x2="565.09" y2="334.58" stroke="#555555" stroke-width="0.95"/>
<circle cx="565.09" cy="287.18" r="1.28" fill="#353535"/>
<circle cx="565.09" cy="296.66" r="1.28" fill="#353535"/>
<circle cx="565.09" cy="306.14" r="1.28" fill="#353535"/>
<circle cx="565.09" cy="310.88" r="1.28" fill="#353535"/>
<circle cx="565.09" cy="325.1" r="1.28" fill="#353535"/>
<circle cx="565.09" cy="329.84" r="1.28" fill="#353535"/>
<circle cx="565.09" cy="334.58" r="1.28" fill="#353535"/>
<circle cx="565.09" cy="348.8" r="1.28" fill="#353535"/>
<circle cx="565.09" cy="367.76" r="1.28" fill="#353535"/>
<line x1="569.06" y1="353.54" x2="569.06" y2="367.76" stroke="#555555" stroke-width="0.95"/>
<circle cx="569.06" cy="353.54" r="1.28" fill="#353535"/>
<circle cx="569.06" cy="358.28" r="1.28" fill="#353535"/>
<circle cx="569.06" cy="367.76" r="1.28" fill="#353535"/>
<line x1="573.03" y1="277.7" x2="573.03" y2="367.76" stroke="#555555" stroke-width="0.95"/>
<circle cx="573.03" cy="277.7" r="1.28" fill="#353535"/>
<circle cx="573.03" cy="353.54" r="1.28" fill="#353535"/>
<circle cx="573.03" cy="358.28" r="1.28" fill="#353535"/>
<circle cx="573.03" cy="367.76" r="1.28" fill="#353535"/>
<line x1="577" y1="277.7" x2="577" y2="367.76" stroke="#555555" stroke-width="0.95"/>
<circle cx="577" cy="277.7" r="1.28" fill="#353535"/>
<circle cx="577" cy="282.44" r="1.28" fill="#353535"/>
<circle cx="577" cy="291.92" r="1.28" fill="#353535"/>
<circle cx="577" cy="353.54" r="1.28" fill="#353535"/>
<circle cx="577" cy="358.28" r="1.28" fill="#353535"/>
<circle cx="577" cy="367.76" r="1.28" fill="#353535"/>
<line x1="580.97" y1="277.7" x2="580.97" y2="367.76" stroke="#555555" stroke-width="0.95"/>
<circle cx="580.97" cy="277.7" r="1.28" fill="#353535"/>
<circle cx="580.97" cy="287.18" r="1.28" fill="#353535"/>
<circle cx="580.97" cy="363.02" r="1.28" fill="#353535"/>
<circle cx="580.97" cy="367.76" r="1.28" fill="#353535"/>
<line x1="584.94" y1="277.7" x2="584.94" y2="367.76" stroke="#555555" stroke-width="0.95"/>
<circle cx="584.94" cy="277.7" r="1.28" fill="#353535"/>
<circle cx="584.94" cy="301.4" r="1.28" fill="#353535"/>
<circle cx="584.94" cy="306.14" r="1.28" fill="#353535"/>
<circle cx="584.94" cy="363.02" r="1.28" fill="#353535"/>
<circle cx="584.94" cy="367.76" r="1.28" fill="#353535"/>
<line x1="588.91" y1="310.88" x2="588.91" y2="367.76" stroke="#555555" stroke-width="0.95"/>
<circle cx="588.91" cy="310.88" r="1.28" fill="#353535"/>
<circle cx="588.91" cy="320.36" r="1.28" fill="#353535"/>
<circle cx="588.91" cy="325.1" r="1.28" fill="#353535"/>
<circle cx="588.91" cy="339.32" r="1.28" fill="#353535"/>
<circle cx="588.91" cy="363.02" r="1.28" fill="#353535"/>
<circle cx="588.91" cy="367.76" r="1.28" fill="#353535"/>
<line x1="592.88" y1="353.54" x2="592.88" y2="367.76" stroke="#555555" stroke-width="0.95"/>
<circle cx="592.88" cy="353.54" r="1.28" fill="#353535"/>
<circle cx="592.88" cy="363.02" r="1.28" fill="#353535"/>
<circle cx="592.88" cy="367.76" r="1.28" fill="#353535"/>
<line x1="596.85" y1="320.36" x2="596.85" y2="325.1" stroke="#555555" stroke-width="0.95"/>
<line x1="596.85" y1="334.58" x2="596.85" y2="339.32" stroke="#555555" stroke-width="0.95"/>
<circle cx="596.85" cy="282.44" r="1.28" fill="#353535"/>
<circle cx="596.85" cy="320.36" r="1.28" fill="#353535"/>
<circle cx="596.85" cy="325.1" r="1.28" fill="#353535"/>
<circle cx="596.85" cy="334.58" r="1.28" fill="#353535"/>
<circle cx="596.85" cy="339.32" r="1.28" fill="#353535"/>
<circle cx="596.85" cy="353.54" r="1.28" fill="#353535"/>
<circle cx="596.85" cy="363.02" r="1.28" fill="#353535"/>
<circle cx="596.85" cy="367.76" r="1.28" fill="#353535"/>
<line x1="600.82" y1="358.28" x2="600.82" y2="367.76" stroke="#555555" stroke-width="0.95"/>
<circle cx="600.82" cy="277.7" r="1.28" fill="#353535"/>
<circle cx="600.82" cy="282.44" r="1.28" fill="#353535"/>
<circle cx="600.82" cy="358.28" r="1.28" fill="#353535"/>
<circle cx="600.82" cy="363.02" r="1.28" fill="#353535"/>
<circle cx="600.82" cy="367.76" r="1.28" fill="#353535"/>
<line x1="604.79" y1="358.28" x2="604.79" y2="367.76" stroke="#555555" stroke-width="0.95"/>
<circle cx="604.79" cy="277.7" r="1.28" fill="#353535"/>
<circle cx="604.79" cy="282.44" r="1.28" fill="#353535"/>
<circle cx="604.79" cy="287.18" r="1.28" fill="#353535"/>
<circle cx="604.79" cy="291.92" r="1.28" fill="#353535"/>
<circle cx="604.79" cy="329.84" r="1.28" fill="#353535"/>
<circle cx="604.79" cy="334.58" r="1.28" fill="#353535"/>
<circle cx="604.79" cy="339.32" r="1.28" fill="#353535"/>
<circle cx="604.79" cy="344.06" r="1.28" fill="#353535"/>
<circle cx="604.79" cy="348.8" r="1.28" fill="#353535"/>
<circle cx="604.79" cy="358.28" r="1.28" fill="#353535"/>
<circle cx="604.79" cy="363.02" r="1.28" fill="#353535"/>
<circle cx="604.79" cy="367.76" r="1.28" fill="#353535"/>
<line x1="608.76" y1="282.44" x2="608.76" y2="367.76" stroke="#555555" stroke-width="0.95"/>
<circle cx="608.76" cy="282.44" r="1.28" fill="#353535"/>
<circle cx="608.76" cy="287.18" r="1.28" fill="#353535"/>
<circle cx="608.76" cy="291.92" r="1.28" fill="#353535"/>
<circle cx="608.76" cy="348.8" r="1.28" fill="#353535"/>
<circle cx="608.76" cy="353.54" r="1.28" fill="#353535"/>
<circle cx="608.76" cy="358.28" r="1.28" fill="#353535"/>
<circle cx="608.76" cy="363.02" r="1.28" fill="#353535"/>
<circle cx="608.76" cy="367.76" r="1.28" fill="#353535"/>
<line x1="612.73" y1="291.92" x2="612.73" y2="372.5" stroke="#555555" stroke-width="0.95"/>
<circle cx="612.73" cy="291.92" r="1.28" fill="#353535"/>
<circle cx="612.73" cy="358.28" r="1.28" fill="#353535"/>
<circle cx="612.73" cy="372.5" r="1.28" fill="#353535"/>
<line x1="616.7" y1="353.54" x2="616.7" y2="372.5" stroke="#555555" stroke-width="0.95"/>
<circle cx="616.7" cy="353.54" r="1.28" fill="#353535"/>
<circle cx="616.7" cy="358.28" r="1.28" fill="#353535"/>
<circle cx="616.7" cy="372.5" r="1.28" fill="#353535"/>
<line x1="620.67" y1="367.76" x2="620.67" y2="372.5" stroke="#555555" stroke-width="0.95"/>
<circle cx="620.67" cy="367.76" r="1.28" fill="#353535"/>
<circle cx="620.67" cy="372.5" r="1.28" fill="#353535"/>
<line x1="624.64" y1="277.7" x2="624.64" y2="372.5" stroke="#555555" stroke-width="0.95"/>
<circle cx="624.64" cy="277.7" r="1.28" fill="#353535"/>
<circle cx="624.64" cy="282.44" r="1.28" fill="#353535"/>
<circle cx="624.64" cy="296.66" r="1.28" fill="#353535"/>
<circle cx="624.64" cy="320.36" r="1.28" fill="#353535"/>
<circle cx="624.64" cy="325.1" r="1.28" fill="#353535"/>
<circle cx="624.64" cy="329.84" r="1.28" fill="#353535"/>
<circle cx="624.64" cy="334.58" r="1.28" fill="#353535"/>
<circle cx="624.64" cy="339.32" r="1.28" fill="#353535"/>
<circle cx="624.64" cy="367.76" r="1.28" fill="#353535"/>
<circle cx="624.64" cy="372.5" r="1.28" fill="#353535"/>
<circle cx="628.61" cy="282.44" r="1.28" fill="#353535"/>
<circle cx="628.61" cy="310.88" r="1.28" fill="#353535"/>
<circle cx="628.61" cy="315.62" r="1.28" fill="#353535"/>
<circle cx="628.61" cy="320.36" r="1.28" fill="#353535"/>
<circle cx="628.61" cy="325.1" r="1.28" fill="#353535"/>
<circle cx="628.61" cy="329.84" r="1.28" fill="#353535"/>
<circle cx="628.61" cy="334.58" r="1.28" fill="#353535"/>
<circle cx="628.61" cy="339.32" r="1.28" fill="#353535"/>
<circle cx="628.61" cy="367.76" r="1.28" fill="#353535"/>
<circle cx="628.61" cy="372.5" r="1.28" fill="#353535"/>
<line x1="632.58" y1="367.76" x2="632.58" y2="372.5" stroke="#555555" stroke-width="0.95"/>
<circle cx="632.58" cy="353.54" r="1.28" fill="#353535"/>
<circle cx="632.58" cy="367.76" r="1.28" fill="#353535"/>
<circle cx="632.58" cy="372.5" r="1.28" fill="#353535"/>
<circle cx="636.55" cy="277.7" r="1.28" fill="#353535"/>
<circle cx="636.55" cy="282.44" r="1.28" fill="#353535"/>
<circle cx="636.55" cy="287.18" r="1.28" fill="#353535"/>
<circle cx="636.55" cy="296.66" r="1.28" fill="#353535"/>
<circle cx="636.55" cy="301.4" r="1.28" fill="#353535"/>
<circle cx="636.55" cy="306.14" r="1.28" fill="#353535"/>
<circle cx="636.55" cy="310.88" r="1.28" fill="#353535"/>
<circle cx="636.55" cy="315.62" r="1.28" fill="#353535"/>
<circle cx="636.55" cy="320.36" r="1.28" fill="#353535"/>
<circle cx="636.55" cy="325.1" r="1.28" fill="#353535"/>
<circle cx="636.55" cy="329.84" r="1.28" fill="#353535"/>
<circle cx="636.55" cy="334.58" r="1.28" fill="#353535"/>
<circle cx="636.55" cy="339.32" r="1.28" fill="#353535"/>
<circle cx="636.55" cy="344.06" r="1.28" fill="#353535"/>
<circle cx="636.55" cy="348.8" r="1.28" fill="#353535"/>
<circle cx="636.55" cy="353.54" r="1.28" fill="#353535"/>
<circle cx="636.55" cy="367.76" r="1.28" fill="#353535"/>
<circle cx="636.55" cy="372.5" r="1.28" fill="#353535"/>
<line x1="640.52" y1="367.76" x2="640.52" y2="372.5" stroke="#555555" stroke-width="0.95"/>
<circle cx="640.52" cy="358.28" r="1.28" fill="#353535"/>
<circle cx="640.52" cy="367.76" r="1.28" fill="#353535"/>
<circle cx="640.52" cy="372.5" r="1.28" fill="#353535"/>
<line x1="644.49" y1="353.54" x2="644.49" y2="358.28" stroke="#555555" stroke-width="0.95"/>
<line x1="644.49" y1="367.76" x2="644.49" y2="372.5" stroke="#555555" stroke-width="0.95"/>
<circle cx="644.49" cy="353.54" r="1.28" fill="#353535"/>
<circle cx="644.49" cy="358.28" r="1.28" fill="#353535"/>
<circle cx="644.49" cy="367.76" r="1.28" fill="#353535"/>
<circle cx="644.49" cy="372.5" r="1.28" fill="#353535"/>
<line x1="648.46" y1="277.7" x2="648.46" y2="372.5" stroke="#555555" stroke-width="0.95"/>
<circle cx="648.46" cy="277.7" r="1.28" fill="#353535"/>
<circle cx="648.46" cy="353.54" r="1.28" fill="#353535"/>
<circle cx="648.46" cy="358.28" r="1.28" fill="#353535"/>
<circle cx="648.46" cy="367.76" r="1.28" fill="#353535"/>
<circle cx="648.46" cy="372.5" r="1.28" fill="#353535"/>
<line x1="652.43" y1="363.02" x2="652.43" y2="372.5" stroke="#555555" stroke-width="0.95"/>
<circle cx="652.43" cy="363.02" r="1.28" fill="#353535"/>
<circle cx="652.43" cy="367.76" r="1.28" fill="#353535"/>
<circle cx="652.43" cy="372.5" r="1.28" fill="#353535"/>
<line x1="656.4" y1="277.7" x2="656.4" y2="372.5" stroke="#555555" stroke-width="0.95"/>
<circle cx="656.4" cy="277.7" r="1.28" fill="#353535"/>
<circle cx="656.4" cy="301.4" r="1.28" fill="#353535"/>
<circle cx="656.4" cy="306.14" r="1.28" fill="#353535"/>
<circle cx="656.4" cy="339.32" r="1.28" fill="#353535"/>
<circle cx="656.4" cy="363.02" r="1.28" fill="#353535"/>
<circle cx="656.4" cy="367.76" r="1.28" fill="#353535"/>
<circle cx="656.4" cy="372.5" r="1.28" fill="#353535"/>
<line x1="660.37" y1="282.44" x2="660.37" y2="372.5" stroke="#555555" stroke-width="0.95"/>
<circle cx="660.37" cy="282.44" r="1.28" fill="#353535"/>
<circle cx="660.37" cy="301.4" r="1.28" fill="#353535"/>
<circle cx="660.37" cy="306.14" r="1.28" fill="#353535"/>
<circle cx="660.37" cy="310.88" r="1.28" fill="#353535"/>
<circle cx="660.37" cy="320.36" r="1.28" fill="#353535"/>
<circle cx="660.37" cy="325.1" r="1.28" fill="#353535"/>
<circle cx="660.37" cy="329.84" r="1.28" fill="#353535"/>
<circle cx="660.37" cy="334.58" r="1.28" fill="#353535"/>
<circle cx="660.37" cy="339.32" r="1.28" fill="#353535"/>
<circle cx="660.37" cy="363.02" r="1.28" fill="#353535"/>
<circle cx="660.37" cy="367.76" r="1.28" fill="#353535"/>
<circle cx="660.37" cy="372.5" r="1.28" fill="#353535"/>
<circle cx="664.34" cy="277.7" r="1.28" fill="#353535"/>
<circle cx="664.34" cy="287.18" r="1.28" fill="#353535"/>
<circle cx="664.34" cy="320.36" r="1.28" fill="#353535"/>
<circle cx="664.34" cy="329.84" r="1.28" fill="#353535"/>
<circle cx="664.34" cy="334.58" r="1.28" fill="#353535"/>
<circle cx="664.34" cy="353.54" r="1.28" fill="#353535"/>
<circle cx="664.34" cy="358.28" r="1.28" fill="#353535"/>
<circle cx="664.34" cy="363.02" r="1.28" fill="#353535"/>
<circle cx="664.34" cy="367.76" r="1.28" fill="#353535"/>
<circle cx="664.34" cy="372.5" r="1.28" fill="#353535"/>
<circle cx="668.31" cy="277.7" r="1.28" fill="#353535"/>
<circle cx="668.31" cy="320.36" r="1.28" fill="#353535"/>
<circle cx="668.31" cy="325.1" r="1.28" fill="#353535"/>
<circle cx="668.31" cy="329.84" r="1.28" fill="#353535"/>
<circle cx="668.31" cy="344.06" r="1.28" fill="#353535"/>
<circle cx="668.31" cy="353.54" r="1.28" fill="#353535"/>
<circle cx="668.31" cy="358.28" r="1.28" fill="#353535"/>
<circle cx="668.31" cy="363.02" r="1.28" fill="#353535"/>
<circle cx="668.31" cy="367.76" r="1.28" fill="#353535"/>
<circle cx="668.31" cy="372.5" r="1.28" fill="#353535"/>
<circle cx="672.28" cy="277.7" r="1.28" fill="#353535"/>
<circle cx="672.28" cy="282.44" r="1.28" fill="#353535"/>
<circle cx="672.28" cy="287.18" r="1.28" fill="#353535"/>
<circle cx="672.28" cy="320.36" r="1.28" fill="#353535"/>
<circle cx="672.28" cy="329.84" r="1.28" fill="#353535"/>
<circle cx="672.28" cy="339.32" r="1.28" fill="#353535"/>
<circle cx="672.28" cy="344.06" r="1.28" fill="#353535"/>
<circle cx="672.28" cy="353.54" r="1.28" fill="#353535"/>
<circle cx="672.28" cy="358.28" r="1.28" fill="#353535"/>
<circle cx="672.28" cy="363.02" r="1.28" fill="#353535"/>
<circle cx="672.28" cy="367.76" r="1.28" fill="#353535"/>
<circle cx="672.28" cy="372.5" r="1.28" fill="#353535"/>
<circle cx="676.25" cy="277.7" r="1.28" fill="#353535"/>
<circle cx="676.25" cy="282.44" r="1.28" fill="#353535"/>
<circle cx="676.25" cy="287.18" r="1.28" fill="#353535"/>
<circle cx="676.25" cy="291.92" r="1.28" fill="#353535"/>
<circle cx="676.25" cy="306.14" r="1.28" fill="#353535"/>
<circle cx="676.25" cy="310.88" r="1.28" fill="#353535"/>
<circle cx="676.25" cy="315.62" r="1.28" fill="#353535"/>
<circle cx="676.25" cy="334.58" r="1.28" fill="#353535"/>
<circle cx="676.25" cy="339.32" r="1.28" fill="#353535"/>
<circle cx="676.25" cy="344.06" r="1.28" fill="#353535"/>
<circle cx="676.25" cy="353.54" r="1.28" fill="#353535"/>
<circle cx="676.25" cy="358.28" r="1.28" fill="#353535"/>
<circle cx="676.25" cy="363.02" r="1.28" fill="#353535"/>
<circle cx="676.25" cy="367.76" r="1.28" fill="#353535"/>
<circle cx="676.25" cy="372.5" r="1.28" fill="#353535"/>
<circle cx="680.22" cy="277.7" r="1.28" fill="#353535"/>
<circle cx="680.22" cy="282.44" r="1.28" fill="#353535"/>
<circle cx="680.22" cy="287.18" r="1.28" fill="#353535"/>
<circle cx="680.22" cy="291.92" r="1.28" fill="#353535"/>
<circle cx="680.22" cy="296.66" r="1.28" fill="#353535"/>
<circle cx="680.22" cy="310.88" r="1.28" fill="#353535"/>
<circle cx="680.22" cy="320.36" r="1.28" fill="#353535"/>
<circle cx="680.22" cy="325.1" r="1.28" fill="#353535"/>
<circle cx="680.22" cy="329.84" r="1.28" fill="#353535"/>
<circle cx="680.22" cy="334.58" r="1.28" fill="#353535"/>
<circle cx="680.22" cy="339.32" r="1.28" fill="#353535"/>
<circle cx="680.22" cy="344.06" r="1.28" fill="#353535"/>
<circle cx="680.22" cy="353.54" r="1.28" fill="#353535"/>
<circle cx="680.22" cy="358.28" r="1.28" fill="#353535"/>
<circle cx="680.22" cy="363.02" r="1.28" fill="#353535"/>
<circle cx="680.22" cy="367.76" r="1.28" fill="#353535"/>
<circle cx="680.22" cy="372.5" r="1.28" fill="#353535"/>
<rect x="323.2" y="276.7" width="47.6" height="2" fill="#8b0000"/>
<rect x="347.4" y="281.44" width="23.4" height="2" fill="#8b0000"/>
<rect x="348.3" y="286.18" width="22.5" height="2" fill="#8b0000"/>
<rect x="357.1" y="290.92" width="13.7" height="2" fill="#8b0000"/>
<rect x="358" y="295.66" width="12.8" height="2" fill="#8b0000"/>
<rect x="360.1" y="300.4" width="10.7" height="2" fill="#8b0000"/>
<rect x="358" y="305.14" width="12.8" height="2" fill="#8b0000"/>
<rect x="358" y="309.88" width="12.8" height="2" fill="#8b0000"/>
<rect x="360.1" y="314.62" width="10.7" height="2" fill="#8b0000"/>
<rect x="351.9" y="319.36" width="18.9" height="2" fill="#8b0000"/>
<rect x="355.9" y="324.1" width="14.9" height="2" fill="#8b0000"/>
<rect x="354" y="328.84" width="16.8" height="2" fill="#8b0000"/>
<rect x="351.9" y="333.58" width="18.9" height="2" fill="#8b0000"/>
<rect x="354" y="338.32" width="16.8" height="2" fill="#8b0000"/>
<rect x="358.9" y="343.06" width="11.9" height="2" fill="#8b0000"/>
<rect x="362.5" y="347.8" width="8.3" height="2" fill="#8b0000"/>
<rect x="333.2" y="352.54" width="37.6" height="2" fill="#8b0000"/>
<rect x="339.8" y="357.28" width="31" height="2" fill="#8b0000"/>
<rect x="314.2" y="362.02" width="56.6" height="2" fill="#8b0000"/>
<rect x="296.6" y="366.76" width="74.2" height="2" fill="#8b0000"/>
<rect x="333.2" y="371.5" width="37.6" height="2" fill="#8b0000"/>
<text x="309.33" y="381.1" text-anchor="middle" font-size="6.4" fill="#555">75</text>
<text x="329.65" y="381.1" text-anchor="middle" font-size="6.4" fill="#555">50</text>
<text x="349.98" y="381.1" text-anchor="middle" font-size="6.4" fill="#555">25</text>
<text x="370.3" y="381.1" text-anchor="middle" font-size="6.4" fill="#555">0</text>
<text x="393" y="280.1" text-anchor="end" font-size="6.6" fill="#222" textLength="9.6" lengthAdjust="spacingAndGlyphs">E21</text>
<text x="380.3" y="280.1" font-size="4.6" fill="#333">L</text>
<text x="393" y="284.84" text-anchor="end" font-size="6.6" fill="#222" textLength="9.6" lengthAdjust="spacingAndGlyphs">E20</text>
<text x="380.3" y="284.84" font-size="4.6" fill="#333">L</text>
<text x="393" y="289.58" text-anchor="end" font-size="6.6" fill="#222" textLength="9.6" lengthAdjust="spacingAndGlyphs">E19</text>
<text x="380.3" y="289.58" font-size="4.6" fill="#333">L</text>
<text x="393" y="294.32" text-anchor="end" font-size="6.6" fill="#222" textLength="9.6" lengthAdjust="spacingAndGlyphs">E18</text>
<text x="380.3" y="294.32" font-size="4.6" fill="#333">L</text>
<text x="393" y="299.06" text-anchor="end" font-size="6.6" fill="#222" textLength="9.6" lengthAdjust="spacingAndGlyphs">E17</text>
<text x="380.3" y="299.06" font-size="4.6" fill="#333">L</text>
<text x="393" y="303.8" text-anchor="end" font-size="6.6" fill="#222" textLength="9.6" lengthAdjust="spacingAndGlyphs">E16</text>
<text x="380.3" y="303.8" font-size="4.6" fill="#333">L</text>
<text x="393" y="308.54" text-anchor="end" font-size="6.6" fill="#222" textLength="9.6" lengthAdjust="spacingAndGlyphs">E15</text>
<text x="380.3" y="308.54" font-size="4.6" fill="#333">L</text>
<text x="393" y="313.28" text-anchor="end" font-size="6.6" fill="#222" textLength="9.6" lengthAdjust="spacingAndGlyphs">E14</text>
<text x="380.3" y="313.28" font-size="4.6" fill="#333">L</text>
<text x="393" y="318.02" text-anchor="end" font-size="6.6" fill="#222" textLength="9.6" lengthAdjust="spacingAndGlyphs">E13</text>
<text x="380.3" y="318.02" font-size="4.6" fill="#333">L</text>
<text x="393" y="322.76" text-anchor="end" font-size="6.6" fill="#222" textLength="9.6" lengthAdjust="spacingAndGlyphs">E12</text>
<text x="380.3" y="322.76" font-size="4.6" fill="#333">L</text>
<text x="393" y="327.5" text-anchor="end" font-size="6.6" fill="#222" textLength="9.6" lengthAdjust="spacingAndGlyphs">E11</text>
<text x="380.3" y="327.5" font-size="4.6" fill="#333">L</text>
<text x="393" y="332.24" text-anchor="end" font-size="6.6" fill="#222" textLength="9.6" lengthAdjust="spacingAndGlyphs">E10</text>
<text x="380.3" y="332.24" font-size="4.6" fill="#333">L</text>
<text x="393" y="336.98" text-anchor="end" font-size="6.6" fill="#222" textLength="9.6" lengthAdjust="spacingAndGlyphs">E9</text>
<text x="380.3" y="336.98" font-size="4.6" fill="#333">L</text>
<text x="393" y="341.72" text-anchor="end" font-size="6.6" fill="#222" textLength="9.6" lengthAdjust="spacingAndGlyphs">E8</text>
<text x="380.3" y="341.72" font-size="4.6" fill="#333">L</text>
<text x="393" y="346.46" text-anchor="end" font-size="6.6" fill="#222" textLength="9.6" lengthAdjust="spacingAndGlyphs">E7</text>
<text x="380.3" y="346.46" font-size="4.6" fill="#333">L</text>
<text x="393" y="351.2" text-anchor="end" font-size="6.6" fill="#222" textLength="9.6" lengthAdjust="spacingAndGlyphs">E6</text>
<text x="380.3" y="351.2" font-size="4.6" fill="#333">L</text>
<text x="393" y="355.94" text-anchor="end" font-size="6.6" fill="#222" textLength="9.6" lengthAdjust="spacingAndGlyphs">E5</text>
<text x="380.3" y="355.94" font-size="4.6" fill="#333">L</text>
<text x="393" y="360.68" text-anchor="end" font-size="6.6" fill="#222" textLength="9.6" lengthAdjust="spacingAndGlyphs">E4</text>
<text x="380.3" y="360.68" font-size="4.6" fill="#333">L</text>
<text x="393" y="365.42" text-anchor="end" font-size="6.6" fill="#222" textLength="9.6" lengthAdjust="spacingAndGlyphs">E3</text>
<text x="380.3" y="365.42" font-size="4.6" fill="#333">L</text>
<text x="393" y="370.16" text-anchor="end" font-size="6.6" fill="#222" textLength="9.6" lengthAdjust="spacingAndGlyphs">E2</text>
<text x="380.3" y="370.16" font-size="4.6" fill="#333">L</text>
<text x="393" y="374.9" text-anchor="end" font-size="6.6" fill="#222" textLength="9.6" lengthAdjust="spacingAndGlyphs">E1</text>
<text x="380.3" y="374.9" font-size="4.6" fill="#333">L</text>
<text x="338.6" y="390.1" text-anchor="middle" class="sf" font-size="9.8" fill="#111">Total number</text>
<text x="535.1" y="103.4" text-anchor="middle" class="sf" font-size="12" fill="#111">September</text>
<text transform="translate(373.2,164.1) rotate(-90)" text-anchor="middle" class="sf" font-size="9.9" fill="#111">Number of species</text>
<text x="525.9" y="393.3" text-anchor="middle" class="sf" font-size="16.4" fill="#111">(b)</text>
</svg></body></html>
